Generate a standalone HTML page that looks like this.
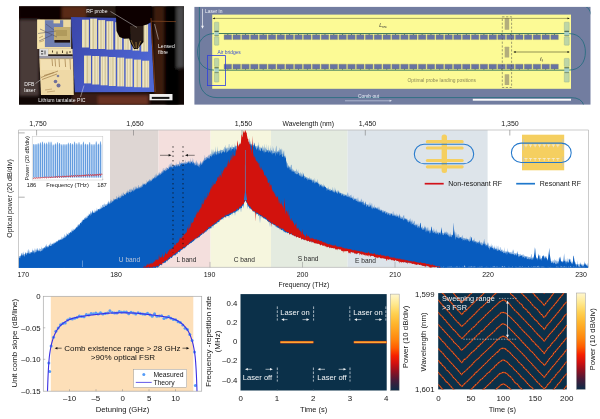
<!DOCTYPE html>
<html lang="en">
<head>
<meta charset="utf-8">
<title>Electro-optic comb figure</title>
<style>
html,body{margin:0;padding:0;background:#fff;}
body{width:600px;height:419px;overflow:hidden;}
svg{display:block;}
svg text{font-family:"Liberation Sans", "DejaVu Sans", sans-serif;}
</style>
</head>
<body>
<svg width="600" height="419" viewBox="0 0 600 419">
<rect x="0" y="0" width="600" height="419" fill="#ffffff"/>
<g id="photo">
<defs>
<clipPath id="cpPhoto"><rect x="19" y="6.3" width="165" height="98.4"/></clipPath>
<linearGradient id="gPic" x1="0" y1="0" x2="1" y2="0.6"><stop offset="0" stop-color="#3a46a8"/><stop offset="0.5" stop-color="#4456c0"/><stop offset="1" stop-color="#4f68d4"/></linearGradient>
<linearGradient id="gStrip" x1="0" y1="0" x2="1" y2="0"><stop offset="0" stop-color="#e4d8a8"/><stop offset="0.2" stop-color="#f0e8c6"/><stop offset="0.3" stop-color="#cfc294"/><stop offset="0.42" stop-color="#f0e8c6"/><stop offset="0.5" stop-color="#cfc294"/><stop offset="0.6" stop-color="#f0e8c6"/><stop offset="0.72" stop-color="#cfc294"/><stop offset="0.82" stop-color="#f0e8c6"/><stop offset="1" stop-color="#e0d4a4"/></linearGradient>
<linearGradient id="gBg" x1="0" y1="0" x2="1" y2="0"><stop offset="0" stop-color="#2a1a18"/><stop offset="0.15" stop-color="#1c100e"/><stop offset="0.4" stop-color="#140805"/><stop offset="1" stop-color="#0a0403"/></linearGradient>
<filter id="bl1" x="-10%" y="-10%" width="120%" height="120%"><feGaussianBlur stdDeviation="0.5"/></filter>
<filter id="bl2" x="-10%" y="-10%" width="120%" height="120%"><feGaussianBlur stdDeviation="1.5"/></filter>
</defs>
<g clip-path="url(#cpPhoto)">
<rect x="19" y="6" width="165" height="99" fill="#100705"/>
<g filter="url(#bl2)">
<rect x="19" y="20" width="20" height="76" fill="#4a3a37"/>
<rect x="19" y="6" width="45" height="14" fill="#0a0302"/>
<rect x="62" y="6" width="24" height="13" fill="#5a2c16"/>
<rect x="86" y="6" width="30" height="11" fill="#2a1a14"/>
<rect x="154" y="6" width="10" height="90" fill="#3e1e0e"/>
<rect x="166" y="6" width="13" height="99" fill="#050202"/>
<rect x="176.5" y="6" width="8" height="62" fill="#48484c"/>
<rect x="72" y="93" width="78" height="12" fill="#3a1a12"/>
<rect x="98" y="96" width="50" height="9" fill="#6a3020"/>
</g>
<g filter="url(#bl1)">
<rect x="37.2" y="19.5" width="34" height="29.5" fill="#f0dca4"/>
<rect x="44.8" y="20.2" width="25.9" height="26.8" fill="#6f7fb0"/>
<rect x="37.4" y="19.8" width="7.2" height="29" fill="#f6e4ac"/>
<rect x="53.5" y="20" width="6.5" height="3.4" fill="#ecd89c"/>
<rect x="63.2" y="20" width="7.4" height="7" fill="#ecd8a0"/>
<rect x="54" y="27" width="16" height="13.2" fill="#c4ae6e"/>
<rect x="56" y="30" width="11" height="6" fill="#b09a5c"/>
<rect x="54.5" y="40" width="15.5" height="2.6" fill="#1a100a"/>
<path d="M38 33.5 L56 31 M40 29 L57 37 M39 41 L52 35 M46 24 L54 30" stroke="#4a4658" stroke-width="0.5" fill="none"/>
<path d="M39 38 L43 36 M39.5 42 L44 40.5" stroke="#a08050" stroke-width="0.6" fill="none"/>
<rect x="39.3" y="48.8" width="33.5" height="9.8" fill="#9a98a4"/>
<rect x="39.5" y="49" width="8.6" height="7" fill="#dedede"/>
<path d="M41 50.5 h2.2 v1.6 h-2.2z M44.5 50.5 h1 v4 h-1z M41 53.2 h2.2 v1.4 h-2.2z" fill="#555"/>
<rect x="48.2" y="49" width="24.4" height="5.6" fill="#f2e2b0"/>
<rect x="48.2" y="54.4" width="24.4" height="1.5" fill="#1c120c"/>
<path d="M52.5 50.5 v2 M57 51.5 v2.5 M62.5 50.5 v2.5 M67 51.5 v2.5 M70 51 v2" stroke="#3a2a18" stroke-width="0.9" fill="none"/>
<path d="M39.3 58.5 L73.3 58.5 L73.8 95 L41 95 Z" fill="#efd9a6"/>
<rect x="41" y="60" width="31" height="10" fill="#f3e0b2"/>
<path d="M41 77.5 L58 71 M42 79.5 L57 74 M44 75.5 L54 72.5 M52 59 L52.6 66 M55 59 L55.6 66.5 M59 59 L59.5 67 M65 59 L65.6 67 M70 59 L70.5 69.5" stroke="#a07c48" stroke-width="0.7" fill="none"/>
<path d="M45 90 L52 89 M47 92 L55 91" stroke="#b08c58" stroke-width="0.6" fill="none"/>
<circle cx="55.5" cy="81.5" r="1.8" fill="#70709a"/><circle cx="58.5" cy="85.5" r="2" fill="#70709a"/><circle cx="58" cy="76" r="1.3" fill="#80809c"/>
<path d="M71 17 L150.5 18.5 L154.3 92 L74.8 92.3 Z" fill="url(#gPic)"/>
<rect x="82" y="19.7" width="6.9" height="27.8" fill="url(#gStrip)"/>
<rect x="90.1" y="18.6" width="6.9" height="30.4" fill="url(#gStrip)"/>
<rect x="98.2" y="20.1" width="6.9" height="28.9" fill="url(#gStrip)"/>
<rect x="106.4" y="21.2" width="6.9" height="28.4" fill="url(#gStrip)"/>
<rect x="115.2" y="22.2" width="6.9" height="27.4" fill="url(#gStrip)"/>
<rect x="123.8" y="22.5" width="6.9" height="27.3" fill="url(#gStrip)"/>
<rect x="132.5" y="23" width="6.9" height="27.6" fill="url(#gStrip)"/>
<rect x="141.2" y="24.2" width="6.9" height="27.4" fill="url(#gStrip)"/>
<rect x="84" y="55.6" width="7.0" height="27.8" fill="url(#gStrip)"/>
<rect x="92.2" y="56" width="7.0" height="28.5" fill="url(#gStrip)"/>
<rect x="100.6" y="56.5" width="7.0" height="28.8" fill="url(#gStrip)"/>
<rect x="108.8" y="57" width="7.0" height="29" fill="url(#gStrip)"/>
<rect x="117.2" y="57.6" width="7.0" height="28.8" fill="url(#gStrip)"/>
<rect x="125.6" y="58.6" width="7.0" height="28.2" fill="url(#gStrip)"/>
<rect x="134" y="59.6" width="7.0" height="27.6" fill="url(#gStrip)"/>
<rect x="142.2" y="60.7" width="7.0" height="26.8" fill="url(#gStrip)"/>
<path d="M115.6 6 L151.5 6 L151.5 22 L147 24.5 L143.5 25.5 L143.5 42 L140 46 L137.5 49 L134 49 L131 44 L129 38.5 L124 38.8 L119.5 37 L116.5 31 Z" fill="#0b0605"/>
<path d="M130 26 L131 42 L135.5 48.5 L140 44 L143 40 L143 26 Z" fill="#2c1e14"/>
<path d="M131 40 L134.5 48 M136 42 L136.3 48.5 M140.5 41 L138 48" stroke="#b08a48" stroke-width="0.7" fill="none"/>
<rect x="149.5" y="94" width="23" height="6.3" fill="#efefef"/>
<rect x="151.8" y="96.9" width="17.6" height="2" fill="#151515"/>
</g>
<path d="M110.5 11.5 L137 27.5 M158.5 39.5 L154.6 24 M35.5 83.5 L41 79.5 M80.5 97 L84 85.5" stroke="#f0f0f0" stroke-width="0.45" fill="none"/>
<path d="M151.5 21.2 L176 21.6" stroke="#8a4a22" stroke-width="0.7" fill="none"/>
<path d="M151 18 L152.2 40 L155.2 92" stroke="#a8521e" stroke-width="1.1" fill="none" opacity="0.6"/>
</g>
<text x="86.3" y="13" font-size="5.1" fill="#f4f4f4" text-anchor="start">RF probe</text>
<text x="158" y="47.5" font-size="5.1" fill="#f4f4f4" text-anchor="start">Lensed</text>
<text x="158" y="53.7" font-size="5.1" fill="#f4f4f4" text-anchor="start">fibre</text>
<text x="24.3" y="86.2" font-size="5.1" fill="#f4f4f4" text-anchor="start">DFB</text>
<text x="24.3" y="92.2" font-size="5.1" fill="#f4f4f4" text-anchor="start">laser</text>
<text x="38.2" y="101.7" font-size="5.1" fill="#f4f4f4" text-anchor="start">Lithium tantalate PIC</text>
</g>
<g id="schem">
<defs><clipPath id="cpS"><rect x="194.4" y="6.9" width="396.1" height="97.7"/></clipPath></defs>
<rect x="194.4" y="6.9" width="396.1" height="97.7" fill="#727da0"/>
<rect x="212.2" y="14.6" width="358.8" height="74.2" fill="#fcfa95"/>
<g clip-path="url(#cpS)" fill="none">
<path d="M199.4 6 L199.4 79 C199.4 90 206 97.6 217 97.6 L571 97.6 Q582 97.6 584 106" stroke="#1f6b7c" stroke-width="0.8"/>
<path d="M214 33.6 C203 33.6 197.6 42 197.6 52 C197.6 62 203 70.1 214 70.1" stroke="#1f6b7c" stroke-width="0.8"/>
<path d="M569 33.6 C580 33.6 585.4 42 585.4 52 C585.4 62 580 70.1 569 70.1" stroke="#1f6b7c" stroke-width="0.8"/>
<path d="M585 6 Q589.6 8 591 14.5" stroke="#1f6b7c" stroke-width="0.8"/>
</g>
<rect x="216" y="33.1" width="350" height="0.9" fill="#2c6f58"/>
<rect x="216" y="69.7" width="350" height="0.9" fill="#2c6f58"/>
<path d="M224.1 34.8h7.5v4.8h-7.5z M224.1 64.2h7.5v4.7h-7.5z M232.93 34.8h7.5v4.8h-7.5z M232.93 64.2h7.5v4.7h-7.5z M241.76 34.8h7.5v4.8h-7.5z M241.76 64.2h7.5v4.7h-7.5z M250.59 34.8h7.5v4.8h-7.5z M250.59 64.2h7.5v4.7h-7.5z M259.42 34.8h7.5v4.8h-7.5z M259.42 64.2h7.5v4.7h-7.5z M268.25 34.8h7.5v4.8h-7.5z M268.25 64.2h7.5v4.7h-7.5z M277.08 34.8h7.5v4.8h-7.5z M277.08 64.2h7.5v4.7h-7.5z M285.91 34.8h7.5v4.8h-7.5z M285.91 64.2h7.5v4.7h-7.5z M294.74 34.8h7.5v4.8h-7.5z M294.74 64.2h7.5v4.7h-7.5z M303.57 34.8h7.5v4.8h-7.5z M303.57 64.2h7.5v4.7h-7.5z M312.4 34.8h7.5v4.8h-7.5z M312.4 64.2h7.5v4.7h-7.5z M321.23 34.8h7.5v4.8h-7.5z M321.23 64.2h7.5v4.7h-7.5z M330.06 34.8h7.5v4.8h-7.5z M330.06 64.2h7.5v4.7h-7.5z M338.89 34.8h7.5v4.8h-7.5z M338.89 64.2h7.5v4.7h-7.5z M347.72 34.8h7.5v4.8h-7.5z M347.72 64.2h7.5v4.7h-7.5z M356.55 34.8h7.5v4.8h-7.5z M356.55 64.2h7.5v4.7h-7.5z M365.38 34.8h7.5v4.8h-7.5z M365.38 64.2h7.5v4.7h-7.5z M374.21 34.8h7.5v4.8h-7.5z M374.21 64.2h7.5v4.7h-7.5z M383.04 34.8h7.5v4.8h-7.5z M383.04 64.2h7.5v4.7h-7.5z M391.87 34.8h7.5v4.8h-7.5z M391.87 64.2h7.5v4.7h-7.5z M400.7 34.8h7.5v4.8h-7.5z M400.7 64.2h7.5v4.7h-7.5z M409.53 34.8h7.5v4.8h-7.5z M409.53 64.2h7.5v4.7h-7.5z M418.36 34.8h7.5v4.8h-7.5z M418.36 64.2h7.5v4.7h-7.5z M427.19 34.8h7.5v4.8h-7.5z M427.19 64.2h7.5v4.7h-7.5z M436.02 34.8h7.5v4.8h-7.5z M436.02 64.2h7.5v4.7h-7.5z M444.85 34.8h7.5v4.8h-7.5z M444.85 64.2h7.5v4.7h-7.5z M453.68 34.8h7.5v4.8h-7.5z M453.68 64.2h7.5v4.7h-7.5z M462.51 34.8h7.5v4.8h-7.5z M462.51 64.2h7.5v4.7h-7.5z M471.34 34.8h7.5v4.8h-7.5z M471.34 64.2h7.5v4.7h-7.5z M480.17 34.8h7.5v4.8h-7.5z M480.17 64.2h7.5v4.7h-7.5z M489 34.8h7.5v4.8h-7.5z M489 64.2h7.5v4.7h-7.5z M497.83 34.8h7.5v4.8h-7.5z M497.83 64.2h7.5v4.7h-7.5z M506.66 34.8h7.5v4.8h-7.5z M506.66 64.2h7.5v4.7h-7.5z M515.49 34.8h7.5v4.8h-7.5z M515.49 64.2h7.5v4.7h-7.5z M524.32 34.8h7.5v4.8h-7.5z M524.32 64.2h7.5v4.7h-7.5z M533.15 34.8h7.5v4.8h-7.5z M533.15 64.2h7.5v4.7h-7.5z M541.98 34.8h7.5v4.8h-7.5z M541.98 64.2h7.5v4.7h-7.5z M550.81 34.8h7.5v4.8h-7.5z M550.81 64.2h7.5v4.7h-7.5z" fill="#6873a2" stroke="#7f8266" stroke-width="0.35"/>
<path d="M227.45 33.9h0.8v1h-0.8z M227.45 68.8h0.8v1h-0.8z M236.28 33.9h0.8v1h-0.8z M236.28 68.8h0.8v1h-0.8z M245.11 33.9h0.8v1h-0.8z M245.11 68.8h0.8v1h-0.8z M253.94 33.9h0.8v1h-0.8z M253.94 68.8h0.8v1h-0.8z M262.77 33.9h0.8v1h-0.8z M262.77 68.8h0.8v1h-0.8z M271.6 33.9h0.8v1h-0.8z M271.6 68.8h0.8v1h-0.8z M280.43 33.9h0.8v1h-0.8z M280.43 68.8h0.8v1h-0.8z M289.26 33.9h0.8v1h-0.8z M289.26 68.8h0.8v1h-0.8z M298.09 33.9h0.8v1h-0.8z M298.09 68.8h0.8v1h-0.8z M306.92 33.9h0.8v1h-0.8z M306.92 68.8h0.8v1h-0.8z M315.75 33.9h0.8v1h-0.8z M315.75 68.8h0.8v1h-0.8z M324.58 33.9h0.8v1h-0.8z M324.58 68.8h0.8v1h-0.8z M333.41 33.9h0.8v1h-0.8z M333.41 68.8h0.8v1h-0.8z M342.24 33.9h0.8v1h-0.8z M342.24 68.8h0.8v1h-0.8z M351.07 33.9h0.8v1h-0.8z M351.07 68.8h0.8v1h-0.8z M359.9 33.9h0.8v1h-0.8z M359.9 68.8h0.8v1h-0.8z M368.73 33.9h0.8v1h-0.8z M368.73 68.8h0.8v1h-0.8z M377.56 33.9h0.8v1h-0.8z M377.56 68.8h0.8v1h-0.8z M386.39 33.9h0.8v1h-0.8z M386.39 68.8h0.8v1h-0.8z M395.22 33.9h0.8v1h-0.8z M395.22 68.8h0.8v1h-0.8z M404.05 33.9h0.8v1h-0.8z M404.05 68.8h0.8v1h-0.8z M412.88 33.9h0.8v1h-0.8z M412.88 68.8h0.8v1h-0.8z M421.71 33.9h0.8v1h-0.8z M421.71 68.8h0.8v1h-0.8z M430.54 33.9h0.8v1h-0.8z M430.54 68.8h0.8v1h-0.8z M439.37 33.9h0.8v1h-0.8z M439.37 68.8h0.8v1h-0.8z M448.2 33.9h0.8v1h-0.8z M448.2 68.8h0.8v1h-0.8z M457.03 33.9h0.8v1h-0.8z M457.03 68.8h0.8v1h-0.8z M465.86 33.9h0.8v1h-0.8z M465.86 68.8h0.8v1h-0.8z M474.69 33.9h0.8v1h-0.8z M474.69 68.8h0.8v1h-0.8z M483.52 33.9h0.8v1h-0.8z M483.52 68.8h0.8v1h-0.8z M492.35 33.9h0.8v1h-0.8z M492.35 68.8h0.8v1h-0.8z M501.18 33.9h0.8v1h-0.8z M501.18 68.8h0.8v1h-0.8z M510.01 33.9h0.8v1h-0.8z M510.01 68.8h0.8v1h-0.8z M518.84 33.9h0.8v1h-0.8z M518.84 68.8h0.8v1h-0.8z M527.67 33.9h0.8v1h-0.8z M527.67 68.8h0.8v1h-0.8z M536.5 33.9h0.8v1h-0.8z M536.5 68.8h0.8v1h-0.8z M545.33 33.9h0.8v1h-0.8z M545.33 68.8h0.8v1h-0.8z M554.16 33.9h0.8v1h-0.8z M554.16 68.8h0.8v1h-0.8z" fill="#3d6a6a"/>
<rect x="214.4" y="22.2" width="4.4" height="8.7" rx="0.6" fill="#bdd6a6" stroke="#8fa88a" stroke-width="0.4"/>
<rect x="214.4" y="36.8" width="4.4" height="8.4" rx="0.6" fill="#bdd6a6" stroke="#8fa88a" stroke-width="0.4"/>
<rect x="214.4" y="58.4" width="4.4" height="8.2" rx="0.6" fill="#bdd6a6" stroke="#8fa88a" stroke-width="0.4"/>
<rect x="214.4" y="73" width="4.4" height="9.1" rx="0.6" fill="#bdd6a6" stroke="#8fa88a" stroke-width="0.4"/>
<rect x="214.4" y="31.5" width="4.4" height="4.2" fill="#a6cfc4"/>
<rect x="214.4" y="30.900000000000002" width="4.4" height="0.8" fill="#24453c"/>
<rect x="214.4" y="35.5" width="4.4" height="0.6" fill="#4a6a5c"/>
<rect x="214.4" y="68.0" width="4.4" height="4.2" fill="#a6cfc4"/>
<rect x="214.4" y="67.39999999999999" width="4.4" height="0.8" fill="#24453c"/>
<rect x="214.4" y="72.0" width="4.4" height="0.6" fill="#4a6a5c"/>
<rect x="564.3" y="22.2" width="4.9" height="8.7" rx="0.6" fill="#bdd6a6" stroke="#8fa88a" stroke-width="0.4"/>
<rect x="564.3" y="36.8" width="4.9" height="8.4" rx="0.6" fill="#bdd6a6" stroke="#8fa88a" stroke-width="0.4"/>
<rect x="564.3" y="58.4" width="4.9" height="8.2" rx="0.6" fill="#bdd6a6" stroke="#8fa88a" stroke-width="0.4"/>
<rect x="564.3" y="73" width="4.9" height="9.1" rx="0.6" fill="#bdd6a6" stroke="#8fa88a" stroke-width="0.4"/>
<rect x="564.3" y="31.5" width="4.9" height="4.2" fill="#a6cfc4"/>
<rect x="564.3" y="30.900000000000002" width="4.9" height="0.8" fill="#24453c"/>
<rect x="564.3" y="35.5" width="4.9" height="0.6" fill="#4a6a5c"/>
<rect x="564.3" y="68.0" width="4.9" height="4.2" fill="#a6cfc4"/>
<rect x="564.3" y="67.39999999999999" width="4.9" height="0.8" fill="#24453c"/>
<rect x="564.3" y="72.0" width="4.9" height="0.6" fill="#4a6a5c"/>
<rect x="504.7" y="18.3" width="4.5" height="11.4" rx="0.5" fill="#b3ae7c"/>
<rect x="504.7" y="46.8" width="4.5" height="10.7" rx="0.5" fill="#b3ae7c"/>
<rect x="504.7" y="74.2" width="4.5" height="10.8" rx="0.5" fill="#b3ae7c"/>
<rect x="502.3" y="16.8" width="9.3" height="70.7" fill="none" stroke="#444" stroke-width="0.5" stroke-dasharray="2.2 1.6"/>
<path d="M214 18.4 L568.5 18.4" stroke="#3a3a18" stroke-width="0.45"/>
<path d="M212.5 18.4 l2.3 -0.95 v1.9z M569.8 18.4 l-2.3 -0.95 v1.9z" fill="#111"/>
<path d="M514.5 52 L568.5 52" stroke="#2a2a10" stroke-width="0.5"/>
<path d="M513.3 52 l2.3 -0.95 v1.9z M569.8 52 l-2.3 -0.95 v1.9z" fill="#111"/>
<rect x="207.4" y="55.6" width="18.2" height="30" fill="none" stroke="#2f3fe0" stroke-width="0.8"/>
<path d="M202.5 8.8 L202.5 27" stroke="#f2f2f6" stroke-width="0.7"/>
<path d="M202.5 28.8 l-1.4 -3 h2.8z" fill="#f2f2f6"/>
<path d="M345 100.8 L390.5 100.8" stroke="#b4bcd4" stroke-width="0.9"/>
<path d="M392 100.8 l-2.4 -1 v2z" fill="#e0e4f0"/>
<rect x="472.8" y="98.8" width="98.2" height="1.9" fill="#fbfbfb"/>
<text x="205" y="12.6" font-size="4.9" fill="#eef0f6" text-anchor="start">Laser in</text>
<text x="217.4" y="53.7" font-size="4.9" fill="#3b52d0" text-anchor="start">Air bridges</text>
<text x="358" y="98.3" font-size="4.9" fill="#e8ecf6" text-anchor="start">Comb out</text>
<text x="407.5" y="81.7" font-size="4.9" fill="#8c8a58" text-anchor="start">Optimal probe landing positions</text>
<text x="379.2" y="26.7" font-size="5.2" fill="#333" font-style="italic">L<tspan font-size="3.4" dy="1.2">rec</tspan></text>
<text x="540" y="60.6" font-size="5.4" fill="#333" font-style="italic">ℓ<tspan font-size="3.4" dy="1.2">f</tspan></text>
</g>
<g id="spec">
<defs><clipPath id="cpSpec"><rect x="18.7" y="130.0" width="569.6" height="137.84999999999997"/></clipPath></defs>
<rect x="110" y="130.0" width="48.5" height="137.39999999999998" fill="#ded6d3"/>
<rect x="158.5" y="130.0" width="52" height="137.39999999999998" fill="#f4dfdd"/>
<rect x="210.5" y="130.0" width="60.5" height="137.39999999999998" fill="#f6f6de"/>
<rect x="271" y="130.0" width="76.6" height="137.39999999999998" fill="#e4ebe0"/>
<rect x="347.6" y="130.0" width="140" height="137.39999999999998" fill="#dde4ea"/>
<path d="M18.5 267.4 H588.5" fill="none" stroke="#b4b4b4" stroke-width="0.7"/>
<path d="M117.5 267.4 v-5.5 M210 267.4 v-5.5 M302.5 267.4 v-5.5 M395 267.4 v-5.5 M487.5 267.4 v-5.5" stroke="#8a8a8a" stroke-width="0.5" fill="none"/>
<g clip-path="url(#cpSpec)">
<polygon points="18.5,256.3 18.9,256.2 19.3,256.0 19.7,255.9 20.1,255.7 20.5,255.6 20.9,255.4 21.3,252.6 21.7,255.1 22.1,255.0 22.5,254.9 22.9,254.7 23.3,254.6 23.7,254.4 24.1,254.3 24.5,254.1 24.9,254.0 25.3,253.8 25.7,253.7 26.1,253.5 26.5,253.4 26.9,253.3 27.3,253.1 27.7,253.0 28.1,252.9 28.5,252.7 28.9,249.5 29.3,250.8 29.7,252.4 30.1,252.3 30.5,252.2 30.9,252.0 31.3,251.9 31.7,251.8 32.1,251.7 32.5,248.0 32.9,251.4 33.3,251.3 33.7,251.2 34.1,251.1 34.5,247.7 34.9,250.9 35.3,248.2 35.7,250.6 36.1,250.5 36.5,250.4 36.9,250.3 37.3,250.2 37.7,250.0 38.1,249.9 38.5,249.8 38.9,249.7 39.3,249.6 39.7,247.7 40.1,249.3 40.5,249.1 40.9,248.9 41.3,246.3 41.7,248.6 42.1,248.4 42.5,248.2 42.9,248.0 43.3,247.9 43.7,247.7 44.1,247.5 44.5,247.3 44.9,247.1 45.3,245.9 45.7,246.8 46.1,245.3 46.5,246.4 46.9,246.2 47.3,246.0 47.7,245.9 48.1,245.7 48.5,245.5 48.9,245.3 49.3,244.0 49.7,244.9 50.1,242.4 50.5,244.6 50.9,242.2 51.3,244.2 51.7,244.0 52.1,243.9 52.5,243.7 52.9,243.4 53.3,242.9 53.7,242.5 54.1,242.8 54.5,242.5 54.9,242.3 55.3,242.1 55.7,241.8 56.1,241.6 56.5,241.1 56.9,241.1 57.3,240.9 57.7,240.7 58.1,240.5 58.5,240.2 58.9,238.9 59.3,239.8 59.7,239.5 60.1,239.3 60.5,239.1 60.9,238.8 61.3,238.6 61.7,236.6 62.1,237.1 62.5,237.9 62.9,237.6 63.3,237.4 63.7,237.2 64.1,234.8 64.5,234.1 64.9,236.5 65.3,236.2 65.7,235.2 66.1,235.5 66.5,233.8 66.9,232.5 67.3,234.6 67.7,234.3 68.1,234.0 68.5,232.2 68.9,233.3 69.3,233.0 69.7,232.7 70.1,231.7 70.5,232.1 70.9,231.7 71.3,230.7 71.7,229.9 72.1,228.3 72.5,230.5 72.9,230.2 73.3,228.4 73.7,229.5 74.1,229.2 74.5,228.9 74.9,228.6 75.3,228.3 75.7,228.0 76.1,226.7 76.5,227.3 76.9,226.6 77.3,224.3 77.7,226.3 78.1,225.1 78.5,225.3 78.9,224.1 79.3,224.4 79.7,223.9 80.1,223.4 80.5,222.8 80.9,222.5 81.3,222.0 81.7,221.5 82.1,219.0 82.5,220.6 82.9,220.1 83.3,219.6 83.7,219.2 84.1,218.8 84.5,217.5 84.9,218.2 85.3,216.4 85.7,217.6 86.1,217.2 86.5,216.9 86.9,215.6 87.3,215.6 87.7,216.0 88.1,215.4 88.5,215.3 88.9,213.2 89.3,214.7 89.7,214.4 90.1,212.5 90.5,213.9 90.9,213.6 91.3,213.4 91.7,212.6 92.1,212.4 92.5,210.2 92.9,210.1 93.3,212.2 93.7,212.0 94.1,211.7 94.5,211.5 94.9,209.2 95.3,211.0 95.7,210.8 96.1,210.6 96.5,210.3 96.9,207.4 97.3,209.8 97.7,209.6 98.1,209.4 98.5,209.1 98.9,208.9 99.3,208.7 99.7,208.4 100.1,208.2 100.5,208.0 100.9,205.2 101.3,207.5 101.7,207.2 102.1,205.1 102.5,205.2 102.9,204.4 103.3,204.2 103.7,206.0 104.1,203.4 104.5,203.5 104.9,205.3 105.3,203.8 105.7,204.8 106.1,204.6 106.5,204.0 106.9,204.1 107.3,203.9 107.7,203.6 108.1,201.4 108.5,203.1 108.9,200.3 109.3,202.7 109.7,202.4 110.1,201.2 110.5,201.3 110.9,199.0 111.3,201.5 111.7,199.4 112.1,201.0 112.5,200.7 112.9,200.5 113.3,199.4 113.7,198.1 114.1,199.8 114.5,199.5 114.9,199.3 115.3,199.1 115.7,198.8 116.1,198.6 116.5,195.7 116.9,196.6 117.3,197.9 117.7,197.7 118.1,197.1 118.5,197.3 118.9,194.2 119.3,196.8 119.7,196.5 120.1,196.4 120.5,196.1 120.9,194.9 121.3,195.7 121.7,193.1 122.1,195.2 122.5,195.0 122.9,192.8 123.3,192.2 123.7,193.3 124.1,194.1 124.5,193.9 124.9,193.7 125.3,193.4 125.7,193.2 126.1,193.0 126.5,191.0 126.9,192.5 127.3,189.5 127.7,192.1 128.1,190.6 128.5,191.8 128.9,191.6 129.3,190.1 129.7,189.2 130.1,188.5 130.5,189.4 130.9,190.7 131.3,188.3 131.7,190.3 132.1,188.5 132.5,190.0 132.9,189.8 133.3,187.6 133.7,187.3 134.1,189.3 134.5,189.1 134.9,186.3 135.3,188.7 135.7,186.1 136.1,187.3 136.5,186.2 136.9,188.0 137.3,187.9 137.7,187.7 138.1,184.9 138.5,185.1 138.9,187.2 139.3,187.0 139.7,186.8 140.1,186.6 140.5,186.4 140.9,185.7 141.3,185.9 141.7,185.1 142.1,185.4 142.5,185.2 142.9,182.4 143.3,183.4 143.7,184.4 144.1,184.2 144.5,184.0 144.9,183.7 145.3,183.5 145.7,183.2 146.1,183.0 146.5,182.8 146.9,179.7 147.3,182.3 147.7,182.0 148.1,181.8 148.5,179.9 148.9,181.3 149.3,181.1 149.7,180.8 150.1,179.1 150.5,180.3 150.9,180.0 151.3,179.7 151.7,179.4 152.1,176.9 152.5,178.8 152.9,178.5 153.3,178.2 153.7,177.9 154.1,176.7 154.5,177.4 154.9,174.8 155.3,176.8 155.7,173.8 156.1,176.2 156.5,172.9 156.9,175.3 157.3,175.3 157.7,175.0 158.1,174.7 158.5,172.2 158.9,174.2 159.3,173.9 159.7,171.5 160.1,173.3 160.5,173.0 160.9,172.7 161.3,170.8 161.7,172.1 162.1,171.8 162.5,171.5 162.9,168.4 163.3,167.7 163.7,170.7 164.1,170.1 164.5,170.2 164.9,167.9 165.3,169.6 165.7,168.5 166.1,166.8 166.5,168.8 166.9,166.9 167.3,168.3 167.7,168.0 168.1,167.7 168.5,167.5 168.9,164.9 169.3,166.9 169.7,164.5 170.1,163.4 170.5,166.3 170.9,163.3 171.3,162.6 171.7,166.0 172.1,165.8 172.5,164.7 172.9,163.6 173.3,164.9 173.7,164.9 174.1,165.3 174.5,165.1 174.9,165.0 175.3,164.9 175.7,164.8 176.1,161.9 176.5,164.6 176.9,164.5 177.3,164.3 177.7,164.2 178.1,164.1 178.5,164.0 178.9,163.9 179.3,162.4 179.7,160.2 180.1,163.5 180.5,162.6 180.9,163.3 181.3,161.8 181.7,163.1 182.1,162.7 182.5,162.8 182.9,162.8 183.3,162.7 183.7,162.6 184.1,162.6 184.5,162.5 184.9,162.4 185.3,162.4 185.7,159.4 186.1,162.3 186.5,162.2 186.9,162.1 187.3,161.7 187.7,162.0 188.1,160.4 188.5,161.6 188.9,161.8 189.3,160.8 189.7,161.7 190.1,161.6 190.5,158.1 190.9,161.5 191.3,161.4 191.7,161.2 192.1,160.3 192.5,161.2 192.9,157.8 193.3,160.6 193.7,162.2 194.1,162.5 194.5,162.8 194.9,163.1 195.3,163.4 195.7,161.0 196.1,164.1 196.5,164.4 196.9,161.1 197.3,165.0 197.7,162.2 198.1,163.0 198.5,164.8 198.9,164.3 199.3,165.1 199.7,164.9 200.1,161.6 200.5,163.9 200.9,163.4 201.3,162.8 201.7,162.5 202.1,162.0 202.5,161.5 202.9,161.0 203.3,160.5 203.7,160.0 204.1,158.0 204.5,158.0 204.9,154.5 205.3,158.2 205.7,157.9 206.1,156.8 206.5,157.3 206.9,157.1 207.3,156.8 207.7,156.5 208.1,156.2 208.5,154.6 208.9,155.7 209.3,155.4 209.7,155.1 210.1,153.2 210.5,154.6 210.9,154.3 211.3,154.0 211.7,148.8 212.1,153.4 212.5,148.9 212.9,153.0 213.3,148.9 213.7,152.7 214.1,152.6 214.5,152.5 214.9,152.3 215.3,146.2 215.7,151.4 216.1,151.5 216.5,151.8 216.9,151.7 217.3,151.5 217.7,146.0 218.1,151.3 218.5,151.2 218.9,151.0 219.3,150.9 219.7,150.8 220.1,149.1 220.5,150.5 220.9,150.4 221.3,149.8 221.7,150.1 222.1,150.0 222.5,149.9 222.9,149.7 223.3,149.6 223.7,149.5 224.1,147.0 224.5,146.8 224.9,149.1 225.3,147.6 225.7,144.4 226.1,148.8 226.5,148.7 226.9,148.6 227.3,146.7 227.7,148.4 228.1,148.3 228.5,147.6 228.9,144.0 229.3,143.9 229.7,147.9 230.1,147.8 230.5,146.6 230.9,147.6 231.3,147.5 231.7,145.9 232.1,144.1 232.5,147.2 232.9,147.1 233.3,147.0 233.7,146.9 234.1,146.8 234.5,146.7 234.9,142.9 235.3,146.5 235.7,145.2 236.1,145.5 236.5,146.0 236.9,145.9 237.3,142.3 237.7,145.6 238.1,145.5 238.5,145.3 238.9,145.2 239.3,145.1 239.7,144.9 240.1,144.8 240.5,143.2 240.9,144.5 241.3,144.4 241.7,144.2 242.1,144.1 242.5,143.9 242.9,139.5 243.3,141.1 243.7,143.5 244.1,143.4 244.5,143.2 244.9,138.3 245.3,143.1 245.7,137.1 246.1,143.1 246.5,143.1 246.9,143.1 247.3,138.5 247.7,143.1 248.1,143.1 248.5,141.2 248.9,143.1 249.3,137.6 249.7,140.2 250.1,143.1 250.5,140.6 250.9,143.5 251.3,143.7 251.7,143.9 252.1,144.1 252.5,144.3 252.9,141.0 253.3,144.7 253.7,144.9 254.1,145.1 254.5,142.2 254.9,145.5 255.3,145.7 255.7,145.9 256.1,146.1 256.5,146.3 256.9,146.5 257.3,146.7 257.7,144.8 258.1,147.1 258.5,144.4 258.9,141.8 259.3,147.7 259.7,147.0 260.1,148.1 260.5,146.3 260.9,148.3 261.3,147.0 261.7,148.5 262.1,146.8 262.5,145.0 262.9,148.8 263.3,146.3 263.7,149.0 264.1,147.9 264.5,143.5 264.9,149.3 265.3,148.2 265.7,146.8 266.1,149.6 266.5,149.7 266.9,143.8 267.3,149.9 267.7,150.0 268.1,150.1 268.5,144.6 268.9,150.3 269.3,150.4 269.7,150.5 270.1,147.4 270.5,150.6 270.9,144.8 271.3,150.7 271.7,150.8 272.1,150.8 272.5,150.9 272.9,145.4 273.3,151.0 273.7,147.0 274.1,151.1 274.5,151.2 274.9,151.3 275.3,151.3 275.7,148.6 276.1,146.5 276.5,145.5 276.9,150.7 277.3,151.6 277.7,151.7 278.1,151.7 278.5,151.8 278.9,151.9 279.3,151.9 279.7,147.2 280.1,149.0 280.5,150.1 280.9,148.7 281.3,149.9 281.7,148.0 282.1,153.7 282.5,154.0 282.9,148.8 283.3,154.7 283.7,154.3 284.1,150.0 284.5,155.6 284.9,155.9 285.3,157.2 285.7,158.8 286.1,160.5 286.5,162.1 286.9,163.7 287.3,162.7 287.7,163.7 288.1,165.6 288.5,164.7 288.9,166.7 289.3,167.3 289.7,165.9 290.1,166.5 290.5,167.7 290.9,165.1 291.3,164.9 291.7,164.4 292.1,169.4 292.5,169.7 292.9,168.0 293.3,170.1 293.7,170.3 294.1,170.6 294.5,170.8 294.9,171.0 295.3,170.7 295.7,171.5 296.1,169.9 296.5,168.6 296.9,172.1 297.3,170.8 297.7,172.6 298.1,169.2 298.5,173.1 298.9,173.3 299.3,173.5 299.7,173.7 300.1,172.4 300.5,172.3 300.9,174.4 301.3,173.2 301.7,174.8 302.1,171.6 302.5,174.6 302.9,175.4 303.3,175.6 303.7,173.0 304.1,176.0 304.5,176.1 304.9,175.8 305.3,176.5 305.7,176.7 306.1,176.9 306.5,177.1 306.9,177.3 307.3,177.5 307.7,177.7 308.1,177.9 308.5,178.0 308.9,178.2 309.3,178.4 309.7,176.2 310.1,178.8 310.5,179.0 310.9,178.1 311.3,178.4 311.7,179.6 312.1,179.2 312.5,179.9 312.9,179.9 313.3,180.3 313.7,178.8 314.1,180.6 314.5,180.9 314.9,177.4 315.3,181.2 315.7,181.6 316.1,181.8 316.5,181.2 316.9,182.3 317.3,178.7 317.7,181.2 318.1,183.0 318.5,182.1 318.9,183.4 319.3,183.7 319.7,183.9 320.1,183.6 320.5,184.4 320.9,184.7 321.3,184.2 321.7,184.2 322.1,184.7 322.5,185.6 322.9,185.8 323.3,186.1 323.7,183.3 324.1,186.6 324.5,186.8 324.9,187.0 325.3,187.3 325.7,187.5 326.1,187.8 326.5,188.0 326.9,188.2 327.3,188.5 327.7,187.4 328.1,188.8 328.5,186.2 328.9,189.0 329.3,189.2 329.7,189.3 330.1,189.4 330.5,188.6 330.9,189.7 331.3,189.8 331.7,189.9 332.1,190.0 332.5,186.6 332.9,190.3 333.3,190.4 333.7,190.5 334.1,186.9 334.5,190.8 334.9,190.9 335.3,190.6 335.7,188.1 336.1,191.3 336.5,191.4 336.9,191.6 337.3,191.7 337.7,189.8 338.1,191.9 338.5,192.1 338.9,192.2 339.3,191.2 339.7,192.4 340.1,192.6 340.5,192.7 340.9,192.9 341.3,193.1 341.7,193.2 342.1,193.4 342.5,193.5 342.9,193.7 343.3,193.8 343.7,194.0 344.1,194.2 344.5,194.3 344.9,194.5 345.3,194.6 345.7,194.8 346.1,195.0 346.5,195.1 346.9,194.2 347.3,191.7 347.7,193.4 348.1,195.0 348.5,195.9 348.9,192.5 349.3,196.2 349.7,196.4 350.1,196.5 350.5,195.0 350.9,195.0 351.3,194.6 351.7,197.2 352.1,196.4 352.5,197.5 352.9,197.7 353.3,195.2 353.7,198.1 354.1,198.3 354.5,198.4 354.9,198.6 355.3,198.8 355.7,198.5 356.1,199.2 356.5,197.9 356.9,199.6 357.3,199.8 357.7,197.7 358.1,197.2 358.5,200.3 358.9,200.5 359.3,200.7 359.7,200.9 360.1,201.1 360.5,201.3 360.9,199.4 361.3,199.8 361.7,198.2 362.1,202.1 362.5,202.2 362.9,200.1 363.3,201.1 363.7,202.8 364.1,203.0 364.5,203.2 364.9,203.4 365.3,201.0 365.7,201.9 366.1,203.9 366.5,204.0 366.9,204.2 367.3,204.4 367.7,204.5 368.1,203.7 368.5,204.8 368.9,205.0 369.3,202.0 369.7,205.3 370.1,205.5 370.5,205.6 370.9,202.2 371.3,203.4 371.7,206.1 372.1,203.3 372.5,206.4 372.9,206.6 373.3,206.5 373.7,206.9 374.1,207.0 374.5,204.3 374.9,207.4 375.3,207.1 375.7,207.7 376.1,207.0 376.5,208.0 376.9,208.2 377.3,206.6 377.7,208.5 378.1,206.5 378.5,207.6 378.9,208.9 379.3,209.1 379.7,206.3 380.1,209.4 380.5,209.6 380.9,209.7 381.3,209.9 381.7,209.3 382.1,210.2 382.5,210.4 382.9,210.5 383.3,210.7 383.7,210.2 384.1,211.0 384.5,210.7 384.9,211.3 385.3,210.5 385.7,211.6 386.1,211.8 386.5,212.0 386.9,211.7 387.3,212.3 387.7,212.4 388.1,212.6 388.5,212.7 388.9,212.9 389.3,213.1 389.7,213.2 390.1,213.4 390.5,213.5 390.9,213.6 391.3,213.8 391.7,213.7 392.1,214.0 392.5,214.2 392.9,211.7 393.3,211.2 393.7,214.6 394.1,213.1 394.5,214.5 394.9,215.0 395.3,214.3 395.7,215.2 396.1,215.3 396.5,213.1 396.9,215.6 397.3,214.0 397.7,215.9 398.1,214.7 398.5,216.1 398.9,216.3 399.3,215.4 399.7,213.3 400.1,216.7 400.5,216.8 400.9,215.5 401.3,217.1 401.7,217.2 402.1,217.3 402.5,217.5 402.9,216.6 403.3,214.9 403.7,216.1 404.1,215.1 404.5,218.1 404.9,218.2 405.3,218.2 405.7,218.7 406.1,218.9 406.5,219.2 406.9,217.7 407.3,219.1 407.7,219.9 408.1,220.1 408.5,220.4 408.9,220.6 409.3,218.8 409.7,221.1 410.1,221.3 410.5,221.6 410.9,221.8 411.3,219.4 411.7,222.3 412.1,221.3 412.5,219.3 412.9,223.0 413.3,223.2 413.7,221.7 414.1,220.8 414.5,220.9 414.9,222.3 415.3,224.4 415.7,224.6 416.1,224.8 416.5,225.1 416.9,223.1 417.3,225.6 417.7,223.5 418.1,226.0 418.5,226.1 418.9,223.1 419.3,226.4 419.7,226.6 420.1,224.9 420.5,226.9 420.9,227.1 421.3,227.2 421.7,227.4 422.1,227.5 422.5,225.4 422.9,227.9 423.3,228.0 423.7,228.2 424.1,227.1 424.5,228.5 424.9,224.9 425.3,228.0 425.7,226.1 426.1,229.1 426.5,227.3 426.9,229.4 427.3,227.1 427.7,227.8 428.1,229.9 428.5,230.1 428.9,226.7 429.3,230.4 429.7,230.5 430.1,229.5 430.5,230.8 430.9,230.8 431.3,229.5 431.7,230.1 432.1,229.8 432.5,231.1 432.9,231.2 433.3,227.7 433.7,231.4 434.1,228.4 434.5,231.5 434.9,231.6 435.3,231.4 435.7,231.8 436.1,228.7 436.5,231.9 436.9,230.2 437.3,232.1 437.7,232.2 438.1,232.2 438.5,232.3 438.9,232.4 439.3,232.5 439.7,232.6 440.1,231.1 440.5,232.7 440.9,232.8 441.3,229.9 441.7,232.9 442.1,233.0 442.5,233.1 442.9,233.2 443.3,233.3 443.7,233.3 444.1,232.9 444.5,233.0 444.9,232.6 445.3,233.6 445.7,231.2 446.1,233.8 446.5,233.9 446.9,230.8 447.3,234.0 447.7,232.0 448.1,232.5 448.5,234.3 448.9,234.4 449.3,234.4 449.7,234.5 450.1,231.7 450.5,234.7 450.9,233.6 451.3,234.8 451.7,234.9 452.1,235.0 452.5,234.5 452.9,235.1 453.3,233.8 453.7,233.3 454.1,234.6 454.5,235.4 454.9,232.1 455.3,235.6 455.7,231.9 456.1,232.5 456.5,234.7 456.9,236.1 457.3,233.8 457.7,236.3 458.1,236.4 458.5,234.3 458.9,233.8 459.3,236.7 459.7,236.8 460.1,236.9 460.5,237.1 460.9,237.2 461.3,236.6 461.7,237.4 462.1,235.6 462.5,235.2 462.9,237.7 463.3,237.8 463.7,237.9 464.1,238.1 464.5,238.2 464.9,238.3 465.3,238.4 465.7,238.5 466.1,238.6 466.5,238.7 466.9,237.0 467.3,238.9 467.7,239.0 468.1,239.2 468.5,239.3 468.9,239.4 469.3,239.5 469.7,238.2 470.1,236.2 470.5,236.6 470.9,239.9 471.3,237.1 471.7,237.2 472.1,240.3 472.5,240.4 472.9,240.5 473.3,240.6 473.7,238.9 474.1,240.8 474.5,237.8 474.9,241.0 475.3,241.1 475.7,241.2 476.1,241.4 476.5,241.5 476.9,241.4 477.3,241.7 477.7,241.8 478.1,241.9 478.5,241.4 478.9,242.1 479.3,242.2 479.7,242.3 480.1,242.5 480.5,242.6 480.9,242.8 481.3,241.7 481.7,243.1 482.1,242.6 482.5,243.4 482.9,243.6 483.3,241.3 483.7,243.9 484.1,244.0 484.5,240.8 484.9,244.4 485.3,244.5 485.7,242.6 486.1,244.0 486.5,245.0 486.9,245.2 487.3,245.3 487.7,245.5 488.1,244.1 488.5,242.3 488.9,245.9 489.3,246.1 489.7,246.3 490.1,244.4 490.5,246.6 490.9,246.7 491.3,243.0 491.7,247.1 492.1,247.2 492.5,245.6 492.9,245.1 493.3,247.6 493.7,247.7 494.1,247.9 494.5,248.0 494.9,245.1 495.3,248.3 495.7,248.4 496.1,248.5 496.5,248.6 496.9,245.2 497.3,246.5 497.7,249.0 498.1,249.1 498.5,248.2 498.9,245.2 499.3,249.5 499.7,249.6 500.1,249.8 500.5,246.9 500.9,247.3 501.3,250.1 501.7,250.3 502.1,250.4 502.5,250.5 502.9,249.1 503.3,250.8 503.7,250.9 504.1,251.0 504.5,247.1 504.9,251.3 505.3,251.3 505.7,251.5 506.1,251.5 506.5,251.6 506.9,251.7 507.3,251.2 507.7,247.7 508.1,251.9 508.5,251.8 508.9,251.7 509.3,252.2 509.7,252.2 510.1,252.3 510.5,251.7 510.9,252.5 511.3,252.6 511.7,252.6 512.1,250.6 512.5,252.8 512.9,249.5 513.3,251.2 513.7,249.1 514.1,253.1 514.5,253.2 514.9,253.3 515.3,253.3 515.7,253.4 516.1,253.5 516.5,252.4 516.9,253.7 517.3,253.7 517.7,251.9 518.1,253.9 518.5,254.0 518.9,254.2 519.3,254.3 519.7,254.4 520.1,254.5 520.5,253.4 520.9,254.7 521.3,254.8 521.7,254.9 522.1,255.0 522.5,255.2 522.9,254.0 523.3,254.0 523.7,255.5 524.1,255.6 524.5,255.7 524.9,255.8 525.3,255.9 525.7,256.0 526.1,256.1 526.5,256.3 526.9,256.4 527.3,256.5 527.7,256.6 528.1,256.7 528.5,256.8 528.9,256.9 529.3,257.0 529.7,257.1 530.1,257.2 530.5,257.3 530.9,256.0 531.3,254.2 531.7,253.7 532.1,257.5 532.5,257.5 532.9,257.6 533.3,257.6 533.7,257.7 534.1,257.5 534.5,257.3 534.9,257.9 535.3,254.9 535.7,258.0 536.1,258.0 536.5,258.1 536.9,256.9 537.3,258.2 537.7,258.2 538.1,257.2 538.5,256.0 538.9,258.4 539.3,258.4 539.7,254.8 540.1,258.5 540.5,254.7 540.9,257.7 541.3,258.7 541.7,258.7 542.1,256.6 542.5,257.1 542.9,258.9 543.3,258.9 543.7,259.0 544.1,259.0 544.5,257.8 544.9,259.2 545.3,255.7 545.7,259.4 546.1,257.4 546.5,259.7 546.9,259.8 547.3,259.9 547.7,259.1 548.1,260.2 548.5,260.3 548.9,260.5 549.3,258.3 549.7,260.7 550.1,257.3 550.5,261.0 550.9,261.0 551.3,261.2 551.7,261.4 552.1,259.4 552.5,261.6 552.9,261.6 553.3,261.6 553.7,260.1 554.1,260.0 554.5,258.4 554.9,261.5 555.3,260.3 555.7,260.6 556.1,259.2 556.5,261.5 556.9,260.7 557.3,261.4 557.7,261.4 558.1,257.8 558.5,261.4 558.9,261.4 559.3,260.2 559.7,261.3 560.1,258.0 560.5,261.3 560.9,261.3 561.3,261.3 561.7,261.2 562.1,261.1 562.5,261.2 562.9,261.2 563.3,260.6 563.7,261.1 564.1,261.1 564.5,261.1 564.9,260.6 565.3,261.2 565.7,258.7 566.1,261.4 566.5,261.5 566.9,258.7 567.3,257.9 567.7,261.8 568.1,261.9 568.5,262.0 568.9,262.1 569.3,259.8 569.7,262.4 570.1,262.5 570.5,258.7 570.9,262.7 571.3,262.8 571.7,260.2 572.1,263.0 572.5,261.3 572.9,263.2 573.3,259.8 573.7,263.4 574.1,261.3 574.5,263.6 574.9,261.1 575.3,263.9 575.7,264.0 576.1,264.1 576.5,264.1 576.9,264.1 577.3,264.1 577.7,260.2 578.1,264.2 578.5,264.2 578.9,264.3 579.3,264.3 579.7,264.3 580.1,262.0 580.5,264.4 580.9,264.4 581.3,264.4 581.7,264.5 582.1,264.5 582.5,264.5 582.9,264.6 583.3,264.6 583.7,264.6 584.1,264.6 584.5,260.4 584.9,264.7 585.3,264.7 585.7,264.4 586.1,264.8 586.5,264.8 586.9,264.8 587.3,264.9 587.7,263.1 588.1,264.0 588.5,262.7 588.9,265.0 588.9,266.8 588.5,267.1 588.1,267.3 587.7,267.2 587.3,267.4 586.9,267.3 586.5,267.4 586.1,267.3 585.7,267.3 585.3,267.8 584.9,266.4 584.5,266.7 584.1,267.2 583.7,266.6 583.3,267.1 582.9,266.8 582.5,266.4 582.1,267.6 581.7,267.5 581.3,266.8 580.9,266.8 580.5,266.7 580.1,266.5 579.7,266.6 579.3,266.3 578.9,267.4 578.5,266.2 578.1,267.0 577.7,267.1 577.3,267.2 576.9,267.4 576.5,266.2 576.1,266.8 575.7,266.9 575.3,266.9 574.9,266.4 574.5,267.1 574.1,268.0 573.7,265.8 573.3,267.2 572.9,266.9 572.5,267.4 572.1,267.4 571.7,267.2 571.3,266.8 570.9,266.6 570.5,266.8 570.1,265.7 569.7,267.4 569.3,267.4 568.9,266.5 568.5,266.6 568.1,266.9 567.7,267.5 567.3,267.6 566.9,266.6 566.5,266.8 566.1,266.9 565.7,266.6 565.3,267.2 564.9,266.5 564.5,266.4 564.1,266.6 563.7,266.8 563.3,266.7 562.9,266.7 562.5,266.8 562.1,267.2 561.7,266.7 561.3,266.3 560.9,265.5 560.5,267.2 560.1,266.9 559.7,267.8 559.3,267.6 558.9,266.4 558.5,267.3 558.1,266.7 557.7,266.7 557.3,266.7 556.9,267.1 556.5,266.3 556.1,266.7 555.7,267.8 555.3,266.8 554.9,267.7 554.5,267.5 554.1,267.1 553.7,267.3 553.3,267.7 552.9,267.0 552.5,267.3 552.1,267.5 551.7,266.9 551.3,267.5 550.9,266.3 550.5,267.4 550.1,267.0 549.7,266.9 549.3,267.1 548.9,266.6 548.5,268.1 548.1,266.7 547.7,266.7 547.3,268.1 546.9,267.4 546.5,267.5 546.1,267.4 545.7,267.8 545.3,267.3 544.9,266.4 544.5,267.4 544.1,267.0 543.7,267.0 543.3,266.4 542.9,266.6 542.5,267.2 542.1,266.3 541.7,266.7 541.3,266.8 540.9,267.8 540.5,267.7 540.1,266.3 539.7,267.0 539.3,266.8 538.9,266.9 538.5,266.4 538.1,265.6 537.7,267.1 537.3,266.0 536.9,266.7 536.5,266.7 536.1,267.2 535.7,266.1 535.3,267.4 534.9,266.0 534.5,266.9 534.1,266.7 533.7,266.6 533.3,266.5 532.9,267.3 532.5,266.9 532.1,266.8 531.7,266.2 531.3,267.7 530.9,267.3 530.5,267.2 530.1,266.7 529.7,267.2 529.3,267.0 528.9,267.3 528.5,266.1 528.1,266.6 527.7,267.3 527.3,267.3 526.9,266.9 526.5,266.9 526.1,266.9 525.7,266.8 525.3,266.9 524.9,266.9 524.5,266.8 524.1,267.2 523.7,267.0 523.3,267.1 522.9,268.0 522.5,266.2 522.1,266.3 521.7,267.2 521.3,267.1 520.9,266.5 520.5,266.6 520.1,267.3 519.7,266.3 519.3,266.7 518.9,267.2 518.5,266.8 518.1,267.0 517.7,267.0 517.3,267.2 516.9,266.7 516.5,266.7 516.1,267.1 515.7,267.5 515.3,266.6 514.9,266.6 514.5,268.7 514.1,267.3 513.7,267.9 513.3,267.3 512.9,266.7 512.5,266.5 512.1,266.7 511.7,267.2 511.3,267.1 510.9,267.5 510.5,267.0 510.1,266.9 509.7,267.3 509.3,266.4 508.9,267.2 508.5,266.2 508.1,267.3 507.7,267.8 507.3,267.0 506.9,267.3 506.5,267.4 506.1,267.3 505.7,266.9 505.3,267.2 504.9,265.9 504.5,266.6 504.1,266.8 503.7,267.3 503.3,266.7 502.9,266.6 502.5,266.2 502.1,266.1 501.7,266.8 501.3,267.2 500.9,267.4 500.5,266.7 500.1,267.2 499.7,266.9 499.3,266.7 498.9,267.3 498.5,267.3 498.1,266.8 497.7,266.6 497.3,266.9 496.9,266.6 496.5,267.2 496.1,266.3 495.7,267.1 495.3,267.2 494.9,266.7 494.5,266.5 494.1,266.0 493.7,266.7 493.3,266.3 492.9,267.5 492.5,266.9 492.1,266.3 491.7,267.4 491.3,267.1 490.9,267.3 490.5,266.5 490.1,267.9 489.7,267.4 489.3,267.3 488.9,267.2 488.5,267.4 488.1,266.7 487.7,266.7 487.3,266.9 486.9,267.4 486.5,266.2 486.1,266.9 485.7,267.0 485.3,266.7 484.9,267.8 484.5,267.0 484.1,267.1 483.7,267.4 483.3,268.1 482.9,266.6 482.5,266.6 482.1,267.7 481.7,267.1 481.3,266.0 480.9,267.0 480.5,266.5 480.1,266.9 479.7,266.8 479.3,266.6 478.9,267.2 478.5,266.8 478.1,267.1 477.7,267.3 477.3,266.4 476.9,267.8 476.5,266.8 476.1,267.9 475.7,265.9 475.3,267.7 474.9,266.9 474.5,266.1 474.1,266.8 473.7,267.1 473.3,266.3 472.9,266.8 472.5,266.6 472.1,267.7 471.7,266.3 471.3,266.3 470.9,266.3 470.5,266.7 470.1,267.0 469.7,266.2 469.3,267.1 468.9,266.7 468.5,266.6 468.1,267.0 467.7,266.9 467.3,267.5 466.9,267.2 466.5,267.3 466.1,267.9 465.7,267.0 465.3,266.6 464.9,266.2 464.5,265.1 464.1,266.0 463.7,267.0 463.3,267.4 462.9,266.9 462.5,266.2 462.1,267.6 461.7,267.2 461.3,267.3 460.9,267.2 460.5,267.2 460.1,266.9 459.7,266.3 459.3,267.3 458.9,266.9 458.5,267.7 458.1,266.7 457.7,266.5 457.3,266.7 456.9,266.7 456.5,266.6 456.1,266.5 455.7,267.1 455.3,266.9 454.9,266.6 454.5,267.3 454.1,267.5 453.7,266.4 453.3,267.8 452.9,267.1 452.5,267.2 452.1,266.7 451.7,266.0 451.3,267.0 450.9,266.8 450.5,266.8 450.1,266.5 449.7,267.1 449.3,266.5 448.9,266.6 448.5,267.0 448.1,266.8 447.7,266.8 447.3,266.7 446.9,267.4 446.5,267.1 446.1,267.6 445.7,266.9 445.3,267.2 444.9,267.8 444.5,267.7 444.1,266.4 443.7,266.5 443.3,266.8 442.9,266.9 442.5,266.9 442.1,266.9 441.7,266.4 441.3,267.0 440.9,267.4 440.5,267.0 440.1,266.7 439.7,266.7 439.3,266.7 438.9,266.0 438.5,267.1 438.1,267.6 437.7,267.2 437.3,266.7 436.9,266.3 436.5,266.7 436.1,266.4 435.7,266.6 435.3,267.2 434.9,266.3 434.5,266.4 434.1,266.7 433.7,265.7 433.3,266.4 432.9,267.2 432.5,265.8 432.1,267.7 431.7,265.7 431.3,266.7 430.9,265.6 430.5,266.5 430.1,267.4 429.7,266.9 429.3,265.7 428.9,265.9 428.5,266.1 428.1,265.6 427.7,266.1 427.3,265.2 426.9,265.2 426.5,265.7 426.1,266.7 425.7,265.6 425.3,265.4 424.9,265.4 424.5,265.1 424.1,265.3 423.7,265.4 423.3,265.2 422.9,265.2 422.5,266.1 422.1,265.3 421.7,264.1 421.3,264.6 420.9,265.4 420.5,264.0 420.1,264.2 419.7,264.8 419.3,264.6 418.9,263.8 418.5,264.1 418.1,263.6 417.7,264.6 417.3,264.1 416.9,263.0 416.5,264.0 416.1,264.5 415.7,263.5 415.3,263.4 414.9,264.0 414.5,264.2 414.1,262.7 413.7,262.9 413.3,263.4 412.9,263.3 412.5,263.1 412.1,263.2 411.7,263.0 411.3,262.8 410.9,262.8 410.5,262.3 410.1,262.9 409.7,262.4 409.3,261.7 408.9,262.8 408.5,261.2 408.1,263.3 407.7,261.9 407.3,262.6 406.9,262.4 406.5,262.8 406.1,262.6 405.7,261.3 405.3,262.2 404.9,261.8 404.5,262.2 404.1,262.1 403.7,262.0 403.3,261.6 402.9,261.8 402.5,261.9 402.1,261.8 401.7,261.7 401.3,261.3 400.9,261.5 400.5,260.5 400.1,260.6 399.7,260.8 399.3,261.3 398.9,261.2 398.5,260.9 398.1,260.9 397.7,261.1 397.3,260.9 396.9,259.9 396.5,259.8 396.1,260.4 395.7,259.8 395.3,259.8 394.9,259.9 394.5,259.1 394.1,260.0 393.7,259.7 393.3,259.8 392.9,259.6 392.5,258.7 392.1,259.8 391.7,260.0 391.3,259.3 390.9,259.4 390.5,258.7 390.1,259.1 389.7,259.2 389.3,258.4 388.9,258.3 388.5,257.5 388.1,257.8 387.7,258.7 387.3,258.5 386.9,258.2 386.5,258.4 386.1,258.7 385.7,258.2 385.3,257.6 384.9,258.2 384.5,258.2 384.1,257.6 383.7,258.4 383.3,257.3 382.9,257.8 382.5,257.1 382.1,257.5 381.7,257.5 381.3,257.3 380.9,256.9 380.5,256.3 380.1,257.3 379.7,257.0 379.3,257.6 378.9,255.8 378.5,256.5 378.1,256.2 377.7,256.5 377.3,256.1 376.9,256.1 376.5,256.5 376.1,256.9 375.7,256.7 375.3,255.9 374.9,255.3 374.5,256.0 374.1,255.9 373.7,255.3 373.3,254.7 372.9,255.8 372.5,255.5 372.1,255.4 371.7,255.7 371.3,255.8 370.9,255.1 370.5,254.9 370.1,255.2 369.7,254.3 369.3,255.0 368.9,255.0 368.5,254.6 368.1,254.8 367.7,254.4 367.3,254.5 366.9,254.2 366.5,254.7 366.1,254.2 365.7,253.8 365.3,253.7 364.9,255.0 364.5,254.8 364.1,254.2 363.7,253.7 363.3,253.5 362.9,253.9 362.5,253.7 362.1,252.9 361.7,252.9 361.3,254.0 360.9,253.7 360.5,254.1 360.1,253.5 359.7,253.1 359.3,252.6 358.9,252.8 358.5,253.1 358.1,252.8 357.7,252.1 357.3,253.9 356.9,252.8 356.5,254.1 356.1,253.6 355.7,251.2 355.3,252.2 354.9,251.3 354.5,252.1 354.1,252.2 353.7,252.2 353.3,252.3 352.9,251.7 352.5,251.8 352.1,252.0 351.7,251.3 351.3,252.5 350.9,251.6 350.5,251.9 350.1,251.4 349.7,251.8 349.3,251.1 348.9,250.8 348.5,251.1 348.1,250.1 347.7,250.2 347.3,250.9 346.9,250.5 346.5,250.4 346.1,250.7 345.7,250.4 345.3,250.1 344.9,250.5 344.5,250.6 344.1,249.3 343.7,249.5 343.3,249.7 342.9,250.3 342.5,250.0 342.1,250.1 341.7,250.0 341.3,249.3 340.9,248.9 340.5,249.1 340.1,249.2 339.7,249.1 339.3,248.7 338.9,249.2 338.5,248.9 338.1,247.9 337.7,248.3 337.3,248.6 336.9,247.6 336.5,248.8 336.1,249.3 335.7,247.7 335.3,248.5 334.9,248.4 334.5,247.3 334.1,247.8 333.7,248.5 333.3,247.3 332.9,248.2 332.5,247.5 332.1,247.6 331.7,248.0 331.3,247.8 330.9,247.1 330.5,246.5 330.1,247.0 329.7,246.7 329.3,247.9 328.9,247.1 328.5,246.8 328.1,245.8 327.7,246.9 327.3,245.6 326.9,245.9 326.5,246.1 326.1,245.1 325.7,245.0 325.3,245.3 324.9,245.1 324.5,245.5 324.1,245.0 323.7,244.7 323.3,244.8 322.9,245.1 322.5,244.7 322.1,244.2 321.7,244.6 321.3,244.4 320.9,243.9 320.5,244.5 320.1,244.6 319.7,242.5 319.3,244.0 318.9,243.6 318.5,243.3 318.1,243.1 317.7,243.6 317.3,243.1 316.9,243.2 316.5,243.3 316.1,242.4 315.7,242.2 315.3,242.1 314.9,242.8 314.5,243.1 314.1,242.4 313.7,242.0 313.3,242.2 312.9,242.3 312.5,242.0 312.1,241.5 311.7,241.0 311.3,241.6 310.9,242.0 310.5,241.0 310.1,240.6 309.7,241.6 309.3,240.8 308.9,240.4 308.5,240.6 308.1,240.9 307.7,240.5 307.3,240.3 306.9,240.3 306.5,239.5 306.1,239.0 305.7,239.0 305.3,239.2 304.9,239.9 304.5,239.1 304.1,239.4 303.7,239.2 303.3,239.7 302.9,239.2 302.5,238.9 302.1,239.0 301.7,237.1 301.3,237.4 300.9,237.4 300.5,237.2 300.1,237.6 299.7,237.4 299.3,238.1 298.9,236.9 298.5,237.0 298.1,237.1 297.7,236.5 297.3,236.5 296.9,235.9 296.5,237.3 296.1,236.7 295.7,235.8 295.3,236.2 294.9,236.0 294.5,235.8 294.1,234.9 293.7,235.5 293.3,234.5 292.9,234.9 292.5,235.2 292.1,234.8 291.7,234.6 291.3,233.7 290.9,234.3 290.5,234.1 290.1,234.1 289.7,234.0 289.3,234.4 288.9,233.1 288.5,233.1 288.1,232.3 287.7,233.0 287.3,233.3 286.9,232.9 286.5,232.1 286.1,232.0 285.7,232.6 285.3,232.2 284.9,232.0 284.5,231.8 284.1,231.1 283.7,230.6 283.3,231.6 282.9,229.7 282.5,229.5 282.1,230.8 281.7,229.7 281.3,229.9 280.9,229.8 280.5,228.6 280.1,228.4 279.7,229.1 279.3,227.6 278.9,228.3 278.5,227.9 278.1,227.4 277.7,227.7 277.3,227.1 276.9,227.4 276.5,226.2 276.1,225.9 275.7,226.8 275.3,224.9 274.9,225.2 274.5,225.3 274.1,225.0 273.7,224.9 273.3,224.1 272.9,223.5 272.5,223.8 272.1,224.2 271.7,223.7 271.3,223.2 270.9,223.0 270.5,222.9 270.1,222.2 269.7,222.1 269.3,222.0 268.9,222.0 268.5,221.4 268.1,221.4 267.7,220.9 267.3,220.7 266.9,220.1 266.5,219.8 266.1,219.1 265.7,219.3 265.3,219.2 264.9,218.9 264.5,218.3 264.1,218.2 263.7,218.4 263.3,217.6 262.9,217.5 262.5,217.0 262.1,216.7 261.7,216.3 261.3,216.1 260.9,216.3 260.5,216.1 260.1,215.9 259.7,214.9 259.3,214.6 258.9,216.0 258.5,215.2 258.1,213.6 257.7,214.3 257.3,213.9 256.9,213.3 256.5,214.7 256.1,213.0 255.7,213.2 255.3,212.5 254.9,212.5 254.5,211.6 254.1,211.3 253.7,212.0 253.3,210.9 252.9,210.9 252.5,210.1 252.1,210.1 251.7,209.6 251.3,209.3 250.9,208.9 250.5,208.4 250.1,207.9 249.7,208.2 249.3,207.6 248.9,206.7 248.5,206.6 248.1,205.6 247.7,204.4 247.3,204.0 246.9,202.9 246.5,202.3 246.1,201.7 245.7,200.2 245.3,200.7 244.9,201.8 244.5,201.7 244.1,202.8 243.7,203.5 243.3,204.9 242.9,205.6 242.5,205.5 242.1,206.6 241.7,208.1 241.3,208.1 240.9,208.0 240.5,208.8 240.1,207.6 239.7,208.6 239.3,209.1 238.9,209.7 238.5,210.3 238.1,209.4 237.7,209.8 237.3,211.1 236.9,211.3 236.5,211.5 236.1,211.0 235.7,211.5 235.3,212.2 234.9,212.3 234.5,212.7 234.1,212.5 233.7,212.4 233.3,212.5 232.9,213.1 232.5,213.2 232.1,213.5 231.7,213.5 231.3,213.4 230.9,214.4 230.5,214.7 230.1,214.7 229.7,215.0 229.3,215.0 228.9,215.9 228.5,215.9 228.1,215.7 227.7,215.9 227.3,216.2 226.9,215.8 226.5,215.8 226.1,216.4 225.7,216.8 225.3,217.3 224.9,217.2 224.5,216.9 224.1,216.7 223.7,217.7 223.3,217.6 222.9,217.6 222.5,218.8 222.1,218.9 221.7,219.2 221.3,219.6 220.9,218.9 220.5,219.4 220.1,220.0 219.7,220.0 219.3,221.7 218.9,221.4 218.5,222.2 218.1,221.9 217.7,221.9 217.3,222.3 216.9,222.9 216.5,223.7 216.1,223.2 215.7,223.7 215.3,224.2 214.9,224.2 214.5,224.5 214.1,224.9 213.7,224.9 213.3,225.8 212.9,226.0 212.5,225.8 212.1,226.6 211.7,225.5 211.3,228.0 210.9,228.7 210.5,228.0 210.1,227.8 209.7,227.9 209.3,228.8 208.9,229.1 208.5,228.9 208.1,228.9 207.7,230.5 207.3,230.1 206.9,230.2 206.5,230.8 206.1,232.1 205.7,230.9 205.3,232.0 204.9,232.4 204.5,232.7 204.1,232.1 203.7,233.1 203.3,233.7 202.9,233.7 202.5,232.9 202.1,234.5 201.7,234.7 201.3,235.0 200.9,235.2 200.5,235.9 200.1,235.6 199.7,236.8 199.3,237.2 198.9,237.1 198.5,237.3 198.1,237.6 197.7,238.1 197.3,237.8 196.9,238.3 196.5,238.2 196.1,238.1 195.7,238.2 195.3,239.6 194.9,239.2 194.5,240.2 194.1,240.2 193.7,241.5 193.3,240.7 192.9,241.2 192.5,242.0 192.1,241.7 191.7,242.5 191.3,242.9 190.9,242.9 190.5,243.1 190.1,243.5 189.7,243.7 189.3,243.9 188.9,243.3 188.5,244.7 188.1,245.1 187.7,244.8 187.3,245.3 186.9,245.9 186.5,246.3 186.1,246.4 185.7,246.7 185.3,247.4 184.9,247.6 184.5,248.4 184.1,247.9 183.7,248.5 183.3,248.1 182.9,249.0 182.5,248.9 182.1,249.6 181.7,250.2 181.3,249.6 180.9,249.9 180.5,250.8 180.1,251.4 179.7,251.4 179.3,252.4 178.9,251.7 178.5,252.0 178.1,251.9 177.7,252.6 177.3,254.1 176.9,253.3 176.5,253.7 176.1,254.4 175.7,254.5 175.3,255.6 174.9,255.1 174.5,254.9 174.1,255.8 173.7,255.8 173.3,255.1 172.9,256.0 172.5,256.6 172.1,257.5 171.7,257.9 171.3,258.0 170.9,257.6 170.5,257.2 170.1,258.4 169.7,259.2 169.3,258.7 168.9,259.2 168.5,259.9 168.1,259.4 167.7,259.8 167.3,261.6 166.9,260.5 166.5,260.8 166.1,261.4 165.7,262.4 165.3,262.2 164.9,263.0 164.5,262.7 164.1,262.3 163.7,263.0 163.3,263.3 162.9,263.1 162.5,263.2 162.1,263.0 161.7,265.0 161.3,265.2 160.9,265.0 160.5,264.8 160.1,265.0 159.7,266.6 159.3,265.6 158.9,265.1 158.5,267.0 158.1,267.3 157.7,267.6 157.3,267.5 156.9,267.2 156.5,267.2 156.1,267.5 155.7,268.5 155.3,268.4 154.9,267.9 154.5,269.0 154.1,268.0 153.7,267.8 153.3,268.7 152.9,268.5 152.5,268.2 152.1,268.3 151.7,268.7 151.3,268.9 150.9,268.6 150.5,269.0 150.1,268.2 149.7,269.1 149.3,269.1 148.9,269.4 148.5,268.2 148.1,268.9 147.7,269.8 147.3,268.4 146.9,268.1 146.5,269.2 146.1,269.1 145.7,268.5 145.3,269.0 144.9,268.6 144.5,269.6 144.1,268.1 143.7,268.7 143.3,269.0 142.9,268.4 142.5,269.7 142.1,268.5 141.7,268.7 141.3,269.2 140.9,269.8 140.5,268.1 140.1,268.0 139.7,268.9 139.3,268.6 138.9,269.0 138.5,268.3 138.1,268.7 137.7,268.8 137.3,268.5 136.9,268.4 136.5,269.0 136.1,268.3 135.7,268.3 135.3,268.3 134.9,268.6 134.5,268.7 134.1,268.7 133.7,268.5 133.3,268.8 132.9,267.8 132.5,268.5 132.1,268.8 131.7,268.8 131.3,268.7 130.9,268.2 130.5,269.1 130.1,269.0 129.7,268.9 129.3,268.9 128.9,268.4 128.5,269.2 128.1,268.6 127.7,268.2 127.3,268.8 126.9,269.5 126.5,267.6 126.1,268.0 125.7,268.6 125.3,268.3 124.9,268.5 124.5,268.2 124.1,269.7 123.7,269.3 123.3,269.3 122.9,268.0 122.5,268.1 122.1,268.9 121.7,268.3 121.3,269.1 120.9,269.1 120.5,268.6 120.1,269.8 119.7,269.6 119.3,268.6 118.9,269.4 118.5,270.3 118.1,269.3 117.7,269.2 117.3,269.0 116.9,268.8 116.5,268.6 116.1,268.0 115.7,269.1 115.3,268.4 114.9,268.8 114.5,268.3 114.1,268.1 113.7,268.7 113.3,268.3 112.9,268.9 112.5,267.6 112.1,269.4 111.7,268.2 111.3,268.6 110.9,269.3 110.5,269.1 110.1,268.7 109.7,268.6 109.3,268.6 108.9,268.6 108.5,269.2 108.1,269.1 107.7,269.5 107.3,267.9 106.9,268.6 106.5,268.6 106.1,269.8 105.7,269.6 105.3,268.4 104.9,268.7 104.5,268.4 104.1,268.2 103.7,268.5 103.3,269.0 102.9,269.2 102.5,268.9 102.1,268.8 101.7,268.0 101.3,269.2 100.9,269.3 100.5,268.9 100.1,268.2 99.7,268.2 99.3,268.7 98.9,268.9 98.5,269.1 98.1,268.6 97.7,268.6 97.3,268.8 96.9,268.6 96.5,268.4 96.1,268.9 95.7,269.6 95.3,269.1 94.9,269.3 94.5,268.7 94.1,269.3 93.7,268.0 93.3,268.9 92.9,268.9 92.5,267.9 92.1,268.4 91.7,270.1 91.3,268.4 90.9,268.8 90.5,268.6 90.1,268.8 89.7,268.5 89.3,268.1 88.9,269.1 88.5,267.9 88.1,270.0 87.7,269.1 87.3,268.8 86.9,268.9 86.5,270.2 86.1,268.1 85.7,268.6 85.3,268.8 84.9,268.9 84.5,268.9 84.1,269.5 83.7,268.8 83.3,267.4 82.9,268.4 82.5,268.7 82.1,268.9 81.7,268.4 81.3,268.7 80.9,269.1 80.5,268.0 80.1,268.7 79.7,268.8 79.3,268.5 78.9,269.1 78.5,268.2 78.1,268.6 77.7,269.3 77.3,269.7 76.9,268.9 76.5,268.9 76.1,269.0 75.7,268.5 75.3,269.0 74.9,268.9 74.5,269.1 74.1,269.7 73.7,268.2 73.3,269.0 72.9,268.9 72.5,269.1 72.1,268.6 71.7,268.5 71.3,268.7 70.9,269.0 70.5,268.1 70.1,268.5 69.7,268.9 69.3,269.5 68.9,270.0 68.5,268.1 68.1,268.6 67.7,269.5 67.3,269.6 66.9,269.0 66.5,269.8 66.1,269.5 65.7,269.2 65.3,269.4 64.9,268.6 64.5,267.1 64.1,269.4 63.7,268.5 63.3,267.5 62.9,268.1 62.5,268.3 62.1,267.7 61.7,268.3 61.3,268.6 60.9,268.0 60.5,268.3 60.1,267.9 59.7,268.6 59.3,268.3 58.9,268.4 58.5,269.6 58.1,268.5 57.7,268.5 57.3,268.7 56.9,267.9 56.5,268.8 56.1,268.7 55.7,269.0 55.3,268.3 54.9,268.1 54.5,268.7 54.1,269.2 53.7,268.4 53.3,267.8 52.9,268.6 52.5,268.3 52.1,268.7 51.7,268.0 51.3,268.4 50.9,269.2 50.5,268.3 50.1,268.4 49.7,269.0 49.3,269.4 48.9,269.4 48.5,269.2 48.1,269.1 47.7,268.7 47.3,268.8 46.9,268.9 46.5,268.7 46.1,268.2 45.7,269.2 45.3,268.5 44.9,268.2 44.5,269.0 44.1,268.5 43.7,268.0 43.3,268.9 42.9,269.6 42.5,268.8 42.1,267.4 41.7,269.4 41.3,267.9 40.9,267.9 40.5,268.4 40.1,268.7 39.7,269.0 39.3,269.5 38.9,269.3 38.5,268.1 38.1,267.5 37.7,268.5 37.3,269.0 36.9,268.0 36.5,268.6 36.1,268.5 35.7,268.4 35.3,268.0 34.9,268.9 34.5,268.6 34.1,267.5 33.7,268.6 33.3,269.4 32.9,267.9 32.5,268.9 32.1,268.3 31.7,269.0 31.3,269.5 30.9,269.1 30.5,268.8 30.1,268.2 29.7,267.9 29.3,267.8 28.9,269.7 28.5,268.0 28.1,268.8 27.7,268.8 27.3,268.5 26.9,269.4 26.5,268.8 26.1,268.8 25.7,269.3 25.3,269.1 24.9,269.4 24.5,268.5 24.1,268.4 23.7,268.7 23.3,268.9 22.9,268.5 22.5,268.7 22.1,268.1 21.7,268.9 21.3,268.7 20.9,267.7 20.5,268.3 20.1,268.9 19.7,269.2 19.3,268.2 18.9,268.3 18.5,267.8" fill="#0a5fc2" opacity="0.45"/>
<polygon points="18.5,257.8 18.9,257.4 19.3,257.7 19.7,257.4 20.1,258.6 20.5,256.0 20.9,256.3 21.3,255.4 21.7,253.7 22.1,252.6 22.5,255.2 22.9,256.5 23.3,251.2 23.7,256.0 24.1,254.9 24.5,257.0 24.9,255.7 25.3,252.9 25.7,251.9 26.1,255.0 26.5,255.3 26.9,252.4 27.3,253.9 27.7,252.5 28.1,248.8 28.5,253.0 28.9,253.7 29.3,253.3 29.7,254.3 30.1,252.3 30.5,254.1 30.9,252.9 31.3,252.8 31.7,252.0 32.1,252.9 32.5,252.0 32.9,250.1 33.3,250.5 33.7,252.4 34.1,253.7 34.5,252.6 34.9,251.7 35.3,252.7 35.7,251.8 36.1,252.2 36.5,251.4 36.9,248.4 37.3,248.2 37.7,250.9 38.1,251.5 38.5,250.7 38.9,251.2 39.3,251.3 39.7,250.2 40.1,251.4 40.5,251.5 40.9,250.9 41.3,250.7 41.7,250.5 42.1,251.1 42.5,249.5 42.9,249.2 43.3,249.4 43.7,248.2 44.1,247.6 44.5,247.8 44.9,248.5 45.3,248.4 45.7,246.9 46.1,243.8 46.5,247.3 46.9,247.2 47.3,247.1 47.7,247.4 48.1,247.5 48.5,246.7 48.9,246.8 49.3,245.5 49.7,245.3 50.1,246.0 50.5,246.0 50.9,245.9 51.3,245.6 51.7,245.5 52.1,245.4 52.5,243.6 52.9,244.0 53.3,244.5 53.7,244.3 54.1,242.8 54.5,244.2 54.9,243.0 55.3,242.9 55.7,243.0 56.1,242.6 56.5,241.5 56.9,242.6 57.3,241.9 57.7,241.2 58.1,241.2 58.5,239.9 58.9,240.6 59.3,240.8 59.7,240.1 60.1,240.0 60.5,239.9 60.9,239.8 61.3,240.0 61.7,239.2 62.1,238.9 62.5,239.1 62.9,239.7 63.3,238.1 63.7,238.4 64.1,237.0 64.5,238.3 64.9,237.7 65.3,237.8 65.7,236.7 66.1,235.9 66.5,236.6 66.9,236.2 67.3,234.4 67.7,234.4 68.1,235.1 68.5,234.5 68.9,235.7 69.3,233.6 69.7,233.3 70.1,233.2 70.5,232.1 70.9,232.2 71.3,233.2 71.7,232.0 72.1,231.4 72.5,230.7 72.9,231.4 73.3,231.1 73.7,230.6 74.1,229.9 74.5,230.0 74.9,229.7 75.3,228.8 75.7,229.2 76.1,227.4 76.5,227.5 76.9,227.8 77.3,227.6 77.7,226.6 78.1,226.9 78.5,224.1 78.9,226.0 79.3,225.4 79.7,225.3 80.1,222.7 80.5,222.9 80.9,223.3 81.3,223.7 81.7,221.8 82.1,222.0 82.5,221.3 82.9,220.5 83.3,220.0 83.7,220.1 84.1,219.9 84.5,219.6 84.9,218.3 85.3,218.6 85.7,218.7 86.1,218.7 86.5,218.2 86.9,218.0 87.3,217.8 87.7,217.4 88.1,216.1 88.5,216.3 88.9,215.6 89.3,214.3 89.7,214.4 90.1,216.2 90.5,214.2 90.9,210.4 91.3,214.0 91.7,214.9 92.1,210.9 92.5,211.6 92.9,213.2 93.3,213.1 93.7,213.0 94.1,213.1 94.5,212.4 94.9,212.7 95.3,212.6 95.7,211.6 96.1,211.6 96.5,211.4 96.9,210.6 97.3,211.4 97.7,210.5 98.1,210.0 98.5,209.1 98.9,209.1 99.3,210.5 99.7,208.7 100.1,209.4 100.5,208.7 100.9,208.9 101.3,208.8 101.7,207.7 102.1,207.8 102.5,207.8 102.9,207.5 103.3,207.2 103.7,206.8 104.1,207.1 104.5,207.2 104.9,206.6 105.3,205.6 105.7,206.0 106.1,205.6 106.5,205.6 106.9,206.1 107.3,204.7 107.7,204.6 108.1,201.0 108.5,203.9 108.9,203.5 109.3,204.5 109.7,203.5 110.1,202.8 110.5,204.0 110.9,201.2 111.3,202.9 111.7,202.8 112.1,202.3 112.5,201.5 112.9,201.4 113.3,201.0 113.7,201.4 114.1,198.5 114.5,200.2 114.9,200.3 115.3,199.7 115.7,198.7 116.1,199.4 116.5,198.9 116.9,199.6 117.3,199.7 117.7,198.7 118.1,197.3 118.5,198.1 118.9,197.5 119.3,198.2 119.7,198.5 120.1,197.3 120.5,198.3 120.9,197.8 121.3,197.1 121.7,195.9 122.1,196.3 122.5,195.2 122.9,196.4 123.3,195.7 123.7,196.2 124.1,195.3 124.5,193.8 124.9,195.1 125.3,195.0 125.7,195.2 126.1,193.5 126.5,193.3 126.9,193.6 127.3,192.8 127.7,192.4 128.1,192.4 128.5,194.3 128.9,192.3 129.3,191.9 129.7,192.0 130.1,192.1 130.5,192.7 130.9,192.3 131.3,192.0 131.7,191.4 132.1,191.3 132.5,190.7 132.9,190.0 133.3,191.9 133.7,190.2 134.1,190.9 134.5,190.0 134.9,189.9 135.3,189.7 135.7,188.8 136.1,189.4 136.5,187.9 136.9,189.1 137.3,189.2 137.7,187.9 138.1,188.7 138.5,188.4 138.9,187.0 139.3,187.7 139.7,188.8 140.1,187.7 140.5,187.9 140.9,187.0 141.3,186.5 141.7,187.9 142.1,186.7 142.5,187.1 142.9,184.1 143.3,185.6 143.7,184.1 144.1,185.3 144.5,184.1 144.9,183.4 145.3,185.3 145.7,184.7 146.1,184.4 146.5,183.8 146.9,183.5 147.3,181.6 147.7,183.2 148.1,180.6 148.5,183.0 148.9,180.9 149.3,182.7 149.7,178.5 150.1,182.1 150.5,181.0 150.9,180.5 151.3,181.2 151.7,180.9 152.1,179.7 152.5,179.5 152.9,179.6 153.3,177.9 153.7,178.7 154.1,178.8 154.5,178.1 154.9,177.1 155.3,177.6 155.7,178.5 156.1,178.1 156.5,176.9 156.9,176.2 157.3,176.4 157.7,176.1 158.1,175.4 158.5,175.3 158.9,175.6 159.3,175.6 159.7,173.1 160.1,175.0 160.5,174.2 160.9,174.6 161.3,173.5 161.7,173.5 162.1,173.3 162.5,170.7 162.9,173.4 163.3,172.2 163.7,170.6 164.1,169.8 164.5,171.5 164.9,170.3 165.3,171.5 165.7,170.7 166.1,170.1 166.5,170.7 166.9,169.8 167.3,169.9 167.7,167.8 168.1,169.1 168.5,169.2 168.9,168.9 169.3,167.1 169.7,167.6 170.1,167.5 170.5,167.2 170.9,166.2 171.3,166.9 171.7,167.4 172.1,167.2 172.5,168.0 172.9,166.4 173.3,166.4 173.7,166.2 174.1,166.2 174.5,165.9 174.9,164.9 175.3,166.4 175.7,166.8 176.1,166.7 176.5,165.0 176.9,165.5 177.3,167.0 177.7,165.4 178.1,165.6 178.5,165.1 178.9,165.9 179.3,165.7 179.7,166.7 180.1,165.2 180.5,165.0 180.9,163.6 181.3,164.1 181.7,163.8 182.1,164.0 182.5,163.1 182.9,165.0 183.3,163.2 183.7,164.1 184.1,162.9 184.5,164.1 184.9,165.1 185.3,163.0 185.7,163.9 186.1,163.5 186.5,163.7 186.9,163.8 187.3,162.9 187.7,163.2 188.1,162.8 188.5,162.4 188.9,161.2 189.3,163.9 189.7,162.4 190.1,163.5 190.5,163.4 190.9,162.0 191.3,162.0 191.7,162.0 192.1,163.2 192.5,163.8 192.9,162.3 193.3,162.5 193.7,162.8 194.1,165.8 194.5,163.9 194.9,163.5 195.3,165.5 195.7,165.0 196.1,165.5 196.5,164.9 196.9,159.8 197.3,165.8 197.7,165.8 198.1,165.6 198.5,166.4 198.9,166.5 199.3,167.7 199.7,163.0 200.1,166.5 200.5,160.6 200.9,163.8 201.3,164.8 201.7,164.5 202.1,164.5 202.5,163.1 202.9,162.5 203.3,162.4 203.7,160.7 204.1,160.4 204.5,161.3 204.9,158.9 205.3,159.8 205.7,160.4 206.1,159.6 206.5,159.5 206.9,157.6 207.3,158.4 207.7,158.0 208.1,158.7 208.5,158.2 208.9,157.5 209.3,159.3 209.7,157.6 210.1,156.4 210.5,155.7 210.9,156.1 211.3,155.3 211.7,157.5 212.1,156.0 212.5,154.7 212.9,154.2 213.3,153.6 213.7,154.4 214.1,156.2 214.5,150.7 214.9,154.3 215.3,154.4 215.7,150.7 216.1,154.9 216.5,153.6 216.9,155.4 217.3,153.4 217.7,149.9 218.1,153.6 218.5,152.4 218.9,154.7 219.3,153.3 219.7,153.3 220.1,149.8 220.5,152.1 220.9,153.0 221.3,152.5 221.7,154.3 222.1,152.1 222.5,152.4 222.9,151.3 223.3,151.2 223.7,151.2 224.1,153.0 224.5,151.4 224.9,152.4 225.3,150.8 225.7,149.2 226.1,147.2 226.5,151.8 226.9,153.2 227.3,150.3 227.7,152.2 228.1,151.4 228.5,149.5 228.9,151.1 229.3,149.0 229.7,149.7 230.1,151.4 230.5,147.0 230.9,148.3 231.3,151.3 231.7,148.2 232.1,149.2 232.5,148.9 232.9,149.0 233.3,148.1 233.7,147.0 234.1,151.1 234.5,147.7 234.9,147.6 235.3,145.7 235.7,148.5 236.1,149.8 236.5,149.8 236.9,151.3 237.3,149.7 237.7,148.2 238.1,147.6 238.5,149.2 238.9,147.3 239.3,147.4 239.7,141.8 240.1,147.0 240.5,149.1 240.9,146.5 241.3,147.0 241.7,143.5 242.1,147.8 242.5,146.5 242.9,147.6 243.3,146.1 243.7,144.6 244.1,143.8 244.5,145.9 244.9,145.2 245.3,144.0 245.7,145.1 246.1,144.4 246.5,146.0 246.9,144.6 247.3,138.4 247.7,145.0 248.1,140.5 248.5,146.8 248.9,144.5 249.3,143.5 249.7,144.4 250.1,144.8 250.5,143.7 250.9,145.7 251.3,144.4 251.7,145.8 252.1,145.9 252.5,144.8 252.9,145.8 253.3,146.9 253.7,144.9 254.1,145.7 254.5,142.6 254.9,144.4 255.3,148.2 255.7,146.2 256.1,148.4 256.5,148.9 256.9,150.2 257.3,148.1 257.7,147.7 258.1,145.0 258.5,146.8 258.9,150.9 259.3,148.8 259.7,150.3 260.1,151.0 260.5,151.2 260.9,149.7 261.3,148.8 261.7,147.7 262.1,149.4 262.5,151.0 262.9,151.2 263.3,149.7 263.7,151.5 264.1,153.5 264.5,149.4 264.9,152.1 265.3,152.5 265.7,151.5 266.1,152.0 266.5,151.4 266.9,149.1 267.3,150.7 267.7,151.8 268.1,149.7 268.5,152.5 268.9,152.7 269.3,150.3 269.7,151.4 270.1,153.1 270.5,152.0 270.9,151.2 271.3,149.7 271.7,153.2 272.1,155.1 272.5,152.3 272.9,153.4 273.3,153.5 273.7,152.9 274.1,153.2 274.5,153.3 274.9,152.2 275.3,151.8 275.7,156.6 276.1,153.7 276.5,152.4 276.9,152.5 277.3,151.1 277.7,155.0 278.1,152.3 278.5,149.4 278.9,154.2 279.3,149.2 279.7,156.0 280.1,154.9 280.5,154.7 280.9,149.5 281.3,153.9 281.7,154.2 282.1,156.7 282.5,157.1 282.9,156.5 283.3,156.6 283.7,150.1 284.1,159.0 284.5,155.8 284.9,156.9 285.3,158.6 285.7,155.0 286.1,160.9 286.5,162.8 286.9,166.8 287.3,168.5 287.7,167.3 288.1,165.7 288.5,167.3 288.9,168.4 289.3,166.7 289.7,169.2 290.1,170.6 290.5,168.2 290.9,169.9 291.3,169.1 291.7,171.6 292.1,171.4 292.5,171.3 292.9,171.4 293.3,171.1 293.7,172.0 294.1,172.0 294.5,171.7 294.9,173.7 295.3,173.9 295.7,172.7 296.1,173.8 296.5,174.5 296.9,173.9 297.3,173.9 297.7,174.5 298.1,172.9 298.5,172.6 298.9,175.1 299.3,175.1 299.7,176.2 300.1,174.9 300.5,176.3 300.9,176.5 301.3,177.4 301.7,175.5 302.1,176.0 302.5,176.7 302.9,176.9 303.3,176.1 303.7,172.8 304.1,176.3 304.5,179.3 304.9,177.6 305.3,177.8 305.7,177.6 306.1,178.3 306.5,179.0 306.9,178.4 307.3,178.8 307.7,180.7 308.1,179.7 308.5,179.6 308.9,179.2 309.3,179.7 309.7,179.4 310.1,180.3 310.5,179.8 310.9,180.0 311.3,180.4 311.7,180.1 312.1,181.2 312.5,183.2 312.9,181.0 313.3,180.4 313.7,182.6 314.1,181.9 314.5,183.7 314.9,182.7 315.3,183.3 315.7,182.2 316.1,181.8 316.5,183.2 316.9,182.0 317.3,183.1 317.7,182.8 318.1,183.8 318.5,184.1 318.9,184.5 319.3,184.9 319.7,187.0 320.1,185.4 320.5,185.3 320.9,185.1 321.3,186.7 321.7,185.2 322.1,187.7 322.5,186.8 322.9,185.9 323.3,187.5 323.7,187.5 324.1,184.7 324.5,186.9 324.9,186.3 325.3,186.9 325.7,187.2 326.1,188.1 326.5,188.6 326.9,190.9 327.3,190.1 327.7,188.7 328.1,190.2 328.5,189.5 328.9,189.7 329.3,189.4 329.7,191.2 330.1,190.2 330.5,190.9 330.9,190.9 331.3,189.8 331.7,190.6 332.1,191.8 332.5,190.2 332.9,191.7 333.3,191.6 333.7,192.2 334.1,192.4 334.5,192.6 334.9,192.2 335.3,189.8 335.7,191.9 336.1,192.1 336.5,193.3 336.9,192.3 337.3,193.7 337.7,193.8 338.1,192.5 338.5,190.1 338.9,192.8 339.3,193.8 339.7,193.1 340.1,194.0 340.5,192.9 340.9,193.3 341.3,195.8 341.7,195.2 342.1,193.4 342.5,195.0 342.9,194.6 343.3,196.6 343.7,195.2 344.1,195.7 344.5,195.4 344.9,196.2 345.3,195.5 345.7,195.3 346.1,195.8 346.5,196.0 346.9,197.0 347.3,196.7 347.7,196.5 348.1,196.7 348.5,196.4 348.9,197.4 349.3,195.9 349.7,197.4 350.1,198.6 350.5,197.6 350.9,197.6 351.3,198.3 351.7,197.7 352.1,198.0 352.5,199.2 352.9,198.4 353.3,200.6 353.7,199.7 354.1,199.4 354.5,199.2 354.9,199.7 355.3,198.4 355.7,200.4 356.1,201.1 356.5,201.0 356.9,200.5 357.3,201.5 357.7,201.7 358.1,201.3 358.5,201.8 358.9,202.5 359.3,202.3 359.7,201.9 360.1,202.3 360.5,202.6 360.9,201.5 361.3,203.0 361.7,201.9 362.1,201.7 362.5,202.2 362.9,205.0 363.3,200.8 363.7,205.0 364.1,203.9 364.5,205.6 364.9,205.0 365.3,204.3 365.7,201.7 366.1,206.3 366.5,207.0 366.9,205.8 367.3,205.2 367.7,205.1 368.1,206.4 368.5,206.9 368.9,206.3 369.3,206.3 369.7,207.1 370.1,207.0 370.5,204.6 370.9,205.9 371.3,206.9 371.7,208.7 372.1,207.5 372.5,209.4 372.9,208.1 373.3,207.7 373.7,208.3 374.1,208.7 374.5,207.9 374.9,208.8 375.3,208.4 375.7,207.0 376.1,208.7 376.5,209.3 376.9,207.8 377.3,208.5 377.7,209.6 378.1,209.2 378.5,209.8 378.9,210.3 379.3,210.7 379.7,209.5 380.1,210.5 380.5,211.3 380.9,210.5 381.3,210.2 381.7,210.8 382.1,212.6 382.5,211.6 382.9,212.9 383.3,211.7 383.7,212.9 384.1,211.2 384.5,212.1 384.9,212.6 385.3,214.0 385.7,213.2 386.1,213.8 386.5,212.9 386.9,212.6 387.3,214.4 387.7,214.7 388.1,214.7 388.5,213.5 388.9,213.7 389.3,215.8 389.7,214.6 390.1,215.5 390.5,215.3 390.9,213.6 391.3,213.6 391.7,214.0 392.1,214.9 392.5,216.2 392.9,215.3 393.3,216.2 393.7,214.9 394.1,215.5 394.5,215.4 394.9,216.2 395.3,215.5 395.7,216.4 396.1,217.0 396.5,216.4 396.9,216.2 397.3,216.6 397.7,216.2 398.1,216.5 398.5,217.9 398.9,217.7 399.3,214.0 399.7,217.5 400.1,218.2 400.5,218.6 400.9,218.6 401.3,219.0 401.7,218.4 402.1,218.5 402.5,218.2 402.9,219.6 403.3,219.6 403.7,220.4 404.1,220.0 404.5,218.7 404.9,218.4 405.3,218.7 405.7,219.3 406.1,220.6 406.5,219.4 406.9,219.1 407.3,220.7 407.7,221.7 408.1,221.9 408.5,222.8 408.9,221.8 409.3,221.6 409.7,222.1 410.1,218.0 410.5,222.3 410.9,223.9 411.3,224.8 411.7,220.9 412.1,223.9 412.5,223.8 412.9,224.4 413.3,223.0 413.7,225.1 414.1,225.5 414.5,225.0 414.9,225.2 415.3,224.4 415.7,226.4 416.1,226.7 416.5,224.3 416.9,225.5 417.3,227.1 417.7,228.3 418.1,226.5 418.5,226.2 418.9,228.6 419.3,228.0 419.7,227.3 420.1,222.8 420.5,223.1 420.9,225.1 421.3,228.8 421.7,227.9 422.1,229.2 422.5,229.6 422.9,230.0 423.3,229.4 423.7,229.4 424.1,229.8 424.5,229.2 424.9,226.2 425.3,228.3 425.7,231.6 426.1,232.5 426.5,230.1 426.9,231.0 427.3,230.0 427.7,231.6 428.1,231.5 428.5,231.2 428.9,230.7 429.3,231.7 429.7,233.4 430.1,233.2 430.5,232.2 430.9,230.3 431.3,227.1 431.7,226.6 432.1,229.9 432.5,231.6 432.9,233.0 433.3,232.8 433.7,232.8 434.1,231.9 434.5,231.8 434.9,233.7 435.3,232.7 435.7,234.0 436.1,232.6 436.5,234.0 436.9,233.5 437.3,233.1 437.7,233.1 438.1,235.0 438.5,234.2 438.9,233.5 439.3,233.1 439.7,232.7 440.1,233.6 440.5,235.0 440.9,232.4 441.3,229.4 441.7,227.0 442.1,232.2 442.5,234.7 442.9,234.7 443.3,235.2 443.7,234.9 444.1,234.0 444.5,234.3 444.9,231.6 445.3,232.8 445.7,235.0 446.1,234.5 446.5,234.2 446.9,231.4 447.3,234.9 447.7,235.2 448.1,234.7 448.5,235.7 448.9,236.5 449.3,236.2 449.7,237.4 450.1,234.8 450.5,237.2 450.9,236.0 451.3,236.8 451.7,237.6 452.1,235.3 452.5,235.2 452.9,235.2 453.3,230.7 453.7,222.2 454.1,229.7 454.5,232.3 454.9,236.1 455.3,237.3 455.7,240.0 456.1,237.4 456.5,237.0 456.9,237.3 457.3,237.8 457.7,237.4 458.1,238.3 458.5,238.0 458.9,238.7 459.3,238.2 459.7,238.1 460.1,237.5 460.5,237.3 460.9,238.3 461.3,238.3 461.7,238.9 462.1,238.8 462.5,238.6 462.9,240.9 463.3,239.4 463.7,240.3 464.1,238.6 464.5,240.3 464.9,240.6 465.3,240.1 465.7,239.1 466.1,241.0 466.5,239.5 466.9,238.9 467.3,239.0 467.7,240.4 468.1,240.1 468.5,241.3 468.9,240.9 469.3,241.9 469.7,241.2 470.1,241.1 470.5,241.1 470.9,239.7 471.3,237.3 471.7,237.5 472.1,240.8 472.5,241.0 472.9,241.8 473.3,242.8 473.7,240.1 474.1,241.4 474.5,241.5 474.9,242.4 475.3,241.3 475.7,242.0 476.1,244.6 476.5,241.7 476.9,242.7 477.3,243.2 477.7,242.9 478.1,242.3 478.5,244.2 478.9,241.9 479.3,239.9 479.7,243.5 480.1,243.3 480.5,244.9 480.9,243.8 481.3,245.8 481.7,244.4 482.1,245.8 482.5,245.1 482.9,244.6 483.3,244.2 483.7,243.2 484.1,238.6 484.5,244.0 484.9,244.8 485.3,244.1 485.7,246.4 486.1,245.0 486.5,245.3 486.9,246.8 487.3,246.4 487.7,241.9 488.1,246.1 488.5,247.6 488.9,248.1 489.3,247.7 489.7,249.9 490.1,248.0 490.5,247.3 490.9,246.8 491.3,246.1 491.7,248.0 492.1,248.2 492.5,248.0 492.9,248.1 493.3,248.7 493.7,249.5 494.1,249.7 494.5,246.3 494.9,250.3 495.3,249.2 495.7,248.9 496.1,249.8 496.5,248.3 496.9,250.8 497.3,250.7 497.7,250.8 498.1,249.6 498.5,250.2 498.9,250.8 499.3,250.0 499.7,250.1 500.1,251.0 500.5,251.4 500.9,250.8 501.3,252.4 501.7,249.3 502.1,252.3 502.5,251.8 502.9,251.8 503.3,253.5 503.7,252.6 504.1,252.9 504.5,252.7 504.9,252.2 505.3,254.1 505.7,252.6 506.1,253.1 506.5,251.2 506.9,254.9 507.3,253.8 507.7,251.3 508.1,252.7 508.5,252.9 508.9,251.3 509.3,254.0 509.7,252.9 510.1,254.1 510.5,254.2 510.9,252.8 511.3,254.1 511.7,254.3 512.1,254.5 512.5,253.7 512.9,254.1 513.3,254.6 513.7,253.7 514.1,255.2 514.5,254.4 514.9,255.7 515.3,254.5 515.7,253.6 516.1,256.3 516.5,255.0 516.9,254.7 517.3,254.2 517.7,250.7 518.1,256.8 518.5,255.5 518.9,257.5 519.3,255.8 519.7,256.8 520.1,256.0 520.5,255.7 520.9,255.8 521.3,256.1 521.7,255.4 522.1,255.5 522.5,257.0 522.9,257.8 523.3,257.0 523.7,257.0 524.1,256.3 524.5,258.2 524.9,258.2 525.3,256.4 525.7,257.6 526.1,257.4 526.5,256.5 526.9,259.3 527.3,259.0 527.7,258.4 528.1,259.4 528.5,257.9 528.9,258.7 529.3,259.7 529.7,258.4 530.1,259.0 530.5,258.0 530.9,259.4 531.3,259.9 531.7,258.1 532.1,258.3 532.5,259.0 532.9,260.3 533.3,258.4 533.7,257.1 534.1,255.1 534.5,252.2 534.9,247.2 535.3,249.4 535.7,254.6 536.1,257.0 536.5,258.6 536.9,259.1 537.3,258.5 537.7,260.5 538.1,256.3 538.5,253.5 538.9,256.1 539.3,254.9 539.7,259.6 540.1,258.9 540.5,259.8 540.9,258.5 541.3,261.1 541.7,258.3 542.1,257.4 542.5,255.7 542.9,256.0 543.3,255.7 543.7,254.9 544.1,258.6 544.5,255.6 544.9,259.5 545.3,257.6 545.7,256.6 546.1,256.1 546.5,258.2 546.9,258.3 547.3,261.1 547.7,259.6 548.1,258.0 548.5,254.4 548.9,251.7 549.3,247.8 549.7,254.0 550.1,256.3 550.5,259.0 550.9,261.2 551.3,262.7 551.7,262.9 552.1,263.1 552.5,261.6 552.9,262.9 553.3,263.6 553.7,263.3 554.1,262.9 554.5,262.4 554.9,262.6 555.3,264.4 555.7,263.4 556.1,263.9 556.5,264.4 556.9,261.9 557.3,263.5 557.7,263.3 558.1,263.9 558.5,262.2 558.9,261.3 559.3,258.9 559.7,257.6 560.1,256.6 560.5,258.2 560.9,260.8 561.3,261.6 561.7,261.7 562.1,262.3 562.5,262.0 562.9,262.4 563.3,261.8 563.7,258.8 564.1,253.3 564.5,260.4 564.9,261.4 565.3,261.5 565.7,262.5 566.1,264.5 566.5,261.6 566.9,262.0 567.3,263.1 567.7,260.4 568.1,262.5 568.5,263.3 568.9,258.5 569.3,260.5 569.7,258.8 570.1,258.8 570.5,262.2 570.9,261.5 571.3,263.9 571.7,262.5 572.1,264.2 572.5,263.7 572.9,261.5 573.3,256.2 573.7,255.6 574.1,258.2 574.5,260.7 574.9,262.5 575.3,265.5 575.7,261.4 576.1,266.0 576.5,265.8 576.9,265.0 577.3,264.7 577.7,264.1 578.1,265.5 578.5,267.2 578.9,266.5 579.3,266.1 579.7,266.5 580.1,264.5 580.5,264.8 580.9,262.5 581.3,265.3 581.7,265.5 582.1,265.9 582.5,265.8 582.9,266.5 583.3,265.4 583.7,266.6 584.1,264.7 584.5,264.2 584.9,262.3 585.3,263.5 585.7,264.8 586.1,264.4 586.5,266.3 586.9,265.1 587.3,266.4 587.7,266.7 588.1,266.1 588.5,266.3 588.9,267.3 588.9,266.8 588.5,267.1 588.1,267.3 587.7,267.2 587.3,267.4 586.9,267.3 586.5,267.4 586.1,267.3 585.7,267.3 585.3,267.8 584.9,266.4 584.5,266.7 584.1,267.2 583.7,266.6 583.3,267.1 582.9,266.8 582.5,266.4 582.1,267.6 581.7,267.5 581.3,266.8 580.9,266.8 580.5,266.7 580.1,266.5 579.7,266.6 579.3,266.3 578.9,267.4 578.5,266.2 578.1,267.0 577.7,267.1 577.3,267.2 576.9,267.4 576.5,266.2 576.1,266.8 575.7,266.9 575.3,266.9 574.9,266.4 574.5,267.1 574.1,268.0 573.7,265.8 573.3,267.2 572.9,266.9 572.5,267.4 572.1,267.4 571.7,267.2 571.3,266.8 570.9,266.6 570.5,266.8 570.1,265.7 569.7,267.4 569.3,267.4 568.9,266.5 568.5,266.6 568.1,266.9 567.7,267.5 567.3,267.6 566.9,266.6 566.5,266.8 566.1,266.9 565.7,266.6 565.3,267.2 564.9,266.5 564.5,266.4 564.1,266.6 563.7,266.8 563.3,266.7 562.9,266.7 562.5,266.8 562.1,267.2 561.7,266.7 561.3,266.3 560.9,265.5 560.5,267.2 560.1,266.9 559.7,267.8 559.3,267.6 558.9,266.4 558.5,267.3 558.1,266.7 557.7,266.7 557.3,266.7 556.9,267.1 556.5,266.3 556.1,266.7 555.7,267.8 555.3,266.8 554.9,267.7 554.5,267.5 554.1,267.1 553.7,267.3 553.3,267.7 552.9,267.0 552.5,267.3 552.1,267.5 551.7,266.9 551.3,267.5 550.9,266.3 550.5,267.4 550.1,267.0 549.7,266.9 549.3,267.1 548.9,266.6 548.5,268.1 548.1,266.7 547.7,266.7 547.3,268.1 546.9,267.4 546.5,267.5 546.1,267.4 545.7,267.8 545.3,267.3 544.9,266.4 544.5,267.4 544.1,267.0 543.7,267.0 543.3,266.4 542.9,266.6 542.5,267.2 542.1,266.3 541.7,266.7 541.3,266.8 540.9,267.8 540.5,267.7 540.1,266.3 539.7,267.0 539.3,266.8 538.9,266.9 538.5,266.4 538.1,265.6 537.7,267.1 537.3,266.0 536.9,266.7 536.5,266.7 536.1,267.2 535.7,266.1 535.3,267.4 534.9,266.0 534.5,266.9 534.1,266.7 533.7,266.6 533.3,266.5 532.9,267.3 532.5,266.9 532.1,266.8 531.7,266.2 531.3,267.7 530.9,267.3 530.5,267.2 530.1,266.7 529.7,267.2 529.3,267.0 528.9,267.3 528.5,266.1 528.1,266.6 527.7,267.3 527.3,267.3 526.9,266.9 526.5,266.9 526.1,266.9 525.7,266.8 525.3,266.9 524.9,266.9 524.5,266.8 524.1,267.2 523.7,267.0 523.3,267.1 522.9,268.0 522.5,266.2 522.1,266.3 521.7,267.2 521.3,267.1 520.9,266.5 520.5,266.6 520.1,267.3 519.7,266.3 519.3,266.7 518.9,267.2 518.5,266.8 518.1,267.0 517.7,267.0 517.3,267.2 516.9,266.7 516.5,266.7 516.1,267.1 515.7,267.5 515.3,266.6 514.9,266.6 514.5,268.7 514.1,267.3 513.7,267.9 513.3,267.3 512.9,266.7 512.5,266.5 512.1,266.7 511.7,267.2 511.3,267.1 510.9,267.5 510.5,267.0 510.1,266.9 509.7,267.3 509.3,266.4 508.9,267.2 508.5,266.2 508.1,267.3 507.7,267.8 507.3,267.0 506.9,267.3 506.5,267.4 506.1,267.3 505.7,266.9 505.3,267.2 504.9,265.9 504.5,266.6 504.1,266.8 503.7,267.3 503.3,266.7 502.9,266.6 502.5,266.2 502.1,266.1 501.7,266.8 501.3,267.2 500.9,267.4 500.5,266.7 500.1,267.2 499.7,266.9 499.3,266.7 498.9,267.3 498.5,267.3 498.1,266.8 497.7,266.6 497.3,266.9 496.9,266.6 496.5,267.2 496.1,266.3 495.7,267.1 495.3,267.2 494.9,266.7 494.5,266.5 494.1,266.0 493.7,266.7 493.3,266.3 492.9,267.5 492.5,266.9 492.1,266.3 491.7,267.4 491.3,267.1 490.9,267.3 490.5,266.5 490.1,267.9 489.7,267.4 489.3,267.3 488.9,267.2 488.5,267.4 488.1,266.7 487.7,266.7 487.3,266.9 486.9,267.4 486.5,266.2 486.1,266.9 485.7,267.0 485.3,266.7 484.9,267.8 484.5,267.0 484.1,267.1 483.7,267.4 483.3,268.1 482.9,266.6 482.5,266.6 482.1,267.7 481.7,267.1 481.3,266.0 480.9,267.0 480.5,266.5 480.1,266.9 479.7,266.8 479.3,266.6 478.9,267.2 478.5,266.8 478.1,267.1 477.7,267.3 477.3,266.4 476.9,267.8 476.5,266.8 476.1,267.9 475.7,265.9 475.3,267.7 474.9,266.9 474.5,266.1 474.1,266.8 473.7,267.1 473.3,266.3 472.9,266.8 472.5,266.6 472.1,267.7 471.7,266.3 471.3,266.3 470.9,266.3 470.5,266.7 470.1,267.0 469.7,266.2 469.3,267.1 468.9,266.7 468.5,266.6 468.1,267.0 467.7,266.9 467.3,267.5 466.9,267.2 466.5,267.3 466.1,267.9 465.7,267.0 465.3,266.6 464.9,266.2 464.5,265.1 464.1,266.0 463.7,267.0 463.3,267.4 462.9,266.9 462.5,266.2 462.1,267.6 461.7,267.2 461.3,267.3 460.9,267.2 460.5,267.2 460.1,266.9 459.7,266.3 459.3,267.3 458.9,266.9 458.5,267.7 458.1,266.7 457.7,266.5 457.3,266.7 456.9,266.7 456.5,266.6 456.1,266.5 455.7,267.1 455.3,266.9 454.9,266.6 454.5,267.3 454.1,267.5 453.7,266.4 453.3,267.8 452.9,267.1 452.5,267.2 452.1,266.7 451.7,266.0 451.3,267.0 450.9,266.8 450.5,266.8 450.1,266.5 449.7,267.1 449.3,266.5 448.9,266.6 448.5,267.0 448.1,266.8 447.7,266.8 447.3,266.7 446.9,267.4 446.5,267.1 446.1,267.6 445.7,266.9 445.3,267.2 444.9,267.8 444.5,267.7 444.1,266.4 443.7,266.5 443.3,266.8 442.9,266.9 442.5,266.9 442.1,266.9 441.7,266.4 441.3,267.0 440.9,267.4 440.5,267.0 440.1,266.7 439.7,266.7 439.3,266.7 438.9,266.0 438.5,267.1 438.1,267.6 437.7,267.2 437.3,266.7 436.9,266.3 436.5,266.7 436.1,266.4 435.7,266.6 435.3,267.2 434.9,266.3 434.5,266.4 434.1,266.7 433.7,265.7 433.3,266.4 432.9,267.2 432.5,265.8 432.1,267.7 431.7,265.7 431.3,266.7 430.9,265.6 430.5,266.5 430.1,267.4 429.7,266.9 429.3,265.7 428.9,265.9 428.5,266.1 428.1,265.6 427.7,266.1 427.3,265.2 426.9,265.2 426.5,265.7 426.1,266.7 425.7,265.6 425.3,265.4 424.9,265.4 424.5,265.1 424.1,265.3 423.7,265.4 423.3,265.2 422.9,265.2 422.5,266.1 422.1,265.3 421.7,264.1 421.3,264.6 420.9,265.4 420.5,264.0 420.1,264.2 419.7,264.8 419.3,264.6 418.9,263.8 418.5,264.1 418.1,263.6 417.7,264.6 417.3,264.1 416.9,263.0 416.5,264.0 416.1,264.5 415.7,263.5 415.3,263.4 414.9,264.0 414.5,264.2 414.1,262.7 413.7,262.9 413.3,263.4 412.9,263.3 412.5,263.1 412.1,263.2 411.7,263.0 411.3,262.8 410.9,262.8 410.5,262.3 410.1,262.9 409.7,262.4 409.3,261.7 408.9,262.8 408.5,261.2 408.1,263.3 407.7,261.9 407.3,262.6 406.9,262.4 406.5,262.8 406.1,262.6 405.7,261.3 405.3,262.2 404.9,261.8 404.5,262.2 404.1,262.1 403.7,262.0 403.3,261.6 402.9,261.8 402.5,261.9 402.1,261.8 401.7,261.7 401.3,261.3 400.9,261.5 400.5,260.5 400.1,260.6 399.7,260.8 399.3,261.3 398.9,261.2 398.5,260.9 398.1,260.9 397.7,261.1 397.3,260.9 396.9,259.9 396.5,259.8 396.1,260.4 395.7,259.8 395.3,259.8 394.9,259.9 394.5,259.1 394.1,260.0 393.7,259.7 393.3,259.8 392.9,259.6 392.5,258.7 392.1,259.8 391.7,260.0 391.3,259.3 390.9,259.4 390.5,258.7 390.1,259.1 389.7,259.2 389.3,258.4 388.9,258.3 388.5,257.5 388.1,257.8 387.7,258.7 387.3,258.5 386.9,258.2 386.5,258.4 386.1,258.7 385.7,258.2 385.3,257.6 384.9,258.2 384.5,258.2 384.1,257.6 383.7,258.4 383.3,257.3 382.9,257.8 382.5,257.1 382.1,257.5 381.7,257.5 381.3,257.3 380.9,256.9 380.5,256.3 380.1,257.3 379.7,257.0 379.3,257.6 378.9,255.8 378.5,256.5 378.1,256.2 377.7,256.5 377.3,256.1 376.9,256.1 376.5,256.5 376.1,256.9 375.7,256.7 375.3,255.9 374.9,255.3 374.5,256.0 374.1,255.9 373.7,255.3 373.3,254.7 372.9,255.8 372.5,255.5 372.1,255.4 371.7,255.7 371.3,255.8 370.9,255.1 370.5,254.9 370.1,255.2 369.7,254.3 369.3,255.0 368.9,255.0 368.5,254.6 368.1,254.8 367.7,254.4 367.3,254.5 366.9,254.2 366.5,254.7 366.1,254.2 365.7,253.8 365.3,253.7 364.9,255.0 364.5,254.8 364.1,254.2 363.7,253.7 363.3,253.5 362.9,253.9 362.5,253.7 362.1,252.9 361.7,252.9 361.3,254.0 360.9,253.7 360.5,254.1 360.1,253.5 359.7,253.1 359.3,252.6 358.9,252.8 358.5,253.1 358.1,252.8 357.7,252.1 357.3,253.9 356.9,252.8 356.5,254.1 356.1,253.6 355.7,251.2 355.3,252.2 354.9,251.3 354.5,252.1 354.1,252.2 353.7,252.2 353.3,252.3 352.9,251.7 352.5,251.8 352.1,252.0 351.7,251.3 351.3,252.5 350.9,251.6 350.5,251.9 350.1,251.4 349.7,251.8 349.3,251.1 348.9,250.8 348.5,251.1 348.1,250.1 347.7,250.2 347.3,250.9 346.9,250.5 346.5,250.4 346.1,250.7 345.7,250.4 345.3,250.1 344.9,250.5 344.5,250.6 344.1,249.3 343.7,249.5 343.3,249.7 342.9,250.3 342.5,250.0 342.1,250.1 341.7,250.0 341.3,249.3 340.9,248.9 340.5,249.1 340.1,249.2 339.7,249.1 339.3,248.7 338.9,249.2 338.5,248.9 338.1,247.9 337.7,248.3 337.3,248.6 336.9,247.6 336.5,248.8 336.1,249.3 335.7,247.7 335.3,248.5 334.9,248.4 334.5,247.3 334.1,247.8 333.7,248.5 333.3,247.3 332.9,248.2 332.5,247.5 332.1,247.6 331.7,248.0 331.3,247.8 330.9,247.1 330.5,246.5 330.1,247.0 329.7,246.7 329.3,247.9 328.9,247.1 328.5,246.8 328.1,245.8 327.7,246.9 327.3,245.6 326.9,245.9 326.5,246.1 326.1,245.1 325.7,245.0 325.3,245.3 324.9,245.1 324.5,245.5 324.1,245.0 323.7,244.7 323.3,244.8 322.9,245.1 322.5,244.7 322.1,244.2 321.7,244.6 321.3,244.4 320.9,243.9 320.5,244.5 320.1,244.6 319.7,242.5 319.3,244.0 318.9,243.6 318.5,243.3 318.1,243.1 317.7,243.6 317.3,243.1 316.9,243.2 316.5,243.3 316.1,242.4 315.7,242.2 315.3,242.1 314.9,242.8 314.5,243.1 314.1,242.4 313.7,242.0 313.3,242.2 312.9,242.3 312.5,242.0 312.1,241.5 311.7,241.0 311.3,241.6 310.9,242.0 310.5,241.0 310.1,240.6 309.7,241.6 309.3,240.8 308.9,240.4 308.5,240.6 308.1,240.9 307.7,240.5 307.3,240.3 306.9,240.3 306.5,239.5 306.1,239.0 305.7,239.0 305.3,239.2 304.9,239.9 304.5,239.1 304.1,239.4 303.7,239.2 303.3,239.7 302.9,239.2 302.5,238.9 302.1,239.0 301.7,237.1 301.3,237.4 300.9,237.4 300.5,237.2 300.1,237.6 299.7,237.4 299.3,238.1 298.9,236.9 298.5,237.0 298.1,237.1 297.7,236.5 297.3,236.5 296.9,235.9 296.5,237.3 296.1,236.7 295.7,235.8 295.3,236.2 294.9,236.0 294.5,235.8 294.1,234.9 293.7,235.5 293.3,234.5 292.9,234.9 292.5,235.2 292.1,234.8 291.7,234.6 291.3,233.7 290.9,234.3 290.5,234.1 290.1,234.1 289.7,234.0 289.3,234.4 288.9,233.1 288.5,233.1 288.1,232.3 287.7,233.0 287.3,233.3 286.9,232.9 286.5,232.1 286.1,232.0 285.7,232.6 285.3,232.2 284.9,232.0 284.5,231.8 284.1,231.1 283.7,230.6 283.3,231.6 282.9,229.7 282.5,229.5 282.1,230.8 281.7,229.7 281.3,229.9 280.9,229.8 280.5,228.6 280.1,228.4 279.7,229.1 279.3,227.6 278.9,228.3 278.5,227.9 278.1,227.4 277.7,227.7 277.3,227.1 276.9,227.4 276.5,226.2 276.1,225.9 275.7,226.8 275.3,224.9 274.9,225.2 274.5,225.3 274.1,225.0 273.7,224.9 273.3,224.1 272.9,223.5 272.5,223.8 272.1,224.2 271.7,223.7 271.3,223.2 270.9,223.0 270.5,222.9 270.1,222.2 269.7,222.1 269.3,222.0 268.9,222.0 268.5,221.4 268.1,221.4 267.7,220.9 267.3,220.7 266.9,220.1 266.5,219.8 266.1,219.1 265.7,219.3 265.3,219.2 264.9,218.9 264.5,218.3 264.1,218.2 263.7,218.4 263.3,217.6 262.9,217.5 262.5,217.0 262.1,216.7 261.7,216.3 261.3,216.1 260.9,216.3 260.5,216.1 260.1,215.9 259.7,214.9 259.3,214.6 258.9,216.0 258.5,215.2 258.1,213.6 257.7,214.3 257.3,213.9 256.9,213.3 256.5,214.7 256.1,213.0 255.7,213.2 255.3,212.5 254.9,212.5 254.5,211.6 254.1,211.3 253.7,212.0 253.3,210.9 252.9,210.9 252.5,210.1 252.1,210.1 251.7,209.6 251.3,209.3 250.9,208.9 250.5,208.4 250.1,207.9 249.7,208.2 249.3,207.6 248.9,206.7 248.5,206.6 248.1,205.6 247.7,204.4 247.3,204.0 246.9,202.9 246.5,202.3 246.1,201.7 245.7,200.2 245.3,200.7 244.9,201.8 244.5,201.7 244.1,202.8 243.7,203.5 243.3,204.9 242.9,205.6 242.5,205.5 242.1,206.6 241.7,208.1 241.3,208.1 240.9,208.0 240.5,208.8 240.1,207.6 239.7,208.6 239.3,209.1 238.9,209.7 238.5,210.3 238.1,209.4 237.7,209.8 237.3,211.1 236.9,211.3 236.5,211.5 236.1,211.0 235.7,211.5 235.3,212.2 234.9,212.3 234.5,212.7 234.1,212.5 233.7,212.4 233.3,212.5 232.9,213.1 232.5,213.2 232.1,213.5 231.7,213.5 231.3,213.4 230.9,214.4 230.5,214.7 230.1,214.7 229.7,215.0 229.3,215.0 228.9,215.9 228.5,215.9 228.1,215.7 227.7,215.9 227.3,216.2 226.9,215.8 226.5,215.8 226.1,216.4 225.7,216.8 225.3,217.3 224.9,217.2 224.5,216.9 224.1,216.7 223.7,217.7 223.3,217.6 222.9,217.6 222.5,218.8 222.1,218.9 221.7,219.2 221.3,219.6 220.9,218.9 220.5,219.4 220.1,220.0 219.7,220.0 219.3,221.7 218.9,221.4 218.5,222.2 218.1,221.9 217.7,221.9 217.3,222.3 216.9,222.9 216.5,223.7 216.1,223.2 215.7,223.7 215.3,224.2 214.9,224.2 214.5,224.5 214.1,224.9 213.7,224.9 213.3,225.8 212.9,226.0 212.5,225.8 212.1,226.6 211.7,225.5 211.3,228.0 210.9,228.7 210.5,228.0 210.1,227.8 209.7,227.9 209.3,228.8 208.9,229.1 208.5,228.9 208.1,228.9 207.7,230.5 207.3,230.1 206.9,230.2 206.5,230.8 206.1,232.1 205.7,230.9 205.3,232.0 204.9,232.4 204.5,232.7 204.1,232.1 203.7,233.1 203.3,233.7 202.9,233.7 202.5,232.9 202.1,234.5 201.7,234.7 201.3,235.0 200.9,235.2 200.5,235.9 200.1,235.6 199.7,236.8 199.3,237.2 198.9,237.1 198.5,237.3 198.1,237.6 197.7,238.1 197.3,237.8 196.9,238.3 196.5,238.2 196.1,238.1 195.7,238.2 195.3,239.6 194.9,239.2 194.5,240.2 194.1,240.2 193.7,241.5 193.3,240.7 192.9,241.2 192.5,242.0 192.1,241.7 191.7,242.5 191.3,242.9 190.9,242.9 190.5,243.1 190.1,243.5 189.7,243.7 189.3,243.9 188.9,243.3 188.5,244.7 188.1,245.1 187.7,244.8 187.3,245.3 186.9,245.9 186.5,246.3 186.1,246.4 185.7,246.7 185.3,247.4 184.9,247.6 184.5,248.4 184.1,247.9 183.7,248.5 183.3,248.1 182.9,249.0 182.5,248.9 182.1,249.6 181.7,250.2 181.3,249.6 180.9,249.9 180.5,250.8 180.1,251.4 179.7,251.4 179.3,252.4 178.9,251.7 178.5,252.0 178.1,251.9 177.7,252.6 177.3,254.1 176.9,253.3 176.5,253.7 176.1,254.4 175.7,254.5 175.3,255.6 174.9,255.1 174.5,254.9 174.1,255.8 173.7,255.8 173.3,255.1 172.9,256.0 172.5,256.6 172.1,257.5 171.7,257.9 171.3,258.0 170.9,257.6 170.5,257.2 170.1,258.4 169.7,259.2 169.3,258.7 168.9,259.2 168.5,259.9 168.1,259.4 167.7,259.8 167.3,261.6 166.9,260.5 166.5,260.8 166.1,261.4 165.7,262.4 165.3,262.2 164.9,263.0 164.5,262.7 164.1,262.3 163.7,263.0 163.3,263.3 162.9,263.1 162.5,263.2 162.1,263.0 161.7,265.0 161.3,265.2 160.9,265.0 160.5,264.8 160.1,265.0 159.7,266.6 159.3,265.6 158.9,265.1 158.5,267.0 158.1,267.3 157.7,267.6 157.3,267.5 156.9,267.2 156.5,267.2 156.1,267.5 155.7,268.5 155.3,268.4 154.9,267.9 154.5,269.0 154.1,268.0 153.7,267.8 153.3,268.7 152.9,268.5 152.5,268.2 152.1,268.3 151.7,268.7 151.3,268.9 150.9,268.6 150.5,269.0 150.1,268.2 149.7,269.1 149.3,269.1 148.9,269.4 148.5,268.2 148.1,268.9 147.7,269.8 147.3,268.4 146.9,268.1 146.5,269.2 146.1,269.1 145.7,268.5 145.3,269.0 144.9,268.6 144.5,269.6 144.1,268.1 143.7,268.7 143.3,269.0 142.9,268.4 142.5,269.7 142.1,268.5 141.7,268.7 141.3,269.2 140.9,269.8 140.5,268.1 140.1,268.0 139.7,268.9 139.3,268.6 138.9,269.0 138.5,268.3 138.1,268.7 137.7,268.8 137.3,268.5 136.9,268.4 136.5,269.0 136.1,268.3 135.7,268.3 135.3,268.3 134.9,268.6 134.5,268.7 134.1,268.7 133.7,268.5 133.3,268.8 132.9,267.8 132.5,268.5 132.1,268.8 131.7,268.8 131.3,268.7 130.9,268.2 130.5,269.1 130.1,269.0 129.7,268.9 129.3,268.9 128.9,268.4 128.5,269.2 128.1,268.6 127.7,268.2 127.3,268.8 126.9,269.5 126.5,267.6 126.1,268.0 125.7,268.6 125.3,268.3 124.9,268.5 124.5,268.2 124.1,269.7 123.7,269.3 123.3,269.3 122.9,268.0 122.5,268.1 122.1,268.9 121.7,268.3 121.3,269.1 120.9,269.1 120.5,268.6 120.1,269.8 119.7,269.6 119.3,268.6 118.9,269.4 118.5,270.3 118.1,269.3 117.7,269.2 117.3,269.0 116.9,268.8 116.5,268.6 116.1,268.0 115.7,269.1 115.3,268.4 114.9,268.8 114.5,268.3 114.1,268.1 113.7,268.7 113.3,268.3 112.9,268.9 112.5,267.6 112.1,269.4 111.7,268.2 111.3,268.6 110.9,269.3 110.5,269.1 110.1,268.7 109.7,268.6 109.3,268.6 108.9,268.6 108.5,269.2 108.1,269.1 107.7,269.5 107.3,267.9 106.9,268.6 106.5,268.6 106.1,269.8 105.7,269.6 105.3,268.4 104.9,268.7 104.5,268.4 104.1,268.2 103.7,268.5 103.3,269.0 102.9,269.2 102.5,268.9 102.1,268.8 101.7,268.0 101.3,269.2 100.9,269.3 100.5,268.9 100.1,268.2 99.7,268.2 99.3,268.7 98.9,268.9 98.5,269.1 98.1,268.6 97.7,268.6 97.3,268.8 96.9,268.6 96.5,268.4 96.1,268.9 95.7,269.6 95.3,269.1 94.9,269.3 94.5,268.7 94.1,269.3 93.7,268.0 93.3,268.9 92.9,268.9 92.5,267.9 92.1,268.4 91.7,270.1 91.3,268.4 90.9,268.8 90.5,268.6 90.1,268.8 89.7,268.5 89.3,268.1 88.9,269.1 88.5,267.9 88.1,270.0 87.7,269.1 87.3,268.8 86.9,268.9 86.5,270.2 86.1,268.1 85.7,268.6 85.3,268.8 84.9,268.9 84.5,268.9 84.1,269.5 83.7,268.8 83.3,267.4 82.9,268.4 82.5,268.7 82.1,268.9 81.7,268.4 81.3,268.7 80.9,269.1 80.5,268.0 80.1,268.7 79.7,268.8 79.3,268.5 78.9,269.1 78.5,268.2 78.1,268.6 77.7,269.3 77.3,269.7 76.9,268.9 76.5,268.9 76.1,269.0 75.7,268.5 75.3,269.0 74.9,268.9 74.5,269.1 74.1,269.7 73.7,268.2 73.3,269.0 72.9,268.9 72.5,269.1 72.1,268.6 71.7,268.5 71.3,268.7 70.9,269.0 70.5,268.1 70.1,268.5 69.7,268.9 69.3,269.5 68.9,270.0 68.5,268.1 68.1,268.6 67.7,269.5 67.3,269.6 66.9,269.0 66.5,269.8 66.1,269.5 65.7,269.2 65.3,269.4 64.9,268.6 64.5,267.1 64.1,269.4 63.7,268.5 63.3,267.5 62.9,268.1 62.5,268.3 62.1,267.7 61.7,268.3 61.3,268.6 60.9,268.0 60.5,268.3 60.1,267.9 59.7,268.6 59.3,268.3 58.9,268.4 58.5,269.6 58.1,268.5 57.7,268.5 57.3,268.7 56.9,267.9 56.5,268.8 56.1,268.7 55.7,269.0 55.3,268.3 54.9,268.1 54.5,268.7 54.1,269.2 53.7,268.4 53.3,267.8 52.9,268.6 52.5,268.3 52.1,268.7 51.7,268.0 51.3,268.4 50.9,269.2 50.5,268.3 50.1,268.4 49.7,269.0 49.3,269.4 48.9,269.4 48.5,269.2 48.1,269.1 47.7,268.7 47.3,268.8 46.9,268.9 46.5,268.7 46.1,268.2 45.7,269.2 45.3,268.5 44.9,268.2 44.5,269.0 44.1,268.5 43.7,268.0 43.3,268.9 42.9,269.6 42.5,268.8 42.1,267.4 41.7,269.4 41.3,267.9 40.9,267.9 40.5,268.4 40.1,268.7 39.7,269.0 39.3,269.5 38.9,269.3 38.5,268.1 38.1,267.5 37.7,268.5 37.3,269.0 36.9,268.0 36.5,268.6 36.1,268.5 35.7,268.4 35.3,268.0 34.9,268.9 34.5,268.6 34.1,267.5 33.7,268.6 33.3,269.4 32.9,267.9 32.5,268.9 32.1,268.3 31.7,269.0 31.3,269.5 30.9,269.1 30.5,268.8 30.1,268.2 29.7,267.9 29.3,267.8 28.9,269.7 28.5,268.0 28.1,268.8 27.7,268.8 27.3,268.5 26.9,269.4 26.5,268.8 26.1,268.8 25.7,269.3 25.3,269.1 24.9,269.4 24.5,268.5 24.1,268.4 23.7,268.7 23.3,268.9 22.9,268.5 22.5,268.7 22.1,268.1 21.7,268.9 21.3,268.7 20.9,267.7 20.5,268.3 20.1,268.9 19.7,269.2 19.3,268.2 18.9,268.3 18.5,267.8" fill="#085cbf"/>
<path d="M18.7 266.5 H150 V268 H18.7z M437 266.7 H588.3 V268 H437z" fill="#085cbf"/>
<path d="M222.5 215.76 L223 220.76 L223.5 215.76z M225.5 214.32 L226 218.32 L226.5 214.32z M228.5 212.88 L229 218.38 L229.5 212.88z M231.5 211.44 L232 215.94 L232.5 211.44z M234.5 210 L235 216 L235.5 210z M237.5 207.86 L238 212.86 L238.5 207.86z M240.5 205.71 L241 212.71 L241.5 205.71z M242.8 202.66 L243.3 208.66 L243.8 202.66z M247 202.3 L247.5 209.3 L248 202.3z M249.5 205.92 L250 209.92 L250.5 205.92z M259.5 213.5 L260 223.5 L260.5 213.5z M269.5 220.17 L270 227.17 L270.5 220.17z M283.5 228.9 L284 232.9 L284.5 228.9z M216.5 220.4 L217 224.4 L217.5 220.4z M212.5 223.6 L213 228.6 L213.5 223.6z M208.5 226.78 L209 230.78 L209.5 226.78z" fill="#1a6ac8"/>
<polygon points="143.0,268.2 143.4,266.5 143.8,266.9 144.2,265.6 144.6,266.6 145.0,266.9 145.4,266.4 145.8,266.6 146.2,266.0 146.6,264.3 147.0,265.7 147.4,264.6 147.8,263.8 148.2,263.4 148.6,265.0 149.0,265.2 149.4,264.0 149.8,263.4 150.2,263.9 150.6,263.5 151.0,262.9 151.4,262.4 151.8,264.6 152.2,263.7 152.6,262.5 153.0,263.6 153.4,262.6 153.8,261.8 154.2,261.8 154.6,260.8 155.0,262.3 155.4,260.1 155.8,259.4 156.2,259.8 156.6,260.0 157.0,259.2 157.4,260.6 157.8,258.8 158.2,260.3 158.6,259.4 159.0,253.6 159.4,259.8 159.8,256.0 160.2,257.3 160.6,258.0 161.0,256.8 161.4,257.6 161.8,257.3 162.2,252.9 162.6,255.8 163.0,257.1 163.4,256.9 163.8,258.4 164.2,254.9 164.6,255.9 165.0,254.3 165.4,251.2 165.8,253.7 166.2,253.8 166.6,253.8 167.0,254.3 167.4,253.2 167.8,251.7 168.2,251.5 168.6,251.6 169.0,249.5 169.4,249.6 169.8,249.6 170.2,251.5 170.6,249.2 171.0,248.6 171.4,248.8 171.8,248.2 172.2,249.5 172.6,249.2 173.0,247.5 173.4,246.4 173.8,247.5 174.2,242.8 174.6,246.0 175.0,244.5 175.4,245.4 175.8,244.7 176.2,243.1 176.6,243.6 177.0,243.1 177.4,242.2 177.8,243.4 178.2,242.5 178.6,241.2 179.0,241.6 179.4,237.0 179.8,240.4 180.2,236.9 180.6,239.2 181.0,237.5 181.4,238.9 181.8,237.2 182.2,237.8 182.6,235.2 183.0,236.9 183.4,236.6 183.8,232.6 184.2,235.0 184.6,233.9 185.0,234.0 185.4,232.2 185.8,233.9 186.2,232.3 186.6,232.8 187.0,230.4 187.4,228.5 187.8,226.9 188.2,230.8 188.6,228.6 189.0,223.2 189.4,228.9 189.8,227.8 190.2,227.4 190.6,226.3 191.0,219.4 191.4,224.5 191.8,222.8 192.2,222.9 192.6,222.6 193.0,222.1 193.4,222.0 193.8,219.6 194.2,218.1 194.6,217.4 195.0,217.1 195.4,218.6 195.8,214.7 196.2,214.5 196.6,214.6 197.0,210.6 197.4,211.9 197.8,213.5 198.2,212.2 198.6,211.9 199.0,209.8 199.4,210.7 199.8,209.1 200.2,209.6 200.6,207.2 201.0,207.6 201.4,207.7 201.8,202.8 202.2,204.3 202.6,204.6 203.0,199.6 203.4,203.4 203.8,204.4 204.2,201.1 204.6,199.0 205.0,196.0 205.4,199.6 205.8,200.1 206.2,199.5 206.6,196.6 207.0,198.1 207.4,196.9 207.8,192.2 208.2,196.0 208.6,195.6 209.0,191.9 209.4,193.1 209.8,191.8 210.2,186.6 210.6,191.4 211.0,187.8 211.4,189.4 211.8,185.1 212.2,186.9 212.6,186.4 213.0,181.6 213.4,185.1 213.8,185.6 214.2,184.0 214.6,183.5 215.0,183.9 215.4,184.4 215.8,182.0 216.2,181.2 216.6,181.0 217.0,180.8 217.4,178.0 217.8,177.0 218.2,177.5 218.6,175.8 219.0,180.4 219.4,176.8 219.8,174.5 220.2,174.8 220.6,175.2 221.0,177.2 221.4,177.5 221.8,170.3 222.2,171.0 222.6,174.0 223.0,172.8 223.4,169.4 223.8,170.4 224.2,169.0 224.6,166.5 225.0,169.7 225.4,166.9 225.8,167.6 226.2,166.3 226.6,166.3 227.0,168.8 227.4,164.2 227.8,163.2 228.2,159.0 228.6,161.7 229.0,165.0 229.4,162.9 229.8,161.9 230.2,159.7 230.6,160.8 231.0,154.5 231.4,157.0 231.8,160.4 232.2,158.4 232.6,156.2 233.0,151.2 233.4,158.0 233.8,154.4 234.2,155.4 234.6,155.9 235.0,156.2 235.4,155.3 235.8,150.7 236.2,148.2 236.6,152.1 237.0,145.4 237.4,142.2 237.8,140.2 238.2,145.9 238.6,146.7 239.0,145.0 239.4,144.5 239.8,144.0 240.2,143.3 240.6,144.4 241.0,141.2 241.4,134.6 241.8,134.7 242.2,137.4 242.6,135.7 243.0,133.5 243.4,130.1 243.8,132.6 244.2,132.6 244.6,132.4 245.0,129.5 245.4,130.1 245.8,131.5 246.2,132.9 246.6,132.0 247.0,135.6 247.4,137.6 247.8,139.1 248.2,138.9 248.6,142.8 249.0,141.4 249.4,143.4 249.8,145.0 250.2,144.0 250.6,148.6 251.0,149.7 251.4,149.5 251.8,154.2 252.2,144.3 252.6,135.5 253.0,152.6 253.4,154.5 253.8,157.4 254.2,156.8 254.6,155.6 255.0,160.1 255.4,156.4 255.8,160.4 256.2,160.4 256.6,161.7 257.0,160.9 257.4,161.8 257.8,163.1 258.2,162.7 258.6,163.2 259.0,166.6 259.4,168.1 259.8,161.7 260.2,168.0 260.6,168.3 261.0,170.9 261.4,165.9 261.8,169.7 262.2,169.4 262.6,170.1 263.0,170.3 263.4,171.7 263.8,172.3 264.2,176.2 264.6,174.5 265.0,175.2 265.4,177.0 265.8,174.4 266.2,176.5 266.6,178.4 267.0,177.4 267.4,179.1 267.8,182.6 268.2,182.8 268.6,182.9 269.0,182.4 269.4,180.5 269.8,187.1 270.2,186.0 270.6,184.3 271.0,184.7 271.4,185.1 271.8,188.0 272.2,191.4 272.6,188.6 273.0,192.6 273.4,190.6 273.8,192.5 274.2,192.3 274.6,194.8 275.0,193.1 275.4,195.7 275.8,196.6 276.2,196.4 276.6,197.8 277.0,197.6 277.4,196.7 277.8,195.5 278.2,199.3 278.6,200.2 279.0,204.0 279.4,202.6 279.8,198.5 280.2,204.7 280.6,202.7 281.0,204.3 281.4,204.7 281.8,200.3 282.2,206.0 282.6,204.9 283.0,207.4 283.4,209.5 283.8,205.7 284.2,202.1 284.6,198.0 285.0,205.7 285.4,211.0 285.8,214.6 286.2,211.5 286.6,210.6 287.0,210.6 287.4,214.7 287.8,211.8 288.2,209.5 288.6,217.1 289.0,214.4 289.4,215.1 289.8,218.1 290.2,219.7 290.6,220.7 291.0,218.6 291.4,217.9 291.8,221.7 292.2,220.8 292.6,220.3 293.0,221.6 293.4,223.4 293.8,222.5 294.2,224.4 294.6,226.4 295.0,224.6 295.4,224.7 295.8,224.1 296.2,222.1 296.6,228.9 297.0,227.4 297.4,229.4 297.8,227.8 298.2,227.4 298.6,228.6 299.0,230.7 299.4,230.0 299.8,230.1 300.2,231.7 300.6,230.7 301.0,231.8 301.4,231.6 301.8,235.3 302.2,231.9 302.6,228.7 303.0,234.3 303.4,234.0 303.8,234.6 304.2,235.7 304.6,234.7 305.0,236.2 305.4,238.3 305.8,236.1 306.2,235.4 306.6,233.3 307.0,235.0 307.4,237.3 307.8,236.1 308.2,235.8 308.6,235.4 309.0,237.5 309.4,237.3 309.8,237.3 310.2,238.7 310.6,237.6 311.0,239.9 311.4,237.8 311.8,238.3 312.2,237.2 312.6,238.8 313.0,238.6 313.4,238.7 313.8,238.8 314.2,239.5 314.6,239.3 315.0,239.5 315.4,239.1 315.8,239.4 316.2,239.9 316.6,238.7 317.0,239.2 317.4,241.2 317.8,239.7 318.2,239.5 318.6,240.2 319.0,240.0 319.4,241.1 319.8,240.9 320.2,241.2 320.6,240.7 321.0,241.0 321.4,240.8 321.8,241.1 322.2,241.7 322.6,242.3 323.0,242.3 323.4,241.5 323.8,242.5 324.2,242.2 324.6,243.0 325.0,242.2 325.4,242.5 325.8,243.3 326.2,243.4 326.6,243.3 327.0,244.0 327.4,243.7 327.8,243.7 328.2,244.1 328.6,244.5 329.0,244.6 329.4,244.1 329.8,243.8 330.2,244.8 330.6,244.8 331.0,244.4 331.4,245.5 331.8,244.6 332.2,245.0 332.6,245.5 333.0,246.0 333.4,244.4 333.8,245.9 334.2,245.8 334.6,245.0 335.0,246.0 335.4,244.2 335.8,245.7 336.2,246.0 336.6,246.2 337.0,246.4 337.4,246.4 337.8,246.7 338.2,246.6 338.6,247.1 339.0,246.8 339.4,246.5 339.8,247.0 340.2,246.6 340.6,246.9 341.0,247.0 341.4,246.6 341.8,247.5 342.2,248.0 342.6,247.0 343.0,248.5 343.4,247.6 343.8,247.7 344.2,248.2 344.6,248.2 345.0,248.7 345.4,248.1 345.8,248.9 346.2,248.3 346.6,248.7 347.0,247.9 347.4,249.2 347.8,248.7 348.2,249.1 348.6,249.1 349.0,249.1 349.4,249.3 349.8,248.8 350.2,249.3 350.6,249.0 351.0,249.4 351.4,249.7 351.8,249.5 352.2,249.7 352.6,250.4 353.0,250.0 353.4,250.2 353.8,250.5 354.2,250.1 354.6,249.7 355.0,250.4 355.4,250.4 355.8,250.4 356.2,250.1 356.6,250.8 357.0,251.0 357.4,250.7 357.8,250.7 358.2,250.6 358.6,251.3 359.0,251.2 359.4,251.1 359.8,250.9 360.2,251.8 360.6,251.5 361.0,251.5 361.4,251.5 361.8,251.6 362.2,251.5 362.6,251.7 363.0,252.5 363.4,251.7 363.8,252.2 364.2,252.3 364.6,252.3 365.0,252.9 365.4,252.9 365.8,252.8 366.2,252.7 366.6,252.6 367.0,252.8 367.4,253.0 367.8,252.9 368.2,252.5 368.6,251.3 369.0,252.4 369.4,253.2 369.8,253.3 370.2,253.3 370.6,253.6 371.0,253.8 371.4,253.0 371.8,253.7 372.2,253.4 372.6,254.0 373.0,253.9 373.4,254.1 373.8,253.5 374.2,252.9 374.6,253.6 375.0,253.8 375.4,254.4 375.8,254.6 376.2,254.4 376.6,254.7 377.0,254.8 377.4,254.1 377.8,255.0 378.2,255.3 378.6,254.8 379.0,255.1 379.4,254.9 379.8,255.0 380.2,254.6 380.6,254.5 381.0,254.6 381.4,255.5 381.8,255.6 382.2,255.6 382.6,255.5 383.0,255.1 383.4,255.5 383.8,255.8 384.2,255.2 384.6,255.7 385.0,256.5 385.4,256.2 385.8,256.5 386.2,255.8 386.6,256.3 387.0,255.3 387.4,256.2 387.8,256.4 388.2,255.9 388.6,256.0 389.0,256.7 389.4,256.9 389.8,257.3 390.2,256.6 390.6,257.9 391.0,257.2 391.4,257.6 391.8,257.2 392.2,257.6 392.6,257.4 393.0,258.3 393.4,257.7 393.8,257.0 394.2,256.7 394.6,258.6 395.0,257.9 395.4,258.1 395.8,258.4 396.2,258.9 396.6,258.3 397.0,258.3 397.4,258.7 397.8,258.3 398.2,258.6 398.6,259.1 399.0,259.0 399.4,259.3 399.8,258.0 400.2,258.5 400.6,259.4 401.0,259.6 401.4,259.2 401.8,259.3 402.2,259.9 402.6,259.5 403.0,259.1 403.4,259.2 403.8,260.3 404.2,260.2 404.6,259.4 405.0,259.4 405.4,260.5 405.8,260.2 406.2,260.0 406.6,260.1 407.0,260.5 407.4,260.5 407.8,260.3 408.2,260.6 408.6,261.3 409.0,260.6 409.4,261.2 409.8,260.9 410.2,260.8 410.6,261.3 411.0,261.6 411.4,261.3 411.8,260.8 412.2,262.0 412.6,261.5 413.0,261.2 413.4,261.3 413.8,261.2 414.2,261.8 414.6,261.2 415.0,261.7 415.4,262.1 415.8,261.8 416.2,262.1 416.6,262.4 417.0,261.7 417.4,262.4 417.8,262.7 418.2,262.6 418.6,262.8 419.0,262.5 419.4,262.9 419.8,262.6 420.2,262.4 420.6,262.5 421.0,261.6 421.4,263.2 421.8,263.1 422.2,262.8 422.6,262.9 423.0,263.2 423.4,263.1 423.8,263.3 424.2,263.0 424.6,263.1 425.0,263.6 425.4,263.4 425.8,263.3 426.2,263.8 426.6,264.0 427.0,264.0 427.4,264.0 427.8,263.8 428.2,263.6 428.6,264.3 429.0,264.5 429.4,264.3 429.8,264.2 430.2,264.6 430.6,264.8 431.0,264.9 431.4,265.2 431.8,264.6 432.2,263.4 432.6,264.9 433.0,265.1 433.4,265.4 433.8,265.4 434.2,265.1 434.6,265.6 435.0,265.5 435.4,266.0 435.8,265.9 436.2,265.8 436.6,266.0 437.0,266.0 437.4,266.6 437.8,266.0 438.2,266.6 438.6,266.4 439.0,266.4 439.4,266.1 439.8,266.8 440.2,267.3 440.6,267.9 441.0,267.7 441.0,268.7 440.6,268.2 440.2,267.8 439.8,267.9 439.4,268.0 439.0,267.1 438.6,267.0 438.2,267.3 437.8,267.8 437.4,266.9 437.0,266.6 436.6,266.6 436.2,267.4 435.8,266.6 435.4,267.2 435.0,267.5 434.6,266.7 434.2,267.7 433.8,266.8 433.4,267.6 433.0,266.8 432.6,267.3 432.2,266.6 431.8,266.7 431.4,268.8 431.0,267.4 430.6,268.6 430.2,267.3 429.8,266.7 429.4,268.1 429.0,266.1 428.6,266.7 428.2,266.4 427.8,266.4 427.4,266.0 427.0,266.0 426.6,265.6 426.2,264.9 425.8,266.5 425.4,266.5 425.0,267.4 424.6,265.8 424.2,265.9 423.8,266.0 423.4,266.0 423.0,265.4 422.6,266.3 422.2,265.0 421.8,265.0 421.4,265.7 421.0,265.2 420.6,264.8 420.2,264.5 419.8,264.9 419.4,264.9 419.0,265.0 418.6,264.8 418.2,264.1 417.8,264.3 417.4,264.5 417.0,264.7 416.6,265.0 416.2,264.7 415.8,264.1 415.4,264.9 415.0,264.5 414.6,264.3 414.2,263.8 413.8,263.6 413.4,264.0 413.0,263.9 412.6,263.7 412.2,264.1 411.8,263.5 411.4,263.7 411.0,262.6 410.6,263.7 410.2,262.6 409.8,263.7 409.4,262.3 409.0,263.0 408.6,262.6 408.2,262.4 407.8,262.0 407.4,264.3 407.0,262.9 406.6,262.3 406.2,262.2 405.8,262.8 405.4,262.4 405.0,261.6 404.6,262.6 404.2,261.7 403.8,262.5 403.4,262.4 403.0,262.2 402.6,262.0 402.2,262.0 401.8,263.0 401.4,262.2 401.0,261.4 400.6,261.9 400.2,261.9 399.8,263.5 399.4,261.5 399.0,261.2 398.6,261.8 398.2,261.2 397.8,261.1 397.4,260.9 397.0,260.4 396.6,260.5 396.2,261.2 395.8,260.5 395.4,259.7 395.0,260.0 394.6,261.2 394.2,261.1 393.8,260.4 393.4,260.3 393.0,260.4 392.6,259.6 392.2,260.4 391.8,259.9 391.4,260.5 391.0,259.3 390.6,259.5 390.2,259.3 389.8,259.5 389.4,259.2 389.0,258.9 388.6,260.0 388.2,259.7 387.8,259.3 387.4,258.8 387.0,260.7 386.6,260.7 386.2,259.6 385.8,258.5 385.4,259.1 385.0,258.9 384.6,258.9 384.2,257.9 383.8,258.8 383.4,258.3 383.0,258.1 382.6,257.7 382.2,258.8 381.8,258.5 381.4,258.2 381.0,257.9 380.6,258.2 380.2,258.2 379.8,257.4 379.4,257.0 379.0,257.4 378.6,257.9 378.2,257.1 377.8,258.4 377.4,257.2 377.0,258.3 376.6,257.5 376.2,257.0 375.8,258.8 375.4,256.8 375.0,257.3 374.6,256.9 374.2,257.1 373.8,256.2 373.4,256.2 373.0,255.8 372.6,255.8 372.2,256.0 371.8,255.4 371.4,255.9 371.0,255.8 370.6,255.9 370.2,257.3 369.8,256.0 369.4,255.2 369.0,255.1 368.6,256.9 368.2,254.9 367.8,255.4 367.4,255.9 367.0,255.6 366.6,254.9 366.2,255.7 365.8,256.2 365.4,254.6 365.0,254.9 364.6,255.4 364.2,254.4 363.8,254.5 363.4,254.9 363.0,254.5 362.6,253.4 362.2,255.3 361.8,254.9 361.4,254.3 361.0,254.6 360.6,253.5 360.2,253.7 359.8,255.6 359.4,253.6 359.0,252.9 358.6,253.2 358.2,253.1 357.8,253.5 357.4,253.3 357.0,253.5 356.6,253.2 356.2,254.4 355.8,253.7 355.4,253.7 355.0,252.8 354.6,253.8 354.2,253.5 353.8,253.0 353.4,252.1 353.0,252.5 352.6,252.7 352.2,252.4 351.8,252.1 351.4,252.3 351.0,251.4 350.6,252.7 350.2,253.9 349.8,252.5 349.4,253.6 349.0,252.6 348.6,253.4 348.2,251.8 347.8,251.2 347.4,251.1 347.0,250.9 346.6,251.6 346.2,251.1 345.8,251.1 345.4,251.0 345.0,252.2 344.6,251.0 344.2,250.7 343.8,253.0 343.4,251.1 343.0,250.7 342.6,250.9 342.2,251.4 341.8,250.9 341.4,251.1 341.0,249.5 340.6,249.5 340.2,249.4 339.8,249.7 339.4,249.2 339.0,249.6 338.6,248.3 338.2,249.0 337.8,249.0 337.4,250.5 337.0,248.7 336.6,249.7 336.2,249.2 335.8,249.7 335.4,249.2 335.0,248.2 334.6,248.5 334.2,248.1 333.8,247.9 333.4,248.4 333.0,248.3 332.6,247.9 332.2,248.0 331.8,247.6 331.4,248.4 331.0,247.2 330.6,248.2 330.2,247.6 329.8,247.4 329.4,248.5 329.0,246.4 328.6,246.4 328.2,247.3 327.8,246.9 327.4,247.4 327.0,246.7 326.6,247.4 326.2,246.2 325.8,246.8 325.4,245.7 325.0,247.1 324.6,245.3 324.2,245.4 323.8,245.4 323.4,245.9 323.0,245.5 322.6,245.2 322.2,246.2 321.8,243.8 321.4,245.0 321.0,244.9 320.6,244.9 320.2,245.7 319.8,244.4 319.4,244.3 319.0,244.1 318.6,243.6 318.2,244.1 317.8,243.4 317.4,243.9 317.0,243.6 316.6,243.8 316.2,242.9 315.8,243.5 315.4,243.3 315.0,243.4 314.6,243.3 314.2,243.1 313.8,242.6 313.4,241.7 313.0,242.9 312.6,241.6 312.2,241.5 311.8,242.9 311.4,241.5 311.0,241.1 310.6,241.6 310.2,241.6 309.8,242.0 309.4,242.0 309.0,240.4 308.6,241.3 308.2,240.2 307.8,241.8 307.4,240.6 307.0,241.2 306.6,240.8 306.2,239.9 305.8,239.5 305.4,240.3 305.0,240.2 304.6,240.3 304.2,239.6 303.8,239.7 303.4,238.8 303.0,238.9 302.6,238.6 302.2,239.0 301.8,240.2 301.4,238.8 301.0,239.1 300.6,237.6 300.2,237.3 299.8,238.1 299.4,238.1 299.0,238.0 298.6,237.5 298.2,237.5 297.8,236.7 297.4,236.9 297.0,236.7 296.6,237.8 296.2,237.1 295.8,234.9 295.4,236.0 295.0,236.9 294.6,236.1 294.2,235.7 293.8,235.5 293.4,235.2 293.0,235.3 292.6,234.9 292.2,234.8 291.8,234.6 291.4,232.8 291.0,233.6 290.6,233.9 290.2,233.9 289.8,233.6 289.4,234.9 289.0,232.9 288.6,231.9 288.2,232.9 287.8,232.1 287.4,232.1 287.0,232.0 286.6,231.8 286.2,232.1 285.8,230.9 285.4,230.9 285.0,230.7 284.6,229.8 284.2,231.0 283.8,229.2 283.4,229.0 283.0,228.4 282.6,228.8 282.2,228.5 281.8,229.0 281.4,228.5 281.0,228.1 280.6,228.4 280.2,227.3 279.8,228.2 279.4,226.6 279.0,227.6 278.6,227.4 278.2,225.6 277.8,225.8 277.4,226.3 277.0,225.6 276.6,227.0 276.2,225.8 275.8,224.5 275.4,225.1 275.0,224.9 274.6,224.0 274.2,224.2 273.8,224.1 273.4,224.1 273.0,224.4 272.6,223.0 272.2,222.5 271.8,222.0 271.4,222.6 271.0,221.8 270.6,223.1 270.2,221.3 269.8,221.0 269.4,221.3 269.0,223.0 268.6,220.3 268.2,219.4 267.8,219.4 267.4,220.5 267.0,219.7 266.6,218.8 266.2,218.4 265.8,217.7 265.4,217.8 265.0,217.3 264.6,216.9 264.2,217.3 263.8,217.4 263.4,217.4 263.0,216.0 262.6,216.0 262.2,215.6 261.8,215.7 261.4,214.8 261.0,215.3 260.6,214.7 260.2,214.9 259.8,215.1 259.4,214.2 259.0,214.0 258.6,214.3 258.2,213.3 257.8,212.8 257.4,212.8 257.0,213.1 256.6,212.5 256.2,212.6 255.8,211.7 255.4,212.1 255.0,210.7 254.6,211.2 254.2,211.0 253.8,211.3 253.4,210.2 253.0,210.9 252.6,211.4 252.2,209.3 251.8,208.3 251.4,209.3 251.0,208.3 250.6,206.3 250.2,207.6 249.8,206.1 249.4,206.5 249.0,206.0 248.6,204.7 248.2,205.0 247.8,203.6 247.4,203.3 247.0,202.9 246.6,201.4 246.2,200.4 245.8,199.5 245.4,199.0 245.0,199.9 244.6,200.8 244.2,202.2 243.8,203.7 243.4,204.1 243.0,204.1 242.6,204.4 242.2,204.7 241.8,206.1 241.4,205.5 241.0,207.0 240.6,207.3 240.2,206.5 239.8,206.7 239.4,206.9 239.0,208.0 238.6,209.9 238.2,209.0 237.8,208.2 237.4,208.8 237.0,209.8 236.6,209.4 236.2,209.2 235.8,210.8 235.4,211.0 235.0,210.8 234.6,211.7 234.2,211.1 233.8,211.2 233.4,211.7 233.0,212.0 232.6,212.4 232.2,212.8 231.8,213.1 231.4,212.3 231.0,212.9 230.6,213.2 230.2,213.0 229.8,213.0 229.4,214.2 229.0,213.7 228.6,213.9 228.2,214.7 227.8,214.6 227.4,214.4 227.0,214.8 226.6,215.0 226.2,215.5 225.8,214.8 225.4,214.8 225.0,215.1 224.6,216.3 224.2,215.6 223.8,218.2 223.4,216.5 223.0,217.6 222.6,217.3 222.2,217.1 221.8,217.4 221.4,218.5 221.0,218.2 220.6,219.3 220.2,220.6 219.8,220.5 219.4,219.3 219.0,219.5 218.6,219.8 218.2,221.0 217.8,221.5 217.4,221.1 217.0,221.1 216.6,222.3 216.2,221.9 215.8,223.2 215.4,222.9 215.0,222.5 214.6,223.1 214.2,224.8 213.8,224.7 213.4,224.1 213.0,224.2 212.6,225.3 212.2,224.8 211.8,226.0 211.4,226.2 211.0,226.4 210.6,226.6 210.2,226.6 209.8,227.5 209.4,226.7 209.0,227.0 208.6,227.1 208.2,228.4 207.8,229.5 207.4,228.8 207.0,228.9 206.6,229.6 206.2,230.3 205.8,230.3 205.4,231.1 205.0,231.3 204.6,230.9 204.2,232.8 203.8,232.2 203.4,232.7 203.0,234.6 202.6,232.5 202.2,233.0 201.8,233.2 201.4,233.9 201.0,234.2 200.6,234.1 200.2,235.3 199.8,233.9 199.4,236.2 199.0,235.8 198.6,237.4 198.2,236.1 197.8,237.0 197.4,236.6 197.0,239.5 196.6,237.9 196.2,237.7 195.8,237.7 195.4,238.7 195.0,238.9 194.6,238.7 194.2,238.8 193.8,239.5 193.4,240.1 193.0,239.8 192.6,240.7 192.2,240.6 191.8,240.4 191.4,241.6 191.0,241.4 190.6,241.5 190.2,242.4 189.8,242.0 189.4,243.3 189.0,243.4 188.6,243.5 188.2,245.3 187.8,245.0 187.4,244.8 187.0,244.9 186.6,245.4 186.2,245.5 185.8,246.3 185.4,247.4 185.0,246.5 184.6,246.4 184.2,247.5 183.8,246.6 183.4,247.5 183.0,247.8 182.6,248.7 182.2,249.4 181.8,248.7 181.4,249.1 181.0,249.3 180.6,249.0 180.2,249.3 179.8,250.5 179.4,249.9 179.0,250.3 178.6,251.1 178.2,251.3 177.8,251.9 177.4,251.8 177.0,252.6 176.6,252.0 176.2,253.1 175.8,253.2 175.4,253.0 175.0,253.9 174.6,254.2 174.2,254.4 173.8,254.5 173.4,254.4 173.0,255.6 172.6,255.9 172.2,254.9 171.8,256.4 171.4,257.2 171.0,256.8 170.6,256.9 170.2,257.0 169.8,256.8 169.4,257.8 169.0,258.0 168.6,258.4 168.2,258.8 167.8,258.5 167.4,260.7 167.0,259.8 166.6,260.3 166.2,260.0 165.8,260.7 165.4,260.7 165.0,261.1 164.6,260.3 164.2,262.0 163.8,261.9 163.4,262.5 163.0,262.4 162.6,262.2 162.2,264.8 161.8,263.9 161.4,264.4 161.0,264.0 160.6,263.5 160.2,265.3 159.8,263.8 159.4,264.5 159.0,264.9 158.6,266.0 158.2,266.4 157.8,266.0 157.4,265.5 157.0,266.3 156.6,265.6 156.2,266.1 155.8,267.7 155.4,266.5 155.0,266.7 154.6,266.1 154.2,267.1 153.8,265.8 153.4,266.9 153.0,267.7 152.6,269.3 152.2,266.6 151.8,267.1 151.4,268.1 151.0,267.4 150.6,267.6 150.2,267.7 149.8,267.4 149.4,269.3 149.0,268.0 148.6,266.3 148.2,267.3 147.8,268.2 147.4,267.2 147.0,267.8 146.6,267.9 146.2,267.3 145.8,267.4 145.4,268.2 145.0,267.3 144.6,267.7 144.2,267.7 143.8,267.2 143.4,268.0 143.0,268.5" fill="#d2120d"/>
<path d="M254.85 210.68 L255.3 221.68 L255.75 210.68z M271.05 221.27 L271.5 227.27 L271.95 221.27z M224.55 214.8 L225 218.8 L225.45 214.8z M261.55 214.7 L262 218.7 L262.45 214.7z M279.55 226.5 L280 230.5 L280.45 226.5z" fill="#d2120d"/>
<path d="M245.0 150 L245.6 150 L245.8 199 L244.9 199z" fill="#5a84b8"/>
<path d="M243.9 200 L245.5 189 L247 200 z" fill="#2b77cc"/>
</g>
<path d="M173 146.3 V252.5 M183 146.3 V248" stroke="#111" stroke-width="0.9" stroke-dasharray="1.3 3.3" fill="none"/>
<path d="M160 155.3 H169.5 M194.7 155.3 H187" stroke="#111" stroke-width="0.5" fill="none"/>
<path d="M171.6 155.3 l-3 -1.3 v2.6z M185 155.3 l3 -1.3 v2.6z" fill="#111"/>
<rect x="19" y="130.5" width="90.8" height="62" fill="#fff"/>
<rect x="32.2" y="136.3" width="70.6" height="43.7" fill="#fff" stroke="#c4c4c4" stroke-width="0.5"/>
<rect x="33" y="144.5" width="69.4" height="33" fill="#cfe1f7" opacity="0.85"/>
<path d="M33.2 145.28h1.3V177.5h-1.3z M35.35 145.29h1.3V177.5h-1.3z M37.5 144.35h1.3V177.5h-1.3z M39.65 143.61h1.3V177.5h-1.3z M41.8 142.87h1.3V177.5h-1.3z M43.95 143.93h1.3V177.5h-1.3z M46.1 144.01h1.3V177.5h-1.3z M48.25 142.84h1.3V177.5h-1.3z M50.4 142.86h1.3V177.5h-1.3z M52.55 145.9h1.3V177.5h-1.3z M54.7 144.79h1.3V177.5h-1.3z M56.85 143.45h1.3V177.5h-1.3z M59 144.09h1.3V177.5h-1.3z M61.15 145.82h1.3V177.5h-1.3z M63.3 145.57h1.3V177.5h-1.3z M65.44 145.4h1.3V177.5h-1.3z M67.59 143.96h1.3V177.5h-1.3z M69.75 144.28h1.3V177.5h-1.3z M71.89 144.87h1.3V177.5h-1.3z M74.04 142.89h1.3V177.5h-1.3z M76.19 144.48h1.3V177.5h-1.3z M78.34 143.57h1.3V177.5h-1.3z M80.5 145.51h1.3V177.5h-1.3z M82.64 142.91h1.3V177.5h-1.3z M84.79 144.87h1.3V177.5h-1.3z M86.94 145.48h1.3V177.5h-1.3z M89.09 143.43h1.3V177.5h-1.3z M91.25 145.57h1.3V177.5h-1.3z M93.39 145.49h1.3V177.5h-1.3z M95.54 142.76h1.3V177.5h-1.3z M97.69 144.96h1.3V177.5h-1.3z M99.84 142.7h1.3V177.5h-1.3z" fill="#7fb0e8" opacity="0.6"/>
<path d="M33.55 144.08h0.6V177.5h-0.6z M35.7 144.09h0.6V177.5h-0.6z M37.85 143.15h0.6V177.5h-0.6z M40 142.41h0.6V177.5h-0.6z M42.15 141.67h0.6V177.5h-0.6z M44.3 142.73h0.6V177.5h-0.6z M46.45 142.81h0.6V177.5h-0.6z M48.6 141.64h0.6V177.5h-0.6z M50.75 141.66h0.6V177.5h-0.6z M52.9 144.7h0.6V177.5h-0.6z M55.05 143.59h0.6V177.5h-0.6z M57.2 142.25h0.6V177.5h-0.6z M59.35 142.89h0.6V177.5h-0.6z M61.5 144.62h0.6V177.5h-0.6z M63.65 144.37h0.6V177.5h-0.6z M65.8 144.2h0.6V177.5h-0.6z M67.95 142.76h0.6V177.5h-0.6z M70.1 143.08h0.6V177.5h-0.6z M72.25 143.67h0.6V177.5h-0.6z M74.39 141.69h0.6V177.5h-0.6z M76.55 143.28h0.6V177.5h-0.6z M78.7 142.37h0.6V177.5h-0.6z M80.85 144.31h0.6V177.5h-0.6z M83 141.71h0.6V177.5h-0.6z M85.14 143.67h0.6V177.5h-0.6z M87.3 144.28h0.6V177.5h-0.6z M89.45 142.23h0.6V177.5h-0.6z M91.6 144.37h0.6V177.5h-0.6z M93.75 144.29h0.6V177.5h-0.6z M95.89 141.56h0.6V177.5h-0.6z M98.05 143.76h0.6V177.5h-0.6z M100.2 141.5h0.6V177.5h-0.6z" fill="#3a80d4"/>
<polyline points="33,178.2 33.5,178.46 34,178.21 34.5,177.84 35,177.96 35.5,178.33 36,178.24 36.5,177.79 37,177.73 37.5,178.14 38,178.25 38.5,177.8 39,177.54 39.5,177.89 40,178.21 40.5,177.86 41,177.41 41.5,177.62 42,178.08 42.5,177.93 43,177.37 43.5,177.35 44,177.88 44.5,177.97 45,177.4 45.5,177.13 46,177.6 46.5,177.95 47,177.49 47.5,176.98 48,177.29 48.5,177.84 49,177.6 49.5,176.94 50,176.98 50.5,177.62 51,177.68 51.5,176.99 52,176.72 52.5,177.33 53,177.69 53.5,177.11 54,176.55 54.5,176.98 55,177.59 55.5,177.25 56,176.5 56.5,176.63 57,177.38 57.5,177.38 58,176.56 58.5,176.33 59,177.06 59.5,177.42 60,176.71 60.5,176.13 61,176.68 61.5,177.34 62,176.89 62.5,176.08 63,176.3 63.5,177.12 64,177.04 64.5,176.14 65,175.98 65.5,176.79 66,177.1 66.5,176.3 67,175.77 67.5,176.4 68,177.04 68.5,176.5 69,175.69 69.5,176 70,176.84 70.5,176.67 71,175.74 71.5,175.65 72,176.52 72.5,176.77 73,175.9 73.5,175.4 74,176.12 74.5,176.74 75,176.1 75.5,175.3 76,175.7 76.5,176.56 77,176.3 77.5,175.33 78,175.33 78.5,176.26 79,176.43 79.5,175.48 80,175.05 80.5,175.85 81,176.43 81.5,175.7 82,174.91 82.5,175.42 83,176.28 83.5,175.92 84,174.93 84.5,175.01 85,175.99 85.5,176.08 86,175.07 86.5,174.7 87,175.59 87.5,176.11 88,175.3 88.5,174.53 89,175.14 89.5,176 90,175.54 90.5,174.52 91,174.71 91.5,175.72 92,175.72 92.5,174.65 93,174.36 93.5,175.33 94,175.79 94.5,174.88 95,174.16 95.5,174.87 96,175.71 96.5,175.14 97,174.12 97.5,174.41 98,175.46 98.5,175.36 99,174.24 99.5,174.03 100,175.07 100.5,175.46 101,174.46 101.5,173.79 102,174.6" fill="none" stroke="#d2303a" stroke-width="0.9"/>
<path d="M32.2 178 h1.2 M67.5 180 v-1.2 M102.8 180 v-1.2" stroke="#999" stroke-width="0.4"/>
<text x="31.5" y="187.1" font-size="5.8" fill="#161616" text-anchor="middle">186</text>
<text x="102" y="187.1" font-size="5.8" fill="#161616" text-anchor="middle">187</text>
<text x="67.5" y="187.1" font-size="5.7" fill="#161616" text-anchor="middle">Frequency (THz)</text>
<text x="29" y="158.3" font-size="5.6" fill="#161616" text-anchor="middle" transform="rotate(-90 29 158.3)">Power (20 dB/div)</text>
<path d="M18.5 267.4 V130.0 H588.5 V267.4" fill="none" stroke="#b4b4b4" stroke-width="0.7"/>
<path d="M36.6 130.0 v5.5 M133.5 130.0 v5.5 M242 130.0 v5.5 M365.3 130.0 v5.5 M509.8 130.0 v5.5 M18.5 132.9 h6.2 M18.5 197.2 h6.2" stroke="#7a7a7a" stroke-width="0.6" fill="none"/>
<path d="M82.5 260.5 V267" stroke="#8fb6e6" stroke-width="0.6" fill="none"/>
<rect x="18.8" y="266.6" width="570" height="0.9" fill="#085cbf" opacity="0.0"/>
<text x="38" y="125.7" font-size="7" fill="#161616" text-anchor="middle">1,750</text>
<text x="135" y="125.7" font-size="7" fill="#161616" text-anchor="middle">1,650</text>
<text x="243.5" y="125.7" font-size="7" fill="#161616" text-anchor="middle">1,550</text>
<text x="367.5" y="125.7" font-size="7" fill="#161616" text-anchor="middle">1,450</text>
<text x="510" y="125.7" font-size="7" fill="#161616" text-anchor="middle">1,350</text>
<text x="308.3" y="125.7" font-size="6.8" fill="#161616" text-anchor="middle">Wavelength (nm)</text>
<text x="23.3" y="276.5" font-size="7" fill="#161616" text-anchor="middle">170</text>
<text x="116" y="276.5" font-size="7" fill="#161616" text-anchor="middle">180</text>
<text x="209.5" y="276.5" font-size="7" fill="#161616" text-anchor="middle">190</text>
<text x="302.5" y="276.5" font-size="7" fill="#161616" text-anchor="middle">200</text>
<text x="395" y="276.5" font-size="7" fill="#161616" text-anchor="middle">210</text>
<text x="488" y="276.5" font-size="7" fill="#161616" text-anchor="middle">220</text>
<text x="581" y="276.5" font-size="7" fill="#161616" text-anchor="middle">230</text>
<text x="303.9" y="286.6" font-size="6.75" fill="#161616" text-anchor="middle">Frequency (THz)</text>
<text x="11.8" y="198.5" font-size="7" fill="#161616" text-anchor="middle" transform="rotate(-90 11.8 198.5)">Optical power (20 dB/div)</text>
<text x="129.5" y="262.3" font-size="6.6" fill="#b8c4d8" text-anchor="middle">U band</text>
<text x="186.5" y="262.3" font-size="6.6" fill="#2a2a2a" text-anchor="middle">L band</text>
<text x="244.3" y="262.3" font-size="6.6" fill="#2a2a2a" text-anchor="middle">C band</text>
<text x="308.1" y="261" font-size="6.6" fill="#2a2a2a" text-anchor="middle">S band</text>
<text x="365.5" y="263" font-size="6.6" fill="#2a2a2a" text-anchor="middle">E band</text>
<path d="M424.7 183.7 H443.7" stroke="#d2121a" stroke-width="1.7"/>
<path d="M516.2 183.7 H535" stroke="#1f78cc" stroke-width="1.7"/>
<text x="448.3" y="186.3" font-size="7" fill="#161616" text-anchor="start">Non-resonant RF</text>
<text x="539.7" y="186.3" font-size="7" fill="#161616" text-anchor="start">Resonant RF</text>
<rect x="425.8" y="140.1" width="37.9" height="3.2" rx="1.6" fill="#f5cf60"/>
<rect x="425.8" y="146.4" width="37.9" height="3.2" rx="1.6" fill="#f5cf60"/>
<rect x="425.8" y="158.9" width="37.9" height="3.2" rx="1.6" fill="#f5cf60"/>
<rect x="425.8" y="165.2" width="37.9" height="3.2" rx="1.6" fill="#f5cf60"/>
<rect x="441.6" y="134.6" width="5.4" height="38.4" rx="2.5" fill="#f5cf60"/>
<rect x="414.3" y="144.3" width="59.4" height="19.4" rx="9.7" fill="none" stroke="#2579cc" stroke-width="1.05"/>
<rect x="522" y="134.7" width="42.2" height="35.6" fill="#f5cf60"/>
<path d="M524.4 144.6h3.2v0.8h-1.2v1.9h-0.8v-1.9h-1.2z M524.4 158.0h3.2v0.8h-1.2v1.9h-0.8v-1.9h-1.2z M528.95 144.6h3.2v0.8h-1.2v1.9h-0.8v-1.9h-1.2z M528.95 158.0h3.2v0.8h-1.2v1.9h-0.8v-1.9h-1.2z M533.5 144.6h3.2v0.8h-1.2v1.9h-0.8v-1.9h-1.2z M533.5 158.0h3.2v0.8h-1.2v1.9h-0.8v-1.9h-1.2z M538.05 144.6h3.2v0.8h-1.2v1.9h-0.8v-1.9h-1.2z M538.05 158.0h3.2v0.8h-1.2v1.9h-0.8v-1.9h-1.2z M542.6 144.6h3.2v0.8h-1.2v1.9h-0.8v-1.9h-1.2z M542.6 158.0h3.2v0.8h-1.2v1.9h-0.8v-1.9h-1.2z M547.15 144.6h3.2v0.8h-1.2v1.9h-0.8v-1.9h-1.2z M547.15 158.0h3.2v0.8h-1.2v1.9h-0.8v-1.9h-1.2z M551.7 144.6h3.2v0.8h-1.2v1.9h-0.8v-1.9h-1.2z M551.7 158.0h3.2v0.8h-1.2v1.9h-0.8v-1.9h-1.2z M556.25 144.6h3.2v0.8h-1.2v1.9h-0.8v-1.9h-1.2z M556.25 158.0h3.2v0.8h-1.2v1.9h-0.8v-1.9h-1.2z" fill="#f4ecd6"/>
<path d="M523.4 139 V150.3 M523.4 156.8 V166.4 M563 139 V150.3 M563 156.8 V166.4" stroke="#c9c6b6" stroke-width="1.1" fill="none"/>
<rect x="511.4" y="143.1" width="59.8" height="19.4" rx="9.7" fill="none" stroke="#2579cc" stroke-width="1.05"/>
</g>
<g id="slope">
<defs><clipPath id="cpSl"><rect x="43.3" y="296.3" width="158.39999999999998" height="94.89999999999998"/></clipPath></defs>
<rect x="50.8" y="296.3" width="142.5" height="94.89999999999998" fill="#fddfb8"/>
<g clip-path="url(#cpSl)">
<g fill="#559cf8"><circle cx="48.8" cy="363.05" r="1.5"/><circle cx="51.15" cy="345.9" r="1.5"/><circle cx="53.5" cy="337.16" r="1.5"/><circle cx="55.85" cy="331.22" r="1.5"/><circle cx="58.2" cy="327.95" r="1.5"/><circle cx="60.55" cy="324.67" r="1.5"/><circle cx="62.9" cy="323.47" r="1.5"/><circle cx="65.25" cy="322.97" r="1.5"/><circle cx="67.6" cy="319.99" r="1.5"/><circle cx="69.95" cy="318.82" r="1.5"/><circle cx="72.3" cy="318.95" r="1.5"/><circle cx="74.65" cy="318.15" r="1.5"/><circle cx="77" cy="317.38" r="1.5"/><circle cx="79.35" cy="315.99" r="1.5"/><circle cx="81.7" cy="316.39" r="1.5"/><circle cx="84.05" cy="316.68" r="1.5"/><circle cx="86.4" cy="314.5" r="1.5"/><circle cx="88.75" cy="314.97" r="1.5"/><circle cx="91.1" cy="313.38" r="1.5"/><circle cx="93.45" cy="313.65" r="1.5"/><circle cx="95.8" cy="312.89" r="1.5"/><circle cx="98.15" cy="314.08" r="1.5"/><circle cx="100.5" cy="312.87" r="1.5"/><circle cx="102.85" cy="313.96" r="1.5"/><circle cx="105.2" cy="313.58" r="1.5"/><circle cx="107.55" cy="313.06" r="1.5"/><circle cx="109.9" cy="310.83" r="1.5"/><circle cx="112.25" cy="312.52" r="1.5"/><circle cx="114.6" cy="312.88" r="1.5"/><circle cx="116.95" cy="312.97" r="1.5"/><circle cx="119.3" cy="311.44" r="1.5"/><circle cx="121.65" cy="312.37" r="1.5"/><circle cx="124" cy="311.93" r="1.5"/><circle cx="126.35" cy="312.11" r="1.5"/><circle cx="128.7" cy="313.85" r="1.5"/><circle cx="131.05" cy="312.24" r="1.5"/><circle cx="133.4" cy="313.02" r="1.5"/><circle cx="135.75" cy="313.94" r="1.5"/><circle cx="138.1" cy="312.8" r="1.5"/><circle cx="140.45" cy="313.47" r="1.5"/><circle cx="142.8" cy="313.96" r="1.5"/><circle cx="145.15" cy="314.21" r="1.5"/><circle cx="147.5" cy="313.31" r="1.5"/><circle cx="149.85" cy="314.75" r="1.5"/><circle cx="152.2" cy="316.17" r="1.5"/><circle cx="154.55" cy="313.84" r="1.5"/><circle cx="156.9" cy="316.31" r="1.5"/><circle cx="159.25" cy="315.98" r="1.5"/><circle cx="161.6" cy="315.65" r="1.5"/><circle cx="163.95" cy="318.41" r="1.5"/><circle cx="166.3" cy="317.73" r="1.5"/><circle cx="168.65" cy="316.46" r="1.5"/><circle cx="171" cy="318.2" r="1.5"/><circle cx="173.35" cy="319.43" r="1.5"/><circle cx="175.7" cy="319.7" r="1.5"/><circle cx="178.05" cy="321.66" r="1.5"/><circle cx="180.4" cy="322.47" r="1.5"/><circle cx="182.75" cy="324.99" r="1.5"/><circle cx="185.1" cy="328.14" r="1.5"/><circle cx="187.45" cy="329.39" r="1.5"/><circle cx="189.8" cy="334.57" r="1.5"/><circle cx="192.15" cy="340.49" r="1.5"/><circle cx="194.5" cy="352.03" r="1.5"/><circle cx="49.7" cy="371.5" r="1.5"/><circle cx="195.4" cy="385.5" r="1.5"/></g>
<polyline points="47.15,400 47.4,393.93 47.65,386.78 47.9,379.96 48.15,373.91 48.4,369.16 48.65,365.21 48.9,361.7 49.15,358.68 49.4,356.21 49.65,354.28 49.9,352.57 50.15,350.97 50.4,349.49 50.65,348.11 50.9,346.83 51.15,345.63 51.4,344.52 51.65,343.48 51.9,342.51 52.15,341.6 52.4,340.74 52.65,339.92 52.9,339.15 53.15,338.4 53.4,337.68 53.65,336.99 53.9,336.33 54.15,335.7 54.4,335.09 54.65,334.51 54.9,333.95 55.15,333.41 55.4,332.9 55.65,332.4 55.9,331.93 56.15,331.48 56.4,331.05 56.65,330.63 56.9,330.23 57.15,329.85 57.4,329.48 57.65,329.12 57.9,328.77 58.15,328.43 58.4,328.09 58.65,327.77 58.9,327.45 59.15,327.14 59.4,326.84 59.65,326.55 59.9,326.26 60.15,325.99 60.4,325.72 60.65,325.46 60.9,325.2 61.15,324.96 61.4,324.71 61.65,324.48 61.9,324.26 62.15,324.04 62.4,323.82 62.65,323.62 62.9,323.42 63.15,323.22 63.4,323.03 63.65,322.85 63.9,322.67 64.15,322.49 64.4,322.32 64.65,322.15 64.9,321.98 65.15,321.82 65.4,321.66 65.65,321.51 65.9,321.36 66.15,321.21 66.4,321.07 66.65,320.93 66.9,320.8 67.15,320.66 67.4,320.53 67.65,320.41 67.9,320.28 68.15,320.16 68.4,320.05 68.65,319.93 68.9,319.82 69.15,319.71 69.4,319.61 69.65,319.5 69.9,319.4 70.15,319.3 70.4,319.2 70.65,319.1 70.9,319.01 71.15,318.91 71.4,318.82 71.65,318.73 71.9,318.64 72.15,318.56 72.4,318.48 72.65,318.39 72.9,318.32 73.15,318.24 73.4,318.16 73.65,318.09 73.9,318.02 74.15,317.95 74.4,317.89 74.65,317.82 74.9,317.76 75.15,317.7 75.4,317.64 75.65,317.59 75.9,317.53 76.15,317.47 76.4,317.42 76.65,317.36 76.9,317.31 77.15,317.26 77.4,317.2 77.65,317.15 77.9,317.1 78.15,317.05 78.4,317 78.65,316.96 78.9,316.91 79.15,316.86 79.4,316.82 79.65,316.77 79.9,316.73 80.15,316.68 80.4,316.64 80.65,316.59 80.9,316.55 81.15,316.51 81.4,316.47 81.65,316.43 81.9,316.39 82.15,316.35 82.4,316.31 82.65,316.27 82.9,316.23 83.15,316.19 83.4,316.15 83.65,316.11 83.9,316.07 84.15,316.04 84.4,316 84.65,315.96 84.9,315.93 85.15,315.89 85.4,315.85 85.65,315.82 85.9,315.78 86.15,315.74 86.4,315.71 86.65,315.67 86.9,315.64 87.15,315.6 87.4,315.57 87.65,315.53 87.9,315.5 88.15,315.46 88.4,315.43 88.65,315.4 88.9,315.36 89.15,315.33 89.4,315.3 89.65,315.27 89.9,315.24 90.15,315.21 90.4,315.17 90.65,315.14 90.9,315.11 91.15,315.08 91.4,315.05 91.65,315.02 91.9,314.99 92.15,314.96 92.4,314.93 92.65,314.91 92.9,314.88 93.15,314.85 93.4,314.82 93.65,314.79 93.9,314.76 94.15,314.73 94.4,314.71 94.65,314.68 94.9,314.65 95.15,314.62 95.4,314.59 95.65,314.57 95.9,314.54 96.15,314.51 96.4,314.48 96.65,314.46 96.9,314.43 97.15,314.4 97.4,314.37 97.65,314.34 97.9,314.32 98.15,314.29 98.4,314.26 98.65,314.23 98.9,314.2 99.15,314.17 99.4,314.14 99.65,314.11 99.9,314.08 100.15,314.05 100.4,314.02 100.65,313.99 100.9,313.96 101.15,313.93 101.4,313.9 101.65,313.86 101.9,313.83 102.15,313.8 102.4,313.77 102.65,313.74 102.9,313.71 103.15,313.68 103.4,313.65 103.65,313.62 103.9,313.59 104.15,313.56 104.4,313.53 104.65,313.5 104.9,313.48 105.15,313.45 105.4,313.42 105.65,313.4 105.9,313.37 106.15,313.35 106.4,313.32 106.65,313.3 106.9,313.28 107.15,313.26 107.4,313.24 107.65,313.22 107.9,313.2 108.15,313.18 108.4,313.16 108.65,313.15 108.9,313.13 109.15,313.12 109.4,313.11 109.65,313.1 109.9,313.09 110.15,313.08 110.4,313.07 110.65,313.06 110.9,313.05 111.15,313.04 111.4,313.03 111.65,313.02 111.9,313.02 112.15,313.01 112.4,313 112.65,312.99 112.9,312.98 113.15,312.97 113.4,312.96 113.65,312.96 113.9,312.95 114.15,312.94 114.4,312.93 114.65,312.92 114.9,312.92 115.15,312.91 115.4,312.9 115.65,312.9 115.9,312.89 116.15,312.88 116.4,312.88 116.65,312.87 116.9,312.87 117.15,312.86 117.4,312.85 117.65,312.85 117.9,312.84 118.15,312.84 118.4,312.84 118.65,312.83 118.9,312.83 119.15,312.82 119.4,312.82 119.65,312.82 119.9,312.81 120.15,312.81 120.4,312.81 120.65,312.81 120.9,312.8 121.15,312.8 121.4,312.8 121.65,312.8 121.9,312.8 122.15,312.8 122.4,312.8 122.65,312.8 122.9,312.8 123.15,312.8 123.4,312.8 123.65,312.8 123.9,312.81 124.15,312.81 124.4,312.81 124.65,312.81 124.9,312.82 125.15,312.82 125.4,312.82 125.65,312.83 125.9,312.83 126.15,312.84 126.4,312.84 126.65,312.85 126.9,312.85 127.15,312.86 127.4,312.86 127.65,312.87 127.9,312.87 128.15,312.88 128.4,312.88 128.65,312.89 128.9,312.9 129.15,312.9 129.4,312.91 129.65,312.92 129.9,312.93 130.15,312.93 130.4,312.94 130.65,312.95 130.9,312.96 131.15,312.97 131.4,312.97 131.65,312.98 131.9,312.99 132.15,313 132.4,313.01 132.65,313.02 132.9,313.03 133.15,313.04 133.4,313.04 133.65,313.05 133.9,313.06 134.15,313.07 134.4,313.08 134.65,313.09 134.9,313.1 135.15,313.11 135.4,313.12 135.65,313.14 135.9,313.15 136.15,313.17 136.4,313.18 136.65,313.2 136.9,313.22 137.15,313.24 137.4,313.26 137.65,313.28 137.9,313.3 138.15,313.33 138.4,313.35 138.65,313.38 138.9,313.4 139.15,313.43 139.4,313.45 139.65,313.48 139.9,313.51 140.15,313.54 140.4,313.57 140.65,313.6 140.9,313.62 141.15,313.65 141.4,313.68 141.65,313.72 141.9,313.75 142.15,313.78 142.4,313.81 142.65,313.84 142.9,313.87 143.15,313.9 143.4,313.93 143.65,313.96 143.9,314 144.15,314.03 144.4,314.06 144.65,314.09 144.9,314.12 145.15,314.15 145.4,314.18 145.65,314.21 145.9,314.24 146.15,314.27 146.4,314.29 146.65,314.32 146.9,314.35 147.15,314.38 147.4,314.41 147.65,314.43 147.9,314.46 148.15,314.49 148.4,314.52 148.65,314.54 148.9,314.57 149.15,314.6 149.4,314.63 149.65,314.66 149.9,314.68 150.15,314.71 150.4,314.74 150.65,314.77 150.9,314.8 151.15,314.83 151.4,314.85 151.65,314.88 151.9,314.91 152.15,314.94 152.4,314.97 152.65,315 152.9,315.03 153.15,315.06 153.4,315.09 153.65,315.12 153.9,315.15 154.15,315.18 154.4,315.21 154.65,315.24 154.9,315.27 155.15,315.31 155.4,315.34 155.65,315.37 155.9,315.4 156.15,315.44 156.4,315.47 156.65,315.5 156.9,315.54 157.15,315.57 157.4,315.61 157.65,315.64 157.9,315.68 158.15,315.71 158.4,315.75 158.65,315.79 158.9,315.82 159.15,315.86 159.4,315.9 159.65,315.93 159.9,315.97 160.15,316.01 160.4,316.04 160.65,316.08 160.9,316.12 161.15,316.16 161.4,316.2 161.65,316.24 161.9,316.27 162.15,316.31 162.4,316.35 162.65,316.39 162.9,316.44 163.15,316.48 163.4,316.52 163.65,316.56 163.9,316.6 164.15,316.65 164.4,316.69 164.65,316.73 164.9,316.78 165.15,316.83 165.4,316.87 165.65,316.92 165.9,316.97 166.15,317.01 166.4,317.06 166.65,317.11 166.9,317.16 167.15,317.21 167.4,317.27 167.65,317.32 167.9,317.37 168.15,317.43 168.4,317.48 168.65,317.54 168.9,317.6 169.15,317.66 169.4,317.72 169.65,317.78 169.9,317.84 170.15,317.9 170.4,317.97 170.65,318.04 170.9,318.11 171.15,318.18 171.4,318.25 171.65,318.33 171.9,318.41 172.15,318.49 172.4,318.58 172.65,318.66 172.9,318.75 173.15,318.84 173.4,318.93 173.65,319.02 173.9,319.12 174.15,319.22 174.4,319.32 174.65,319.42 174.9,319.52 175.15,319.63 175.4,319.73 175.65,319.84 175.9,319.96 176.15,320.07 176.4,320.19 176.65,320.31 176.9,320.43 177.15,320.56 177.4,320.69 177.65,320.82 177.9,320.96 178.15,321.1 178.4,321.24 178.65,321.39 178.9,321.54 179.15,321.7 179.4,321.85 179.65,322.02 179.9,322.18 180.15,322.35 180.4,322.53 180.65,322.7 180.9,322.89 181.15,323.07 181.4,323.26 181.65,323.46 181.9,323.66 182.15,323.87 182.4,324.08 182.65,324.3 182.9,324.53 183.15,324.76 183.4,325 183.65,325.25 183.9,325.51 184.15,325.77 184.4,326.04 184.65,326.32 184.9,326.61 185.15,326.9 185.4,327.2 185.65,327.51 185.9,327.83 186.15,328.16 186.4,328.49 186.65,328.84 186.9,329.19 187.15,329.55 187.4,329.92 187.65,330.31 187.9,330.71 188.15,331.13 188.4,331.57 188.65,332.03 188.9,332.5 189.15,333 189.4,333.52 189.65,334.06 189.9,334.62 190.15,335.21 190.4,335.82 190.65,336.46 190.9,337.13 191.15,337.82 191.4,338.55 191.65,339.3 191.9,340.08 192.15,340.9 192.4,341.77 192.65,342.7 192.9,343.68 193.15,344.73 193.4,345.86 193.65,347.08 193.9,348.38 194.15,349.78 194.4,351.28 194.65,352.9 194.9,354.64 195.15,356.65 195.4,359.24 195.65,362.37 195.9,365.97 196.15,370 196.4,375.03 196.65,381.28 196.9,388.18 197.15,395.48" fill="none" stroke="#3b2fe2" stroke-width="1.1"/>
</g>
<rect x="43.3" y="296.3" width="158.39999999999998" height="94.89999999999998" fill="none" stroke="#a8a8a8" stroke-width="0.7"/>
<path d="M43.3 327.8 h2 M43.3 359.3 h2 M69.5 391.2 v-2 M96 391.2 v-2 M122.5 391.2 v-2 M149 391.2 v-2 M175.5 391.2 v-2" stroke="#888" stroke-width="0.5" fill="none"/>
<text x="40.7" y="299.1" font-size="7.8" fill="#161616" text-anchor="end">0</text>
<text x="40.7" y="330.6" font-size="7.8" fill="#161616" text-anchor="end">–0.05</text>
<text x="40.7" y="362.1" font-size="7.8" fill="#161616" text-anchor="end">–0.10</text>
<text x="40.7" y="393.6" font-size="7.8" fill="#161616" text-anchor="end">–0.15</text>
<text x="69.6" y="400.9" font-size="7.9" fill="#161616" text-anchor="middle">–10</text>
<text x="95.8" y="400.9" font-size="7.9" fill="#161616" text-anchor="middle">–5</text>
<text x="122.7" y="400.9" font-size="7.9" fill="#161616" text-anchor="middle">0</text>
<text x="149.1" y="400.9" font-size="7.9" fill="#161616" text-anchor="middle">5</text>
<text x="175.6" y="400.9" font-size="7.9" fill="#161616" text-anchor="middle">10</text>
<text x="122.5" y="412.2" font-size="7.7" fill="#161616" text-anchor="middle">Detuning (GHz)</text>
<text x="17" y="343.2" font-size="7.95" fill="#161616" text-anchor="middle" transform="rotate(-90 17 343.2)">Unit comb slope (dB/line)</text>
<text x="122.3" y="350.8" font-size="8" fill="#111" text-anchor="middle">Comb existence range &gt; 28 GHz</text>
<text x="123" y="360.4" font-size="8" fill="#111" text-anchor="middle">&gt;90% optical FSR</text>
<path d="M56.5 348.2 H61.7 M182.5 348.2 H187.5" stroke="#111" stroke-width="0.6" fill="none"/>
<path d="M54.6 348.2 l2.8 -1.3 v2.6z M189.3 348.2 l-2.8 -1.3 v2.6z" fill="#111"/>
<rect x="133.7" y="369.3" width="53" height="18" fill="#fff" stroke="#9a9a9a" stroke-width="0.5"/>
<circle cx="143.8" cy="374.5" r="1.5" fill="#559cf8"/>
<path d="M135.8 382.4 H151.7" stroke="#3b2fe2" stroke-width="0.8"/>
<text x="153.4" y="377" font-size="6.8" fill="#161616" text-anchor="start">Measured</text>
<text x="153.4" y="384.8" font-size="6.8" fill="#161616" text-anchor="start">Theory</text>
</g>
<g id="heat1">
<rect x="240.5" y="294.1" width="146.2" height="96.4" fill="#0b3049"/>
<rect x="280.3" y="340.9" width="33.1" height="2.6" fill="#c8301a" opacity="0.8"/>
<rect x="280.3" y="341.3" width="33.1" height="1.8" fill="#f9821e"/>
<rect x="280.8" y="341.8" width="32.1" height="0.8" fill="#ffc040"/>
<rect x="353.8" y="340.9" width="32.8" height="2.6" fill="#c8301a" opacity="0.8"/>
<rect x="353.8" y="341.3" width="32.8" height="1.8" fill="#f9821e"/>
<rect x="354.3" y="341.8" width="31.8" height="0.8" fill="#ffc040"/>
<path d="M277.3 306.4 V320.6 M313.6 306.4 V320.6 M349.8 306.4 V320.6 M385.9 306.4 V320.6 M277.3 367.5 V381.6 M313.4 367.5 V381.6 M350 367.5 V381.6" stroke="#c9d3dc" stroke-width="0.8" stroke-dasharray="2.6 1.4" fill="none"/>
<path d="M277.3 390.5 v-1.5 M313.4 390.5 v-1.5 M350 390.5 v-1.5" stroke="#4a6070" stroke-width="0.5" fill="none"/>
<path d="M287.5 319.6 H283.3" stroke="#f2f4f6" stroke-width="0.6" fill="none"/>
<path d="M281.3 319.6 l2.8 -1.3 v2.6z" fill="#f2f4f6"/>
<path d="M302.5 319.6 H307.3" stroke="#f2f4f6" stroke-width="0.6" fill="none"/>
<path d="M309.3 319.6 l-2.8 -1.3 v2.6z" fill="#f2f4f6"/>
<path d="M361.3 319.6 H356.2" stroke="#f2f4f6" stroke-width="0.6" fill="none"/>
<path d="M354.2 319.6 l2.8 -1.3 v2.6z" fill="#f2f4f6"/>
<path d="M375.2 319.6 H380.2" stroke="#f2f4f6" stroke-width="0.6" fill="none"/>
<path d="M382.2 319.6 l-2.8 -1.3 v2.6z" fill="#f2f4f6"/>
<path d="M251.8 369.3 H247" stroke="#f2f4f6" stroke-width="0.6" fill="none"/>
<path d="M245 369.3 l2.8 -1.3 v2.6z" fill="#f2f4f6"/>
<path d="M265.5 369.3 H270.8" stroke="#f2f4f6" stroke-width="0.6" fill="none"/>
<path d="M272.8 369.3 l-2.8 -1.3 v2.6z" fill="#f2f4f6"/>
<path d="M325 369.3 H319.6" stroke="#f2f4f6" stroke-width="0.6" fill="none"/>
<path d="M317.6 369.3 l2.8 -1.3 v2.6z" fill="#f2f4f6"/>
<path d="M338.7 369.3 H344.3" stroke="#f2f4f6" stroke-width="0.6" fill="none"/>
<path d="M346.3 369.3 l-2.8 -1.3 v2.6z" fill="#f2f4f6"/>
<text x="295" y="315.3" font-size="7.6" fill="#f4f6f8" text-anchor="middle">Laser on</text>
<text x="368" y="315.3" font-size="7.6" fill="#f4f6f8" text-anchor="middle">Laser on</text>
<text x="257.5" y="380.2" font-size="7.6" fill="#f4f6f8" text-anchor="middle">Laser off</text>
<text x="332" y="380.2" font-size="7.6" fill="#f4f6f8" text-anchor="middle">Laser off</text>
<text x="237.4" y="305.8" font-size="7.8" fill="#161616" text-anchor="end">0.4</text>
<text x="237.4" y="325.2" font-size="7.8" fill="#161616" text-anchor="end">0.2</text>
<text x="237.4" y="344.3" font-size="7.8" fill="#161616" text-anchor="end">0</text>
<text x="237.4" y="363.4" font-size="7.8" fill="#161616" text-anchor="end">–0.2</text>
<text x="237.4" y="382.6" font-size="7.8" fill="#161616" text-anchor="end">–0.4</text>
<text x="240.8" y="400.9" font-size="7.9" fill="#161616" text-anchor="middle">0</text>
<text x="277" y="400.9" font-size="7.9" fill="#161616" text-anchor="middle">1</text>
<text x="313.3" y="400.9" font-size="7.9" fill="#161616" text-anchor="middle">2</text>
<text x="350" y="400.9" font-size="7.9" fill="#161616" text-anchor="middle">3</text>
<text x="386.2" y="400.9" font-size="7.9" fill="#161616" text-anchor="middle">4</text>
<text x="313.7" y="411.5" font-size="7.5" fill="#161616" text-anchor="middle">Time (s)</text>
<text x="211" y="341.5" font-size="7.95" fill="#161616" text-anchor="middle" transform="rotate(-90 211 341.5)">Frequency -repetition rate</text>
<text x="219.6" y="341.5" font-size="7.95" fill="#161616" text-anchor="middle" transform="rotate(-90 219.6 341.5)">(MHz)</text>
<defs><linearGradient id="gcb1" x1="0" y1="0" x2="0" y2="1"><stop offset="0" stop-color="#fff7d0"/><stop offset="0.1" stop-color="#ffe990"/><stop offset="0.2" stop-color="#ffd152"/><stop offset="0.3" stop-color="#ffb72e"/><stop offset="0.38" stop-color="#ffa11e"/><stop offset="0.47" stop-color="#ff860e"/><stop offset="0.56" stop-color="#ff5c00"/><stop offset="0.64" stop-color="#f62000"/><stop offset="0.72" stop-color="#d01010"/><stop offset="0.8" stop-color="#921020"/><stop offset="0.89" stop-color="#4a1a38"/><stop offset="1" stop-color="#0c2c48"/></linearGradient></defs>
<rect x="390.4" y="294.1" width="8.8" height="96.4" fill="url(#gcb1)" stroke="#9a9a9a" stroke-width="0.5"/>
<text x="407.8" y="337" font-size="7.9" fill="#161616" text-anchor="middle" transform="rotate(-90 407.8 337)">Power (10 dB/div)</text>
</g>
<g id="heat2">
<defs><clipPath id="cpH2"><rect x="438.2" y="293.1" width="128.6" height="96.3"/></clipPath></defs>
<rect x="438.2" y="293.1" width="128.6" height="96.3" fill="#0b3049"/>
<g clip-path="url(#cpH2)" fill="none" stroke-linejoin="round">
<path d="M438.1 264.07 L439.1 265.69 L440.1 266.57 L441.1 267.62 L442.1 268.86 L443.1 269.61 L444.1 270.73 L445.1 271.85 L446.1 273.31 L447.1 274.38 L448.1 275.55 L449.1 276.78 L450.1 277.28 L451.1 278.59 L452.1 279.88 L453.1 280.62 L454.1 281.93 L455.1 283.43 L456.1 284.56 L457.1 285.66 L458.1 286.51 L459.1 287.56 L460.1 288.99 L461.1 289.74 L461.7 290.58 L462.1 290.44 L463.1 289.05 L464.1 288.02 L465.1 287.2 L466.1 286.39 L467.1 285.39 L468.1 284.34 L469.1 283.47 L470.1 281.96 L471.1 281.18 L472.1 280.47 L473.1 279.23 L474.1 278.16 L475.1 277.22 L476.1 276.32 L477.1 275.54 L478.1 274.36 L479.1 273.71 L480.1 273.1 L481.1 271.67 L482.1 271.06 L483.1 269.85 L484.1 268.53 L485.1 267.77 L486.1 266.62 L487.1 266.09 L488.1 264.64 L489.1 264.29 L490.1 263.14 L491.1 261.52 L492.1 261.25 L493.1 260.48 L494.1 258.92 L495.1 258.4 L496.1 256.73 L497.1 256.31 L498.1 254.94 L499.1 254.58 L500.1 253.11 L501.1 252.26 L502.1 252.56 L503.1 252.56 L504.1 252.14 L505.1 252.97 L506.1 253.32 L507.1 254.08 L508.1 255.19 L509.1 256.32 L510.1 256.5 L511.1 258.01 L512.1 259.03 L513.1 259.65 L514.1 261.48 L515.1 262.63 L516.1 262.97 L517.1 264.71 L518.1 265.36 L519.1 266.37 L520.1 267.86 L521.1 268.6 L522.1 269.69 L523.1 271.06 L524.1 272.07 L525.1 273.04 L526.1 273.53 L527.1 274.56 L528.1 276.3 L529.1 276.85 L530.1 278.19 L531.1 278.95 L532.1 280.24 L533.1 281.03 L534.1 282.83 L535.1 283.23 L536.1 284.52 L537.1 285.58 L538.1 286.99 L539.1 287.4 L540.1 288.82 L541.1 289.84 L542.1 291.09 L543.1 292.14 L544.1 292.98 L544.2 293.26 L545.1 292.01 L546.1 291 L547.1 289.63 L548.1 288.27 L549.1 287.21 L550.1 286.09 L551.1 285.34 L552.1 283.43 L553.1 282.41 L554.1 281.48 L555.1 279.37 L556.1 278.23 L557.1 277.15 L558.1 276.2 L559.1 275.61 L560.1 273.88 L561.1 272.86 L562.1 271.28 L563.1 269.5 L564.1 268.32 L565.1 267.93 L566.1 266.5 L566.8 265.28 M438.1 276.58 L439.1 277.03 L440.1 278.8 L441.1 279.99 L442.1 280.55 L443.1 281.57 L444.1 283.17 L445.1 283.8 L446.1 285.4 L447.1 285.99 L448.1 287.6 L449.1 288.54 L450.1 289.51 L451.1 290.51 L452.1 291.9 L453.1 292.48 L454.1 293.99 L455.1 295.07 L456.1 296.45 L457.1 297.08 L458.1 298.93 L459.1 299.54 L460.1 300.44 L461.1 302.18 L461.7 302.92 L462.1 302.07 L463.1 300.92 L464.1 300.18 L465.1 299.03 L466.1 298.16 L467.1 297.66 L468.1 296.4 L469.1 295.37 L470.1 294.45 L471.1 293.38 L472.1 292.64 L473.1 291.68 L474.1 290.4 L475.1 289.55 L476.1 289.16 L477.1 287.69 L478.1 286.57 L479.1 286.16 L480.1 284.68 L481.1 283.44 L482.1 282.91 L483.1 281.55 L484.1 280.68 L485.1 279.92 L486.1 278.84 L487.1 277.71 L488.1 276.79 L489.1 275.82 L490.1 275.29 L491.1 273.85 L492.1 272.92 L493.1 272.6 L494.1 270.98 L495.1 270.53 L496.1 269.51 L497.1 268.21 L498.1 267 L499.1 266.57 L500.1 265.73 L501.1 265.16 L502.1 264.48 L503.1 264.29 L504.1 264.63 L505.1 264.5 L506.1 265.64 L507.1 266.21 L508.1 266.9 L509.1 267.83 L510.1 269.28 L511.1 270.12 L512.1 270.49 L513.1 272.03 L514.1 273.04 L515.1 274.1 L516.1 275.08 L517.1 275.91 L518.1 277.56 L519.1 278.18 L520.1 279.39 L521.1 280.4 L522.1 281.43 L523.1 282.87 L524.1 283.84 L525.1 284.65 L526.1 285.65 L527.1 286.83 L528.1 288.26 L529.1 289.12 L530.1 290.21 L531.1 291.14 L532.1 292.22 L533.1 293.41 L534.1 293.96 L535.1 295.89 L536.1 296.36 L537.1 297.48 L538.1 299.02 L539.1 299.81 L540.1 300.83 L541.1 301.75 L542.1 302.57 L543.1 304.07 L544.1 305.39 L544.2 304.98 L545.1 304.44 L546.1 302.6 L547.1 301.47 L548.1 300.56 L549.1 299.22 L550.1 298.17 L551.1 296.59 L552.1 295.29 L553.1 293.86 L554.1 292.81 L555.1 291.62 L556.1 290.31 L557.1 289.52 L558.1 288.06 L559.1 286.51 L560.1 286.4 L561.1 284.35 L562.1 283.03 L563.1 282.43 L564.1 281.19 L565.1 279.39 L566.1 278.09 L566.8 277.35 M438.1 288.58 L439.1 289.33 L440.1 290.32 L441.1 291.62 L442.1 293.04 L443.1 293.5 L444.1 294.87 L445.1 295.73 L446.1 297.72 L447.1 298.75 L448.1 299.64 L449.1 300.48 L450.1 301.79 L451.1 302.21 L452.1 303.91 L453.1 304.62 L454.1 305.73 L455.1 307 L456.1 308.2 L457.1 309.54 L458.1 310.68 L459.1 311.68 L460.1 312.49 L461.1 314 L461.7 314.47 L462.1 314.41 L463.1 312.91 L464.1 311.48 L465.1 311.09 L466.1 310.78 L467.1 309.39 L468.1 308.25 L469.1 307.55 L470.1 306.49 L471.1 305.51 L472.1 304.3 L473.1 303.48 L474.1 302.54 L475.1 301.36 L476.1 300.27 L477.1 299.62 L478.1 298.86 L479.1 297.81 L480.1 296.8 L481.1 295.84 L482.1 295.39 L483.1 293.84 L484.1 293.07 L485.1 292.33 L486.1 290.88 L487.1 289.97 L488.1 289.19 L489.1 288.39 L490.1 287.07 L491.1 286.12 L492.1 285.08 L493.1 283.79 L494.1 283.4 L495.1 282.09 L496.1 280.75 L497.1 280.22 L498.1 278.92 L499.1 278.21 L500.1 277.56 L501.1 276.69 L502.1 276.73 L503.1 275.63 L504.1 276.35 L505.1 276.91 L506.1 277.65 L507.1 278.39 L508.1 279.1 L509.1 279.93 L510.1 280.79 L511.1 282.16 L512.1 282.78 L513.1 284.14 L514.1 285.05 L515.1 286.21 L516.1 287.15 L517.1 288.81 L518.1 289.18 L519.1 290.48 L520.1 291.55 L521.1 292.7 L522.1 293.73 L523.1 294.79 L524.1 296 L525.1 296.44 L526.1 297.89 L527.1 298.64 L528.1 300.08 L529.1 300.79 L530.1 301.91 L531.1 303.21 L532.1 304.64 L533.1 305.5 L534.1 306.5 L535.1 307.84 L536.1 308.32 L537.1 309.1 L538.1 310.59 L539.1 311.69 L540.1 313.14 L541.1 314.43 L542.1 314.63 L543.1 316.65 L544.1 317.49 L544.2 317.41 L545.1 316.2 L546.1 315.49 L547.1 313.68 L548.1 312.32 L549.1 311.25 L550.1 309.66 L551.1 308.89 L552.1 307.53 L553.1 306.42 L554.1 305.2 L555.1 303.63 L556.1 303 L557.1 301.2 L558.1 300.45 L559.1 298.61 L560.1 297.88 L561.1 296.36 L562.1 295.35 L563.1 293.96 L564.1 292.36 L565.1 291.4 L566.1 290.48 L566.8 289.76 M438.1 299.94 L439.1 300.88 L440.1 302.31 L441.1 303.58 L442.1 304.59 L443.1 305.65 L444.1 307.18 L445.1 308.32 L446.1 309.37 L447.1 310.06 L448.1 311.42 L449.1 312.47 L450.1 313.27 L451.1 314.96 L452.1 315.87 L453.1 316.84 L454.1 318.42 L455.1 319.37 L456.1 320.5 L457.1 321.7 L458.1 322.69 L459.1 323.3 L460.1 324.63 L461.1 326.09 L461.7 326.31 L462.1 326.13 L463.1 325.25 L464.1 324.54 L465.1 323.54 L466.1 322.47 L467.1 321.23 L468.1 320.53 L469.1 319.47 L470.1 318.33 L471.1 317.74 L472.1 316.55 L473.1 315.27 L474.1 314.81 L475.1 313.46 L476.1 312.71 L477.1 311.21 L478.1 310.62 L479.1 309.41 L480.1 308.44 L481.1 307.24 L482.1 307.28 L483.1 305.74 L484.1 304.87 L485.1 304.12 L486.1 302.84 L487.1 302.03 L488.1 300.59 L489.1 300.02 L490.1 298.89 L491.1 298.15 L492.1 297.11 L493.1 295.75 L494.1 294.66 L495.1 293.9 L496.1 293.37 L497.1 292.36 L498.1 291.46 L499.1 289.95 L500.1 288.89 L501.1 288.77 L502.1 288.38 L503.1 287.84 L504.1 288.38 L505.1 288.73 L506.1 288.99 L507.1 289.94 L508.1 291.07 L509.1 291.93 L510.1 292.79 L511.1 294.44 L512.1 294.88 L513.1 296.04 L514.1 296.83 L515.1 298.05 L516.1 299.34 L517.1 300.42 L518.1 301.31 L519.1 302.51 L520.1 303.49 L521.1 304.08 L522.1 304.8 L523.1 307.26 L524.1 307.96 L525.1 308.8 L526.1 309.45 L527.1 310.63 L528.1 312.36 L529.1 312.39 L530.1 314.07 L531.1 315.44 L532.1 316.32 L533.1 317.54 L534.1 318.39 L535.1 320.09 L536.1 320.3 L537.1 321.28 L538.1 322.76 L539.1 324.11 L540.1 324.81 L541.1 326.15 L542.1 326.83 L543.1 327.73 L544.1 329.44 L544.2 329.59 L545.1 328.48 L546.1 326.77 L547.1 325.37 L548.1 324.14 L549.1 323.16 L550.1 322.14 L551.1 320.9 L552.1 319.19 L553.1 318.38 L554.1 317.11 L555.1 315.91 L556.1 314.66 L557.1 313.4 L558.1 312.37 L559.1 311.04 L560.1 309.84 L561.1 308.39 L562.1 307.44 L563.1 306.09 L564.1 304.37 L565.1 303.8 L566.1 302.39 L566.8 301.83 M438.1 312.26 L439.1 313.39 L440.1 314.57 L441.1 315.63 L442.1 316.63 L443.1 317.4 L444.1 319.42 L445.1 319.68 L446.1 321.1 L447.1 322.45 L448.1 323.5 L449.1 324.65 L450.1 325.81 L451.1 327.05 L452.1 327.92 L453.1 329.68 L454.1 329.81 L455.1 331.23 L456.1 332.19 L457.1 333.26 L458.1 334.58 L459.1 335.98 L460.1 336.55 L461.1 337.66 L461.7 338.68 L462.1 338.25 L463.1 337.63 L464.1 336.43 L465.1 335.26 L466.1 334.16 L467.1 333.32 L468.1 332.26 L469.1 330.99 L470.1 330.37 L471.1 329.35 L472.1 328.37 L473.1 327.35 L474.1 326.91 L475.1 325.7 L476.1 324.79 L477.1 323.43 L478.1 322.36 L479.1 321.58 L480.1 320.74 L481.1 319.63 L482.1 318.7 L483.1 318.01 L484.1 316.88 L485.1 315.59 L486.1 314.76 L487.1 313.74 L488.1 312.98 L489.1 311.67 L490.1 310.95 L491.1 310.2 L492.1 309.07 L493.1 307.86 L494.1 306.97 L495.1 306.18 L496.1 305.31 L497.1 304.46 L498.1 303.32 L499.1 302.13 L500.1 301.92 L501.1 301 L502.1 300.56 L503.1 300.07 L504.1 300.03 L505.1 300.69 L506.1 301.35 L507.1 302.42 L508.1 303.05 L509.1 303.13 L510.1 304.75 L511.1 305.96 L512.1 307.26 L513.1 308.19 L514.1 309.7 L515.1 310.5 L516.1 311.55 L517.1 312.51 L518.1 313 L519.1 314.62 L520.1 315.63 L521.1 316.41 L522.1 317.76 L523.1 318.79 L524.1 319.63 L525.1 320.78 L526.1 321.82 L527.1 323.01 L528.1 323.91 L529.1 325.22 L530.1 325.67 L531.1 327.15 L532.1 327.87 L533.1 329.23 L534.1 330.55 L535.1 331.49 L536.1 332.53 L537.1 333.64 L538.1 335.08 L539.1 335.48 L540.1 337.05 L541.1 337.51 L542.1 338.84 L543.1 340.07 L544.1 340.88 L544.2 341.25 L545.1 340.28 L546.1 338.58 L547.1 337.64 L548.1 336.34 L549.1 334.73 L550.1 333.95 L551.1 332.57 L552.1 331.89 L553.1 330.11 L554.1 329.53 L555.1 327.76 L556.1 327.15 L557.1 325.58 L558.1 324.34 L559.1 323.2 L560.1 322.01 L561.1 320.91 L562.1 319.77 L563.1 318.03 L564.1 316.58 L565.1 315.01 L566.1 314.36 L566.8 313.79 M438.1 324.39 L439.1 325.44 L440.1 326.43 L441.1 327.47 L442.1 328.67 L443.1 329.95 L444.1 330.52 L445.1 332.25 L446.1 332.82 L447.1 334.25 L448.1 335.24 L449.1 336.42 L450.1 337.36 L451.1 338.44 L452.1 339.78 L453.1 340.68 L454.1 342.68 L455.1 343.07 L456.1 344.12 L457.1 345.25 L458.1 346.23 L459.1 347 L460.1 348.66 L461.1 349.91 L461.7 350.12 L462.1 350.11 L463.1 348.84 L464.1 348.16 L465.1 347.3 L466.1 346.36 L467.1 345.38 L468.1 344.12 L469.1 343.55 L470.1 342.25 L471.1 341.48 L472.1 340.6 L473.1 339.38 L474.1 338.17 L475.1 337.67 L476.1 336.27 L477.1 335.36 L478.1 334.34 L479.1 333.86 L480.1 332.64 L481.1 331.15 L482.1 330.92 L483.1 330.29 L484.1 329.25 L485.1 327.69 L486.1 326.89 L487.1 326.03 L488.1 325.15 L489.1 323.97 L490.1 322.72 L491.1 322.21 L492.1 321.21 L493.1 319.75 L494.1 319.03 L495.1 318.22 L496.1 317.18 L497.1 316.38 L498.1 315.55 L499.1 314.59 L500.1 313.53 L501.1 312.58 L502.1 312.61 L503.1 312.34 L504.1 312.78 L505.1 312.76 L506.1 313.28 L507.1 314.52 L508.1 315.39 L509.1 315.99 L510.1 316.98 L511.1 317.68 L512.1 319.08 L513.1 319.8 L514.1 321.04 L515.1 322.11 L516.1 323.09 L517.1 323.75 L518.1 325.13 L519.1 326.49 L520.1 327.46 L521.1 328.44 L522.1 329.72 L523.1 330.85 L524.1 331.96 L525.1 332.61 L526.1 333.88 L527.1 334.86 L528.1 335.79 L529.1 336.71 L530.1 338.12 L531.1 339 L532.1 340.82 L533.1 341.32 L534.1 342.36 L535.1 343.38 L536.1 345.02 L537.1 345.38 L538.1 346.65 L539.1 347.56 L540.1 348.79 L541.1 349.88 L542.1 351.23 L543.1 351.67 L544.1 353.08 L544.2 353.6 L545.1 351.97 L546.1 350.83 L547.1 349.43 L548.1 347.78 L549.1 347.19 L550.1 346.28 L551.1 344.65 L552.1 343.09 L553.1 342.39 L554.1 341.13 L555.1 340.13 L556.1 338.89 L557.1 337.37 L558.1 336.32 L559.1 334.55 L560.1 334.06 L561.1 332.6 L562.1 331.61 L563.1 330.38 L564.1 328.82 L565.1 327.63 L566.1 326.23 L566.8 325.08 M438.1 336.26 L439.1 337.44 L440.1 338.24 L441.1 339.8 L442.1 340.76 L443.1 341.96 L444.1 342.76 L445.1 343.63 L446.1 345.37 L447.1 346.44 L448.1 347.37 L449.1 348.4 L450.1 349.55 L451.1 350.69 L452.1 351.71 L453.1 352.45 L454.1 354.25 L455.1 354.79 L456.1 356.2 L457.1 357.31 L458.1 358.56 L459.1 359.21 L460.1 361.02 L461.1 361.99 L461.7 362.69 L462.1 362.43 L463.1 360.94 L464.1 359.39 L465.1 359.29 L466.1 358.56 L467.1 357.56 L468.1 356.17 L469.1 355.31 L470.1 354.43 L471.1 352.94 L472.1 352.26 L473.1 351.3 L474.1 350.89 L475.1 349.36 L476.1 348.95 L477.1 347.59 L478.1 346.2 L479.1 346.2 L480.1 344.44 L481.1 343.87 L482.1 343.17 L483.1 341.64 L484.1 340.5 L485.1 340.1 L486.1 338.89 L487.1 337.59 L488.1 336.66 L489.1 335.87 L490.1 335.24 L491.1 333.95 L492.1 333.22 L493.1 332.5 L494.1 331.44 L495.1 330.51 L496.1 329.49 L497.1 327.85 L498.1 327.66 L499.1 326.54 L500.1 325.53 L501.1 324.65 L502.1 324.06 L503.1 323.72 L504.1 324.28 L505.1 324.47 L506.1 325.08 L507.1 326.01 L508.1 327.2 L509.1 327.84 L510.1 328.77 L511.1 330.21 L512.1 330.86 L513.1 332.16 L514.1 332.81 L515.1 334.23 L516.1 335.24 L517.1 336.32 L518.1 337.23 L519.1 338.15 L520.1 339.4 L521.1 340.43 L522.1 341.87 L523.1 342.91 L524.1 343.45 L525.1 344.97 L526.1 345.76 L527.1 347.06 L528.1 347.9 L529.1 348.72 L530.1 350.41 L531.1 351.33 L532.1 351.98 L533.1 352.88 L534.1 354.29 L535.1 355.19 L536.1 356.46 L537.1 357.78 L538.1 359.06 L539.1 359.67 L540.1 361.17 L541.1 362.18 L542.1 362.85 L543.1 363.61 L544.1 365.31 L544.2 365.35 L545.1 364.69 L546.1 363.24 L547.1 361.85 L548.1 360.86 L549.1 358.95 L550.1 358.04 L551.1 356.71 L552.1 355.99 L553.1 354.47 L554.1 352.35 L555.1 352.23 L556.1 350.44 L557.1 349.64 L558.1 348.11 L559.1 347.07 L560.1 345.94 L561.1 344.61 L562.1 343.1 L563.1 342.47 L564.1 341 L565.1 339.68 L566.1 338.64 L566.8 337.47 M438.1 348.78 L439.1 349.47 L440.1 350.62 L441.1 351.72 L442.1 352.52 L443.1 353.56 L444.1 355.02 L445.1 356.16 L446.1 357.52 L447.1 358.41 L448.1 359.13 L449.1 360.65 L450.1 361.83 L451.1 362.99 L452.1 363.93 L453.1 364.65 L454.1 366.36 L455.1 366.99 L456.1 368.43 L457.1 369 L458.1 370.7 L459.1 371.42 L460.1 373 L461.1 374.28 L461.7 374.8 L462.1 373.83 L463.1 372.91 L464.1 371.96 L465.1 371.38 L466.1 370.33 L467.1 369.31 L468.1 368.38 L469.1 367.48 L470.1 366.53 L471.1 365.82 L472.1 364.42 L473.1 363.51 L474.1 362.03 L475.1 361.2 L476.1 360.38 L477.1 359.29 L478.1 358.68 L479.1 357.91 L480.1 356.57 L481.1 355.59 L482.1 354.62 L483.1 353.81 L484.1 352.67 L485.1 351.95 L486.1 350.95 L487.1 349.99 L488.1 349.12 L489.1 347.97 L490.1 347.03 L491.1 346.47 L492.1 345.05 L493.1 344.29 L494.1 343.14 L495.1 342.04 L496.1 341.07 L497.1 340.05 L498.1 339.36 L499.1 338.31 L500.1 337.45 L501.1 337.23 L502.1 336.42 L503.1 336.28 L504.1 336.35 L505.1 336.98 L506.1 337.13 L507.1 338.2 L508.1 339.7 L509.1 340.12 L510.1 341.06 L511.1 341.93 L512.1 343.15 L513.1 343.72 L514.1 344.86 L515.1 346.25 L516.1 347.41 L517.1 348.17 L518.1 349.3 L519.1 350.32 L520.1 351.43 L521.1 352.24 L522.1 353.25 L523.1 354.66 L524.1 355.31 L525.1 356.57 L526.1 357.71 L527.1 358.68 L528.1 360.07 L529.1 360.97 L530.1 362.13 L531.1 362.96 L532.1 364.1 L533.1 365.48 L534.1 366.51 L535.1 367.37 L536.1 368.64 L537.1 369.66 L538.1 370.72 L539.1 372.15 L540.1 372.72 L541.1 373.99 L542.1 375.06 L543.1 375.96 L544.1 376.79 L544.2 377.37 L545.1 376.16 L546.1 374.88 L547.1 373.66 L548.1 372.43 L549.1 370.98 L550.1 370.06 L551.1 368.31 L552.1 367.54 L553.1 365.95 L554.1 365.01 L555.1 364.06 L556.1 362.59 L557.1 361.31 L558.1 360.34 L559.1 358.92 L560.1 357.67 L561.1 356.45 L562.1 355.71 L563.1 354.27 L564.1 353 L565.1 351.37 L566.1 350.6 L566.8 349.26 M438.1 360.41 L439.1 361.12 L440.1 362.99 L441.1 363.2 L442.1 365.03 L443.1 366.04 L444.1 366.5 L445.1 368 L446.1 369.53 L447.1 370.56 L448.1 370.97 L449.1 372.37 L450.1 373.31 L451.1 374.46 L452.1 375.67 L453.1 377.4 L454.1 378.08 L455.1 379.1 L456.1 380.18 L457.1 381.54 L458.1 382.66 L459.1 383.37 L460.1 385.07 L461.1 385.55 L461.7 386.41 L462.1 386.21 L463.1 385.56 L464.1 384.07 L465.1 383.26 L466.1 382.55 L467.1 381.41 L468.1 380.57 L469.1 379.58 L470.1 378.41 L471.1 377.54 L472.1 376.64 L473.1 375.44 L474.1 374.87 L475.1 373.01 L476.1 372.31 L477.1 371.93 L478.1 370.71 L479.1 369.47 L480.1 368.76 L481.1 367.97 L482.1 366.59 L483.1 365.95 L484.1 364.76 L485.1 363.79 L486.1 362.84 L487.1 362.16 L488.1 360.64 L489.1 359.86 L490.1 359.14 L491.1 357.71 L492.1 356.65 L493.1 356.22 L494.1 355.11 L495.1 354.1 L496.1 353.2 L497.1 351.99 L498.1 352.07 L499.1 350.19 L500.1 349.43 L501.1 348.55 L502.1 348.34 L503.1 348.36 L504.1 348.27 L505.1 348.9 L506.1 349.15 L507.1 350.6 L508.1 351.06 L509.1 351.58 L510.1 352.98 L511.1 353.77 L512.1 355.08 L513.1 356.03 L514.1 357.13 L515.1 358.16 L516.1 358.97 L517.1 359.89 L518.1 361.57 L519.1 362.36 L520.1 363.53 L521.1 364.41 L522.1 365.09 L523.1 366.35 L524.1 368.08 L525.1 368.6 L526.1 369.77 L527.1 370.57 L528.1 371.87 L529.1 372.98 L530.1 374.08 L531.1 375.18 L532.1 376.11 L533.1 377.19 L534.1 378.4 L535.1 379.55 L536.1 380.5 L537.1 382.04 L538.1 382.72 L539.1 383.78 L540.1 384.64 L541.1 386.13 L542.1 386.69 L543.1 387.6 L544.1 388.83 L544.2 389.34 L545.1 387.8 L546.1 387.19 L547.1 385.64 L548.1 384.04 L549.1 383.14 L550.1 382.42 L551.1 380.54 L552.1 379.21 L553.1 378.44 L554.1 377.42 L555.1 376.12 L556.1 374.57 L557.1 373.48 L558.1 372.29 L559.1 371.28 L560.1 370.3 L561.1 368.52 L562.1 367.65 L563.1 366.01 L564.1 365.03 L565.1 363.42 L566.1 362.25 L566.8 361.69 M438.1 372.06 L439.1 373.61 L440.1 374.36 L441.1 375.63 L442.1 376.7 L443.1 377.75 L444.1 378.98 L445.1 380.32 L446.1 381.94 L447.1 381.98 L448.1 383.46 L449.1 384.45 L450.1 385.38 L451.1 386.79 L452.1 387.6 L453.1 388.92 L454.1 390.35 L455.1 390.65 L456.1 392.33 L457.1 393.49 L458.1 394.25 L459.1 395.73 L460.1 396.79 L461.1 397.73 L461.7 398.79 L462.1 397.77 L463.1 397.29 L464.1 396.1 L465.1 394.93 L466.1 394.18 L467.1 393.16 L468.1 392.49 L469.1 390.94 L470.1 390.3 L471.1 389.26 L472.1 388.8 L473.1 387.16 L474.1 386.74 L475.1 385.07 L476.1 384.62 L477.1 383.53 L478.1 382.69 L479.1 381.45 L480.1 380.17 L481.1 379.31 L482.1 379.05 L483.1 377.81 L484.1 376.57 L485.1 376.04 L486.1 374.66 L487.1 373.7 L488.1 372.61 L489.1 372.24 L490.1 371.46 L491.1 369.76 L492.1 369.11 L493.1 368.31 L494.1 367.63 L495.1 365.53 L496.1 365.2 L497.1 364.39 L498.1 362.96 L499.1 362.54 L500.1 361.59 L501.1 361.08 L502.1 360.29 L503.1 360.07 L504.1 360.11 L505.1 360.89 L506.1 361.3 L507.1 362.04 L508.1 362.66 L509.1 364.3 L510.1 365.06 L511.1 366.07 L512.1 366.75 L513.1 367.9 L514.1 369.47 L515.1 370.31 L516.1 370.97 L517.1 372.27 L518.1 373.36 L519.1 374.34 L520.1 375.22 L521.1 376.84 L522.1 377.74 L523.1 378.61 L524.1 379.33 L525.1 380.65 L526.1 381.86 L527.1 383.14 L528.1 383.9 L529.1 385.34 L530.1 386.17 L531.1 387.01 L532.1 387.57 L533.1 389.04 L534.1 390.03 L535.1 391.43 L536.1 392.62 L537.1 393.95 L538.1 394.67 L539.1 395.45 L540.1 397.39 L541.1 397.95 L542.1 398.87 L543.1 399.94 L544.1 400.74 L544.2 401.34 L545.1 400.18 L546.1 399.26 L547.1 397.92 L548.1 396.64 L549.1 395.51 L550.1 393.91 L551.1 392.65 L552.1 391.52 L553.1 390 L554.1 389.06 L555.1 387.79 L556.1 386.82 L557.1 385.43 L558.1 383.73 L559.1 383 L560.1 382.12 L561.1 380.09 L562.1 379.14 L563.1 378.11 L564.1 376.55 L565.1 375.52 L566.1 374.46 L566.8 373.26 M438.1 384.36 L439.1 385.5 L440.1 386.19 L441.1 387.62 L442.1 389 L443.1 389.79 L444.1 391.06 L445.1 392.22 L446.1 393.11 L447.1 394.53 L448.1 395.49 L449.1 396.25 L450.1 397.74 L451.1 398.94 L452.1 400.03 L453.1 400.78 L454.1 402.17 L455.1 403.51 L456.1 404.33 L457.1 405.68 L458.1 406.82 L459.1 407.6 L460.1 408.88 L461.1 409.75 L461.7 410.76 L462.1 410.08 L463.1 409 L464.1 408.16 L465.1 407.18 L466.1 406.33 L467.1 405.38 L468.1 404 L469.1 403.16 L470.1 402.45 L471.1 401.51 L472.1 400.44 L473.1 400.11 L474.1 398.77 L475.1 397.5 L476.1 396.73 L477.1 395.92 L478.1 394.7 L479.1 393.21 L480.1 392.7 L481.1 391.72 L482.1 391.27 L483.1 389.31 L484.1 389.19 L485.1 387.8 L486.1 387.1 L487.1 385.83 L488.1 384.98 L489.1 384.25 L490.1 383.02 L491.1 382.29 L492.1 381.04 L493.1 379.99 L494.1 379.07 L495.1 378.03 L496.1 377.16 L497.1 376.59 L498.1 375.06 L499.1 374.04 L500.1 373.56 L501.1 373.35 L502.1 372.72 L503.1 372.33 L504.1 372.6 L505.1 372.59 L506.1 373.32 L507.1 373.5 L508.1 374.89 L509.1 376.07 L510.1 376.42 L511.1 377.36 L512.1 378.62 L513.1 380.07 L514.1 381.37 L515.1 382.8 L516.1 383.57 L517.1 383.91 L518.1 384.77 L519.1 386.46 L520.1 387.75 L521.1 388.15 L522.1 389.49 L523.1 390.58 L524.1 391.77 L525.1 392.78 L526.1 394.02 L527.1 395.23 L528.1 396.05 L529.1 397.29 L530.1 398.66 L531.1 398.98 L532.1 400.04 L533.1 401.5 L534.1 402.9 L535.1 403.55 L536.1 404.84 L537.1 405.56 L538.1 406.94 L539.1 407.62 L540.1 409.01 L541.1 410.01 L542.1 411.08 L543.1 412.39 L544.1 413.38 L544.2 413.07 L545.1 412.34 L546.1 410.48 L547.1 409.93 L548.1 409.15 L549.1 407.37 L550.1 406.15 L551.1 404.81 L552.1 403.79 L553.1 402.24 L554.1 401.3 L555.1 399.85 L556.1 398.59 L557.1 397.51 L558.1 396.24 L559.1 394.6 L560.1 394.33 L561.1 392.63 L562.1 390.95 L563.1 390.42 L564.1 388.92 L565.1 387.76 L566.1 386.66 L566.8 385.41 M438.1 395.6 L439.1 397.42 L440.1 398.61 L441.1 399.91 L442.1 400.58 L443.1 401.82 L444.1 403.09 L445.1 404.02 L446.1 405.15 L447.1 406.39 L448.1 407.18 L449.1 408.94 L450.1 409.42 L451.1 410.77 L452.1 411.79 L453.1 412.81 L454.1 414.23 L455.1 415.46 L456.1 416.68 L457.1 417.57 L458.1 418.42 L459.1 419.86 L460.1 420.39 L461.1 421.88 L461.7 422.66 L462.1 422.28 L463.1 420.89 L464.1 419.83 L465.1 419.65 L466.1 418.14 L467.1 416.89 L468.1 416.02 L469.1 415.36 L470.1 414.69 L471.1 413.42 L472.1 412.75 L473.1 411.54 L474.1 410.63 L475.1 409.79 L476.1 408.48 L477.1 407.68 L478.1 406.54 L479.1 405.51 L480.1 404.87 L481.1 403.53 L482.1 402.79 L483.1 401.6 L484.1 400.81 L485.1 399.73 L486.1 399.16 L487.1 397.94 L488.1 396.97 L489.1 396.39 L490.1 394.29 L491.1 393.76 L492.1 392.39 L493.1 392.1 L494.1 391.25 L495.1 390.33 L496.1 389.26 L497.1 388.05 L498.1 387.8 L499.1 386.54 L500.1 385.51 L501.1 384.65 L502.1 384.57 L503.1 383.88 L504.1 384.18 L505.1 384.83 L506.1 385.35 L507.1 385.97 L508.1 387.36 L509.1 387.67 L510.1 388.54 L511.1 389.96 L512.1 390.98 L513.1 392.03 L514.1 392.98 L515.1 394.16 L516.1 395.08 L517.1 395.87 L518.1 397.53 L519.1 398.16 L520.1 399.43 L521.1 400.73 L522.1 401.62 L523.1 403.37 L524.1 403.4 L525.1 404.63 L526.1 405.91 L527.1 407.29 L528.1 407.96 L529.1 408.73 L530.1 410.44 L531.1 410.99 L532.1 412.24 L533.1 413.58 L534.1 414.26 L535.1 415.38 L536.1 416.68 L537.1 417.57 L538.1 418.76 L539.1 419.52 L540.1 420.8 L541.1 421.62 L542.1 422.57 L543.1 424.47 L544.1 425.21 L544.2 425.43 L545.1 423.86 L546.1 422.87 L547.1 421.61 L548.1 420.08 L549.1 419.35 L550.1 417.82 L551.1 416.72 L552.1 415.17 L553.1 414.58 L554.1 413.3 L555.1 411.99 L556.1 410.44 L557.1 409.31 L558.1 408.53 L559.1 406.94 L560.1 405.85 L561.1 404.6 L562.1 403.06 L563.1 402.5 L564.1 400.4 L565.1 399.73 L566.1 398.43 L566.8 397.2" stroke="#a02a1c" stroke-width="1.7" opacity="0.5"/>
<path d="M438.1 264.07 L439.1 265.69 L440.1 266.57 L441.1 267.62 L442.1 268.86 L443.1 269.61 L444.1 270.73 L445.1 271.85 L446.1 273.31 L447.1 274.38 L448.1 275.55 L449.1 276.78 L450.1 277.28 L451.1 278.59 L452.1 279.88 L453.1 280.62 L454.1 281.93 L455.1 283.43 L456.1 284.56 L457.1 285.66 L458.1 286.51 L459.1 287.56 L460.1 288.99 L461.1 289.74 L461.7 290.58 L462.1 290.44 L463.1 289.05 L464.1 288.02 L465.1 287.2 L466.1 286.39 L467.1 285.39 L468.1 284.34 L469.1 283.47 L470.1 281.96 L471.1 281.18 L472.1 280.47 L473.1 279.23 L474.1 278.16 L475.1 277.22 L476.1 276.32 L477.1 275.54 L478.1 274.36 L479.1 273.71 L480.1 273.1 L481.1 271.67 L482.1 271.06 L483.1 269.85 L484.1 268.53 L485.1 267.77 L486.1 266.62 L487.1 266.09 L488.1 264.64 L489.1 264.29 L490.1 263.14 L491.1 261.52 L492.1 261.25 L493.1 260.48 L494.1 258.92 L495.1 258.4 L496.1 256.73 L497.1 256.31 L498.1 254.94 L499.1 254.58 L500.1 253.11 L501.1 252.26 L502.1 252.56 L503.1 252.56 L504.1 252.14 L505.1 252.97 L506.1 253.32 L507.1 254.08 L508.1 255.19 L509.1 256.32 L510.1 256.5 L511.1 258.01 L512.1 259.03 L513.1 259.65 L514.1 261.48 L515.1 262.63 L516.1 262.97 L517.1 264.71 L518.1 265.36 L519.1 266.37 L520.1 267.86 L521.1 268.6 L522.1 269.69 L523.1 271.06 L524.1 272.07 L525.1 273.04 L526.1 273.53 L527.1 274.56 L528.1 276.3 L529.1 276.85 L530.1 278.19 L531.1 278.95 L532.1 280.24 L533.1 281.03 L534.1 282.83 L535.1 283.23 L536.1 284.52 L537.1 285.58 L538.1 286.99 L539.1 287.4 L540.1 288.82 L541.1 289.84 L542.1 291.09 L543.1 292.14 L544.1 292.98 L544.2 293.26 L545.1 292.01 L546.1 291 L547.1 289.63 L548.1 288.27 L549.1 287.21 L550.1 286.09 L551.1 285.34 L552.1 283.43 L553.1 282.41 L554.1 281.48 L555.1 279.37 L556.1 278.23 L557.1 277.15 L558.1 276.2 L559.1 275.61 L560.1 273.88 L561.1 272.86 L562.1 271.28 L563.1 269.5 L564.1 268.32 L565.1 267.93 L566.1 266.5 L566.8 265.28 M438.1 276.58 L439.1 277.03 L440.1 278.8 L441.1 279.99 L442.1 280.55 L443.1 281.57 L444.1 283.17 L445.1 283.8 L446.1 285.4 L447.1 285.99 L448.1 287.6 L449.1 288.54 L450.1 289.51 L451.1 290.51 L452.1 291.9 L453.1 292.48 L454.1 293.99 L455.1 295.07 L456.1 296.45 L457.1 297.08 L458.1 298.93 L459.1 299.54 L460.1 300.44 L461.1 302.18 L461.7 302.92 L462.1 302.07 L463.1 300.92 L464.1 300.18 L465.1 299.03 L466.1 298.16 L467.1 297.66 L468.1 296.4 L469.1 295.37 L470.1 294.45 L471.1 293.38 L472.1 292.64 L473.1 291.68 L474.1 290.4 L475.1 289.55 L476.1 289.16 L477.1 287.69 L478.1 286.57 L479.1 286.16 L480.1 284.68 L481.1 283.44 L482.1 282.91 L483.1 281.55 L484.1 280.68 L485.1 279.92 L486.1 278.84 L487.1 277.71 L488.1 276.79 L489.1 275.82 L490.1 275.29 L491.1 273.85 L492.1 272.92 L493.1 272.6 L494.1 270.98 L495.1 270.53 L496.1 269.51 L497.1 268.21 L498.1 267 L499.1 266.57 L500.1 265.73 L501.1 265.16 L502.1 264.48 L503.1 264.29 L504.1 264.63 L505.1 264.5 L506.1 265.64 L507.1 266.21 L508.1 266.9 L509.1 267.83 L510.1 269.28 L511.1 270.12 L512.1 270.49 L513.1 272.03 L514.1 273.04 L515.1 274.1 L516.1 275.08 L517.1 275.91 L518.1 277.56 L519.1 278.18 L520.1 279.39 L521.1 280.4 L522.1 281.43 L523.1 282.87 L524.1 283.84 L525.1 284.65 L526.1 285.65 L527.1 286.83 L528.1 288.26 L529.1 289.12 L530.1 290.21 L531.1 291.14 L532.1 292.22 L533.1 293.41 L534.1 293.96 L535.1 295.89 L536.1 296.36 L537.1 297.48 L538.1 299.02 L539.1 299.81 L540.1 300.83 L541.1 301.75 L542.1 302.57 L543.1 304.07 L544.1 305.39 L544.2 304.98 L545.1 304.44 L546.1 302.6 L547.1 301.47 L548.1 300.56 L549.1 299.22 L550.1 298.17 L551.1 296.59 L552.1 295.29 L553.1 293.86 L554.1 292.81 L555.1 291.62 L556.1 290.31 L557.1 289.52 L558.1 288.06 L559.1 286.51 L560.1 286.4 L561.1 284.35 L562.1 283.03 L563.1 282.43 L564.1 281.19 L565.1 279.39 L566.1 278.09 L566.8 277.35 M438.1 288.58 L439.1 289.33 L440.1 290.32 L441.1 291.62 L442.1 293.04 L443.1 293.5 L444.1 294.87 L445.1 295.73 L446.1 297.72 L447.1 298.75 L448.1 299.64 L449.1 300.48 L450.1 301.79 L451.1 302.21 L452.1 303.91 L453.1 304.62 L454.1 305.73 L455.1 307 L456.1 308.2 L457.1 309.54 L458.1 310.68 L459.1 311.68 L460.1 312.49 L461.1 314 L461.7 314.47 L462.1 314.41 L463.1 312.91 L464.1 311.48 L465.1 311.09 L466.1 310.78 L467.1 309.39 L468.1 308.25 L469.1 307.55 L470.1 306.49 L471.1 305.51 L472.1 304.3 L473.1 303.48 L474.1 302.54 L475.1 301.36 L476.1 300.27 L477.1 299.62 L478.1 298.86 L479.1 297.81 L480.1 296.8 L481.1 295.84 L482.1 295.39 L483.1 293.84 L484.1 293.07 L485.1 292.33 L486.1 290.88 L487.1 289.97 L488.1 289.19 L489.1 288.39 L490.1 287.07 L491.1 286.12 L492.1 285.08 L493.1 283.79 L494.1 283.4 L495.1 282.09 L496.1 280.75 L497.1 280.22 L498.1 278.92 L499.1 278.21 L500.1 277.56 L501.1 276.69 L502.1 276.73 L503.1 275.63 L504.1 276.35 L505.1 276.91 L506.1 277.65 L507.1 278.39 L508.1 279.1 L509.1 279.93 L510.1 280.79 L511.1 282.16 L512.1 282.78 L513.1 284.14 L514.1 285.05 L515.1 286.21 L516.1 287.15 L517.1 288.81 L518.1 289.18 L519.1 290.48 L520.1 291.55 L521.1 292.7 L522.1 293.73 L523.1 294.79 L524.1 296 L525.1 296.44 L526.1 297.89 L527.1 298.64 L528.1 300.08 L529.1 300.79 L530.1 301.91 L531.1 303.21 L532.1 304.64 L533.1 305.5 L534.1 306.5 L535.1 307.84 L536.1 308.32 L537.1 309.1 L538.1 310.59 L539.1 311.69 L540.1 313.14 L541.1 314.43 L542.1 314.63 L543.1 316.65 L544.1 317.49 L544.2 317.41 L545.1 316.2 L546.1 315.49 L547.1 313.68 L548.1 312.32 L549.1 311.25 L550.1 309.66 L551.1 308.89 L552.1 307.53 L553.1 306.42 L554.1 305.2 L555.1 303.63 L556.1 303 L557.1 301.2 L558.1 300.45 L559.1 298.61 L560.1 297.88 L561.1 296.36 L562.1 295.35 L563.1 293.96 L564.1 292.36 L565.1 291.4 L566.1 290.48 L566.8 289.76 M438.1 299.94 L439.1 300.88 L440.1 302.31 L441.1 303.58 L442.1 304.59 L443.1 305.65 L444.1 307.18 L445.1 308.32 L446.1 309.37 L447.1 310.06 L448.1 311.42 L449.1 312.47 L450.1 313.27 L451.1 314.96 L452.1 315.87 L453.1 316.84 L454.1 318.42 L455.1 319.37 L456.1 320.5 L457.1 321.7 L458.1 322.69 L459.1 323.3 L460.1 324.63 L461.1 326.09 L461.7 326.31 L462.1 326.13 L463.1 325.25 L464.1 324.54 L465.1 323.54 L466.1 322.47 L467.1 321.23 L468.1 320.53 L469.1 319.47 L470.1 318.33 L471.1 317.74 L472.1 316.55 L473.1 315.27 L474.1 314.81 L475.1 313.46 L476.1 312.71 L477.1 311.21 L478.1 310.62 L479.1 309.41 L480.1 308.44 L481.1 307.24 L482.1 307.28 L483.1 305.74 L484.1 304.87 L485.1 304.12 L486.1 302.84 L487.1 302.03 L488.1 300.59 L489.1 300.02 L490.1 298.89 L491.1 298.15 L492.1 297.11 L493.1 295.75 L494.1 294.66 L495.1 293.9 L496.1 293.37 L497.1 292.36 L498.1 291.46 L499.1 289.95 L500.1 288.89 L501.1 288.77 L502.1 288.38 L503.1 287.84 L504.1 288.38 L505.1 288.73 L506.1 288.99 L507.1 289.94 L508.1 291.07 L509.1 291.93 L510.1 292.79 L511.1 294.44 L512.1 294.88 L513.1 296.04 L514.1 296.83 L515.1 298.05 L516.1 299.34 L517.1 300.42 L518.1 301.31 L519.1 302.51 L520.1 303.49 L521.1 304.08 L522.1 304.8 L523.1 307.26 L524.1 307.96 L525.1 308.8 L526.1 309.45 L527.1 310.63 L528.1 312.36 L529.1 312.39 L530.1 314.07 L531.1 315.44 L532.1 316.32 L533.1 317.54 L534.1 318.39 L535.1 320.09 L536.1 320.3 L537.1 321.28 L538.1 322.76 L539.1 324.11 L540.1 324.81 L541.1 326.15 L542.1 326.83 L543.1 327.73 L544.1 329.44 L544.2 329.59 L545.1 328.48 L546.1 326.77 L547.1 325.37 L548.1 324.14 L549.1 323.16 L550.1 322.14 L551.1 320.9 L552.1 319.19 L553.1 318.38 L554.1 317.11 L555.1 315.91 L556.1 314.66 L557.1 313.4 L558.1 312.37 L559.1 311.04 L560.1 309.84 L561.1 308.39 L562.1 307.44 L563.1 306.09 L564.1 304.37 L565.1 303.8 L566.1 302.39 L566.8 301.83 M438.1 312.26 L439.1 313.39 L440.1 314.57 L441.1 315.63 L442.1 316.63 L443.1 317.4 L444.1 319.42 L445.1 319.68 L446.1 321.1 L447.1 322.45 L448.1 323.5 L449.1 324.65 L450.1 325.81 L451.1 327.05 L452.1 327.92 L453.1 329.68 L454.1 329.81 L455.1 331.23 L456.1 332.19 L457.1 333.26 L458.1 334.58 L459.1 335.98 L460.1 336.55 L461.1 337.66 L461.7 338.68 L462.1 338.25 L463.1 337.63 L464.1 336.43 L465.1 335.26 L466.1 334.16 L467.1 333.32 L468.1 332.26 L469.1 330.99 L470.1 330.37 L471.1 329.35 L472.1 328.37 L473.1 327.35 L474.1 326.91 L475.1 325.7 L476.1 324.79 L477.1 323.43 L478.1 322.36 L479.1 321.58 L480.1 320.74 L481.1 319.63 L482.1 318.7 L483.1 318.01 L484.1 316.88 L485.1 315.59 L486.1 314.76 L487.1 313.74 L488.1 312.98 L489.1 311.67 L490.1 310.95 L491.1 310.2 L492.1 309.07 L493.1 307.86 L494.1 306.97 L495.1 306.18 L496.1 305.31 L497.1 304.46 L498.1 303.32 L499.1 302.13 L500.1 301.92 L501.1 301 L502.1 300.56 L503.1 300.07 L504.1 300.03 L505.1 300.69 L506.1 301.35 L507.1 302.42 L508.1 303.05 L509.1 303.13 L510.1 304.75 L511.1 305.96 L512.1 307.26 L513.1 308.19 L514.1 309.7 L515.1 310.5 L516.1 311.55 L517.1 312.51 L518.1 313 L519.1 314.62 L520.1 315.63 L521.1 316.41 L522.1 317.76 L523.1 318.79 L524.1 319.63 L525.1 320.78 L526.1 321.82 L527.1 323.01 L528.1 323.91 L529.1 325.22 L530.1 325.67 L531.1 327.15 L532.1 327.87 L533.1 329.23 L534.1 330.55 L535.1 331.49 L536.1 332.53 L537.1 333.64 L538.1 335.08 L539.1 335.48 L540.1 337.05 L541.1 337.51 L542.1 338.84 L543.1 340.07 L544.1 340.88 L544.2 341.25 L545.1 340.28 L546.1 338.58 L547.1 337.64 L548.1 336.34 L549.1 334.73 L550.1 333.95 L551.1 332.57 L552.1 331.89 L553.1 330.11 L554.1 329.53 L555.1 327.76 L556.1 327.15 L557.1 325.58 L558.1 324.34 L559.1 323.2 L560.1 322.01 L561.1 320.91 L562.1 319.77 L563.1 318.03 L564.1 316.58 L565.1 315.01 L566.1 314.36 L566.8 313.79 M438.1 324.39 L439.1 325.44 L440.1 326.43 L441.1 327.47 L442.1 328.67 L443.1 329.95 L444.1 330.52 L445.1 332.25 L446.1 332.82 L447.1 334.25 L448.1 335.24 L449.1 336.42 L450.1 337.36 L451.1 338.44 L452.1 339.78 L453.1 340.68 L454.1 342.68 L455.1 343.07 L456.1 344.12 L457.1 345.25 L458.1 346.23 L459.1 347 L460.1 348.66 L461.1 349.91 L461.7 350.12 L462.1 350.11 L463.1 348.84 L464.1 348.16 L465.1 347.3 L466.1 346.36 L467.1 345.38 L468.1 344.12 L469.1 343.55 L470.1 342.25 L471.1 341.48 L472.1 340.6 L473.1 339.38 L474.1 338.17 L475.1 337.67 L476.1 336.27 L477.1 335.36 L478.1 334.34 L479.1 333.86 L480.1 332.64 L481.1 331.15 L482.1 330.92 L483.1 330.29 L484.1 329.25 L485.1 327.69 L486.1 326.89 L487.1 326.03 L488.1 325.15 L489.1 323.97 L490.1 322.72 L491.1 322.21 L492.1 321.21 L493.1 319.75 L494.1 319.03 L495.1 318.22 L496.1 317.18 L497.1 316.38 L498.1 315.55 L499.1 314.59 L500.1 313.53 L501.1 312.58 L502.1 312.61 L503.1 312.34 L504.1 312.78 L505.1 312.76 L506.1 313.28 L507.1 314.52 L508.1 315.39 L509.1 315.99 L510.1 316.98 L511.1 317.68 L512.1 319.08 L513.1 319.8 L514.1 321.04 L515.1 322.11 L516.1 323.09 L517.1 323.75 L518.1 325.13 L519.1 326.49 L520.1 327.46 L521.1 328.44 L522.1 329.72 L523.1 330.85 L524.1 331.96 L525.1 332.61 L526.1 333.88 L527.1 334.86 L528.1 335.79 L529.1 336.71 L530.1 338.12 L531.1 339 L532.1 340.82 L533.1 341.32 L534.1 342.36 L535.1 343.38 L536.1 345.02 L537.1 345.38 L538.1 346.65 L539.1 347.56 L540.1 348.79 L541.1 349.88 L542.1 351.23 L543.1 351.67 L544.1 353.08 L544.2 353.6 L545.1 351.97 L546.1 350.83 L547.1 349.43 L548.1 347.78 L549.1 347.19 L550.1 346.28 L551.1 344.65 L552.1 343.09 L553.1 342.39 L554.1 341.13 L555.1 340.13 L556.1 338.89 L557.1 337.37 L558.1 336.32 L559.1 334.55 L560.1 334.06 L561.1 332.6 L562.1 331.61 L563.1 330.38 L564.1 328.82 L565.1 327.63 L566.1 326.23 L566.8 325.08 M438.1 336.26 L439.1 337.44 L440.1 338.24 L441.1 339.8 L442.1 340.76 L443.1 341.96 L444.1 342.76 L445.1 343.63 L446.1 345.37 L447.1 346.44 L448.1 347.37 L449.1 348.4 L450.1 349.55 L451.1 350.69 L452.1 351.71 L453.1 352.45 L454.1 354.25 L455.1 354.79 L456.1 356.2 L457.1 357.31 L458.1 358.56 L459.1 359.21 L460.1 361.02 L461.1 361.99 L461.7 362.69 L462.1 362.43 L463.1 360.94 L464.1 359.39 L465.1 359.29 L466.1 358.56 L467.1 357.56 L468.1 356.17 L469.1 355.31 L470.1 354.43 L471.1 352.94 L472.1 352.26 L473.1 351.3 L474.1 350.89 L475.1 349.36 L476.1 348.95 L477.1 347.59 L478.1 346.2 L479.1 346.2 L480.1 344.44 L481.1 343.87 L482.1 343.17 L483.1 341.64 L484.1 340.5 L485.1 340.1 L486.1 338.89 L487.1 337.59 L488.1 336.66 L489.1 335.87 L490.1 335.24 L491.1 333.95 L492.1 333.22 L493.1 332.5 L494.1 331.44 L495.1 330.51 L496.1 329.49 L497.1 327.85 L498.1 327.66 L499.1 326.54 L500.1 325.53 L501.1 324.65 L502.1 324.06 L503.1 323.72 L504.1 324.28 L505.1 324.47 L506.1 325.08 L507.1 326.01 L508.1 327.2 L509.1 327.84 L510.1 328.77 L511.1 330.21 L512.1 330.86 L513.1 332.16 L514.1 332.81 L515.1 334.23 L516.1 335.24 L517.1 336.32 L518.1 337.23 L519.1 338.15 L520.1 339.4 L521.1 340.43 L522.1 341.87 L523.1 342.91 L524.1 343.45 L525.1 344.97 L526.1 345.76 L527.1 347.06 L528.1 347.9 L529.1 348.72 L530.1 350.41 L531.1 351.33 L532.1 351.98 L533.1 352.88 L534.1 354.29 L535.1 355.19 L536.1 356.46 L537.1 357.78 L538.1 359.06 L539.1 359.67 L540.1 361.17 L541.1 362.18 L542.1 362.85 L543.1 363.61 L544.1 365.31 L544.2 365.35 L545.1 364.69 L546.1 363.24 L547.1 361.85 L548.1 360.86 L549.1 358.95 L550.1 358.04 L551.1 356.71 L552.1 355.99 L553.1 354.47 L554.1 352.35 L555.1 352.23 L556.1 350.44 L557.1 349.64 L558.1 348.11 L559.1 347.07 L560.1 345.94 L561.1 344.61 L562.1 343.1 L563.1 342.47 L564.1 341 L565.1 339.68 L566.1 338.64 L566.8 337.47 M438.1 348.78 L439.1 349.47 L440.1 350.62 L441.1 351.72 L442.1 352.52 L443.1 353.56 L444.1 355.02 L445.1 356.16 L446.1 357.52 L447.1 358.41 L448.1 359.13 L449.1 360.65 L450.1 361.83 L451.1 362.99 L452.1 363.93 L453.1 364.65 L454.1 366.36 L455.1 366.99 L456.1 368.43 L457.1 369 L458.1 370.7 L459.1 371.42 L460.1 373 L461.1 374.28 L461.7 374.8 L462.1 373.83 L463.1 372.91 L464.1 371.96 L465.1 371.38 L466.1 370.33 L467.1 369.31 L468.1 368.38 L469.1 367.48 L470.1 366.53 L471.1 365.82 L472.1 364.42 L473.1 363.51 L474.1 362.03 L475.1 361.2 L476.1 360.38 L477.1 359.29 L478.1 358.68 L479.1 357.91 L480.1 356.57 L481.1 355.59 L482.1 354.62 L483.1 353.81 L484.1 352.67 L485.1 351.95 L486.1 350.95 L487.1 349.99 L488.1 349.12 L489.1 347.97 L490.1 347.03 L491.1 346.47 L492.1 345.05 L493.1 344.29 L494.1 343.14 L495.1 342.04 L496.1 341.07 L497.1 340.05 L498.1 339.36 L499.1 338.31 L500.1 337.45 L501.1 337.23 L502.1 336.42 L503.1 336.28 L504.1 336.35 L505.1 336.98 L506.1 337.13 L507.1 338.2 L508.1 339.7 L509.1 340.12 L510.1 341.06 L511.1 341.93 L512.1 343.15 L513.1 343.72 L514.1 344.86 L515.1 346.25 L516.1 347.41 L517.1 348.17 L518.1 349.3 L519.1 350.32 L520.1 351.43 L521.1 352.24 L522.1 353.25 L523.1 354.66 L524.1 355.31 L525.1 356.57 L526.1 357.71 L527.1 358.68 L528.1 360.07 L529.1 360.97 L530.1 362.13 L531.1 362.96 L532.1 364.1 L533.1 365.48 L534.1 366.51 L535.1 367.37 L536.1 368.64 L537.1 369.66 L538.1 370.72 L539.1 372.15 L540.1 372.72 L541.1 373.99 L542.1 375.06 L543.1 375.96 L544.1 376.79 L544.2 377.37 L545.1 376.16 L546.1 374.88 L547.1 373.66 L548.1 372.43 L549.1 370.98 L550.1 370.06 L551.1 368.31 L552.1 367.54 L553.1 365.95 L554.1 365.01 L555.1 364.06 L556.1 362.59 L557.1 361.31 L558.1 360.34 L559.1 358.92 L560.1 357.67 L561.1 356.45 L562.1 355.71 L563.1 354.27 L564.1 353 L565.1 351.37 L566.1 350.6 L566.8 349.26 M438.1 360.41 L439.1 361.12 L440.1 362.99 L441.1 363.2 L442.1 365.03 L443.1 366.04 L444.1 366.5 L445.1 368 L446.1 369.53 L447.1 370.56 L448.1 370.97 L449.1 372.37 L450.1 373.31 L451.1 374.46 L452.1 375.67 L453.1 377.4 L454.1 378.08 L455.1 379.1 L456.1 380.18 L457.1 381.54 L458.1 382.66 L459.1 383.37 L460.1 385.07 L461.1 385.55 L461.7 386.41 L462.1 386.21 L463.1 385.56 L464.1 384.07 L465.1 383.26 L466.1 382.55 L467.1 381.41 L468.1 380.57 L469.1 379.58 L470.1 378.41 L471.1 377.54 L472.1 376.64 L473.1 375.44 L474.1 374.87 L475.1 373.01 L476.1 372.31 L477.1 371.93 L478.1 370.71 L479.1 369.47 L480.1 368.76 L481.1 367.97 L482.1 366.59 L483.1 365.95 L484.1 364.76 L485.1 363.79 L486.1 362.84 L487.1 362.16 L488.1 360.64 L489.1 359.86 L490.1 359.14 L491.1 357.71 L492.1 356.65 L493.1 356.22 L494.1 355.11 L495.1 354.1 L496.1 353.2 L497.1 351.99 L498.1 352.07 L499.1 350.19 L500.1 349.43 L501.1 348.55 L502.1 348.34 L503.1 348.36 L504.1 348.27 L505.1 348.9 L506.1 349.15 L507.1 350.6 L508.1 351.06 L509.1 351.58 L510.1 352.98 L511.1 353.77 L512.1 355.08 L513.1 356.03 L514.1 357.13 L515.1 358.16 L516.1 358.97 L517.1 359.89 L518.1 361.57 L519.1 362.36 L520.1 363.53 L521.1 364.41 L522.1 365.09 L523.1 366.35 L524.1 368.08 L525.1 368.6 L526.1 369.77 L527.1 370.57 L528.1 371.87 L529.1 372.98 L530.1 374.08 L531.1 375.18 L532.1 376.11 L533.1 377.19 L534.1 378.4 L535.1 379.55 L536.1 380.5 L537.1 382.04 L538.1 382.72 L539.1 383.78 L540.1 384.64 L541.1 386.13 L542.1 386.69 L543.1 387.6 L544.1 388.83 L544.2 389.34 L545.1 387.8 L546.1 387.19 L547.1 385.64 L548.1 384.04 L549.1 383.14 L550.1 382.42 L551.1 380.54 L552.1 379.21 L553.1 378.44 L554.1 377.42 L555.1 376.12 L556.1 374.57 L557.1 373.48 L558.1 372.29 L559.1 371.28 L560.1 370.3 L561.1 368.52 L562.1 367.65 L563.1 366.01 L564.1 365.03 L565.1 363.42 L566.1 362.25 L566.8 361.69 M438.1 372.06 L439.1 373.61 L440.1 374.36 L441.1 375.63 L442.1 376.7 L443.1 377.75 L444.1 378.98 L445.1 380.32 L446.1 381.94 L447.1 381.98 L448.1 383.46 L449.1 384.45 L450.1 385.38 L451.1 386.79 L452.1 387.6 L453.1 388.92 L454.1 390.35 L455.1 390.65 L456.1 392.33 L457.1 393.49 L458.1 394.25 L459.1 395.73 L460.1 396.79 L461.1 397.73 L461.7 398.79 L462.1 397.77 L463.1 397.29 L464.1 396.1 L465.1 394.93 L466.1 394.18 L467.1 393.16 L468.1 392.49 L469.1 390.94 L470.1 390.3 L471.1 389.26 L472.1 388.8 L473.1 387.16 L474.1 386.74 L475.1 385.07 L476.1 384.62 L477.1 383.53 L478.1 382.69 L479.1 381.45 L480.1 380.17 L481.1 379.31 L482.1 379.05 L483.1 377.81 L484.1 376.57 L485.1 376.04 L486.1 374.66 L487.1 373.7 L488.1 372.61 L489.1 372.24 L490.1 371.46 L491.1 369.76 L492.1 369.11 L493.1 368.31 L494.1 367.63 L495.1 365.53 L496.1 365.2 L497.1 364.39 L498.1 362.96 L499.1 362.54 L500.1 361.59 L501.1 361.08 L502.1 360.29 L503.1 360.07 L504.1 360.11 L505.1 360.89 L506.1 361.3 L507.1 362.04 L508.1 362.66 L509.1 364.3 L510.1 365.06 L511.1 366.07 L512.1 366.75 L513.1 367.9 L514.1 369.47 L515.1 370.31 L516.1 370.97 L517.1 372.27 L518.1 373.36 L519.1 374.34 L520.1 375.22 L521.1 376.84 L522.1 377.74 L523.1 378.61 L524.1 379.33 L525.1 380.65 L526.1 381.86 L527.1 383.14 L528.1 383.9 L529.1 385.34 L530.1 386.17 L531.1 387.01 L532.1 387.57 L533.1 389.04 L534.1 390.03 L535.1 391.43 L536.1 392.62 L537.1 393.95 L538.1 394.67 L539.1 395.45 L540.1 397.39 L541.1 397.95 L542.1 398.87 L543.1 399.94 L544.1 400.74 L544.2 401.34 L545.1 400.18 L546.1 399.26 L547.1 397.92 L548.1 396.64 L549.1 395.51 L550.1 393.91 L551.1 392.65 L552.1 391.52 L553.1 390 L554.1 389.06 L555.1 387.79 L556.1 386.82 L557.1 385.43 L558.1 383.73 L559.1 383 L560.1 382.12 L561.1 380.09 L562.1 379.14 L563.1 378.11 L564.1 376.55 L565.1 375.52 L566.1 374.46 L566.8 373.26 M438.1 384.36 L439.1 385.5 L440.1 386.19 L441.1 387.62 L442.1 389 L443.1 389.79 L444.1 391.06 L445.1 392.22 L446.1 393.11 L447.1 394.53 L448.1 395.49 L449.1 396.25 L450.1 397.74 L451.1 398.94 L452.1 400.03 L453.1 400.78 L454.1 402.17 L455.1 403.51 L456.1 404.33 L457.1 405.68 L458.1 406.82 L459.1 407.6 L460.1 408.88 L461.1 409.75 L461.7 410.76 L462.1 410.08 L463.1 409 L464.1 408.16 L465.1 407.18 L466.1 406.33 L467.1 405.38 L468.1 404 L469.1 403.16 L470.1 402.45 L471.1 401.51 L472.1 400.44 L473.1 400.11 L474.1 398.77 L475.1 397.5 L476.1 396.73 L477.1 395.92 L478.1 394.7 L479.1 393.21 L480.1 392.7 L481.1 391.72 L482.1 391.27 L483.1 389.31 L484.1 389.19 L485.1 387.8 L486.1 387.1 L487.1 385.83 L488.1 384.98 L489.1 384.25 L490.1 383.02 L491.1 382.29 L492.1 381.04 L493.1 379.99 L494.1 379.07 L495.1 378.03 L496.1 377.16 L497.1 376.59 L498.1 375.06 L499.1 374.04 L500.1 373.56 L501.1 373.35 L502.1 372.72 L503.1 372.33 L504.1 372.6 L505.1 372.59 L506.1 373.32 L507.1 373.5 L508.1 374.89 L509.1 376.07 L510.1 376.42 L511.1 377.36 L512.1 378.62 L513.1 380.07 L514.1 381.37 L515.1 382.8 L516.1 383.57 L517.1 383.91 L518.1 384.77 L519.1 386.46 L520.1 387.75 L521.1 388.15 L522.1 389.49 L523.1 390.58 L524.1 391.77 L525.1 392.78 L526.1 394.02 L527.1 395.23 L528.1 396.05 L529.1 397.29 L530.1 398.66 L531.1 398.98 L532.1 400.04 L533.1 401.5 L534.1 402.9 L535.1 403.55 L536.1 404.84 L537.1 405.56 L538.1 406.94 L539.1 407.62 L540.1 409.01 L541.1 410.01 L542.1 411.08 L543.1 412.39 L544.1 413.38 L544.2 413.07 L545.1 412.34 L546.1 410.48 L547.1 409.93 L548.1 409.15 L549.1 407.37 L550.1 406.15 L551.1 404.81 L552.1 403.79 L553.1 402.24 L554.1 401.3 L555.1 399.85 L556.1 398.59 L557.1 397.51 L558.1 396.24 L559.1 394.6 L560.1 394.33 L561.1 392.63 L562.1 390.95 L563.1 390.42 L564.1 388.92 L565.1 387.76 L566.1 386.66 L566.8 385.41 M438.1 395.6 L439.1 397.42 L440.1 398.61 L441.1 399.91 L442.1 400.58 L443.1 401.82 L444.1 403.09 L445.1 404.02 L446.1 405.15 L447.1 406.39 L448.1 407.18 L449.1 408.94 L450.1 409.42 L451.1 410.77 L452.1 411.79 L453.1 412.81 L454.1 414.23 L455.1 415.46 L456.1 416.68 L457.1 417.57 L458.1 418.42 L459.1 419.86 L460.1 420.39 L461.1 421.88 L461.7 422.66 L462.1 422.28 L463.1 420.89 L464.1 419.83 L465.1 419.65 L466.1 418.14 L467.1 416.89 L468.1 416.02 L469.1 415.36 L470.1 414.69 L471.1 413.42 L472.1 412.75 L473.1 411.54 L474.1 410.63 L475.1 409.79 L476.1 408.48 L477.1 407.68 L478.1 406.54 L479.1 405.51 L480.1 404.87 L481.1 403.53 L482.1 402.79 L483.1 401.6 L484.1 400.81 L485.1 399.73 L486.1 399.16 L487.1 397.94 L488.1 396.97 L489.1 396.39 L490.1 394.29 L491.1 393.76 L492.1 392.39 L493.1 392.1 L494.1 391.25 L495.1 390.33 L496.1 389.26 L497.1 388.05 L498.1 387.8 L499.1 386.54 L500.1 385.51 L501.1 384.65 L502.1 384.57 L503.1 383.88 L504.1 384.18 L505.1 384.83 L506.1 385.35 L507.1 385.97 L508.1 387.36 L509.1 387.67 L510.1 388.54 L511.1 389.96 L512.1 390.98 L513.1 392.03 L514.1 392.98 L515.1 394.16 L516.1 395.08 L517.1 395.87 L518.1 397.53 L519.1 398.16 L520.1 399.43 L521.1 400.73 L522.1 401.62 L523.1 403.37 L524.1 403.4 L525.1 404.63 L526.1 405.91 L527.1 407.29 L528.1 407.96 L529.1 408.73 L530.1 410.44 L531.1 410.99 L532.1 412.24 L533.1 413.58 L534.1 414.26 L535.1 415.38 L536.1 416.68 L537.1 417.57 L538.1 418.76 L539.1 419.52 L540.1 420.8 L541.1 421.62 L542.1 422.57 L543.1 424.47 L544.1 425.21 L544.2 425.43 L545.1 423.86 L546.1 422.87 L547.1 421.61 L548.1 420.08 L549.1 419.35 L550.1 417.82 L551.1 416.72 L552.1 415.17 L553.1 414.58 L554.1 413.3 L555.1 411.99 L556.1 410.44 L557.1 409.31 L558.1 408.53 L559.1 406.94 L560.1 405.85 L561.1 404.6 L562.1 403.06 L563.1 402.5 L564.1 400.4 L565.1 399.73 L566.1 398.43 L566.8 397.2" stroke="#dc4c1a" stroke-width="1.0"/>
<path d="M438.1 264.07 L439.1 265.69 L440.1 266.57 L441.1 267.62 L442.1 268.86 L443.1 269.61 L444.1 270.73 L445.1 271.85 L446.1 273.31 L447.1 274.38 L448.1 275.55 L449.1 276.78 L450.1 277.28 L451.1 278.59 L452.1 279.88 L453.1 280.62 L454.1 281.93 L455.1 283.43 L456.1 284.56 L457.1 285.66 L458.1 286.51 L459.1 287.56 L460.1 288.99 L461.1 289.74 L461.7 290.58 L462.1 290.44 L463.1 289.05 L464.1 288.02 L465.1 287.2 L466.1 286.39 L467.1 285.39 L468.1 284.34 L469.1 283.47 L470.1 281.96 L471.1 281.18 L472.1 280.47 L473.1 279.23 L474.1 278.16 L475.1 277.22 L476.1 276.32 L477.1 275.54 L478.1 274.36 L479.1 273.71 L480.1 273.1 L481.1 271.67 L482.1 271.06 L483.1 269.85 L484.1 268.53 L485.1 267.77 L486.1 266.62 L487.1 266.09 L488.1 264.64 L489.1 264.29 L490.1 263.14 L491.1 261.52 L492.1 261.25 L493.1 260.48 L494.1 258.92 L495.1 258.4 L496.1 256.73 L497.1 256.31 L498.1 254.94 L499.1 254.58 L500.1 253.11 L501.1 252.26 L502.1 252.56 L503.1 252.56 L504.1 252.14 L505.1 252.97 L506.1 253.32 L507.1 254.08 L508.1 255.19 L509.1 256.32 L510.1 256.5 L511.1 258.01 L512.1 259.03 L513.1 259.65 L514.1 261.48 L515.1 262.63 L516.1 262.97 L517.1 264.71 L518.1 265.36 L519.1 266.37 L520.1 267.86 L521.1 268.6 L522.1 269.69 L523.1 271.06 L524.1 272.07 L525.1 273.04 L526.1 273.53 L527.1 274.56 L528.1 276.3 L529.1 276.85 L530.1 278.19 L531.1 278.95 L532.1 280.24 L533.1 281.03 L534.1 282.83 L535.1 283.23 L536.1 284.52 L537.1 285.58 L538.1 286.99 L539.1 287.4 L540.1 288.82 L541.1 289.84 L542.1 291.09 L543.1 292.14 L544.1 292.98 L544.2 293.26 L545.1 292.01 L546.1 291 L547.1 289.63 L548.1 288.27 L549.1 287.21 L550.1 286.09 L551.1 285.34 L552.1 283.43 L553.1 282.41 L554.1 281.48 L555.1 279.37 L556.1 278.23 L557.1 277.15 L558.1 276.2 L559.1 275.61 L560.1 273.88 L561.1 272.86 L562.1 271.28 L563.1 269.5 L564.1 268.32 L565.1 267.93 L566.1 266.5 L566.8 265.28 M438.1 276.58 L439.1 277.03 L440.1 278.8 L441.1 279.99 L442.1 280.55 L443.1 281.57 L444.1 283.17 L445.1 283.8 L446.1 285.4 L447.1 285.99 L448.1 287.6 L449.1 288.54 L450.1 289.51 L451.1 290.51 L452.1 291.9 L453.1 292.48 L454.1 293.99 L455.1 295.07 L456.1 296.45 L457.1 297.08 L458.1 298.93 L459.1 299.54 L460.1 300.44 L461.1 302.18 L461.7 302.92 L462.1 302.07 L463.1 300.92 L464.1 300.18 L465.1 299.03 L466.1 298.16 L467.1 297.66 L468.1 296.4 L469.1 295.37 L470.1 294.45 L471.1 293.38 L472.1 292.64 L473.1 291.68 L474.1 290.4 L475.1 289.55 L476.1 289.16 L477.1 287.69 L478.1 286.57 L479.1 286.16 L480.1 284.68 L481.1 283.44 L482.1 282.91 L483.1 281.55 L484.1 280.68 L485.1 279.92 L486.1 278.84 L487.1 277.71 L488.1 276.79 L489.1 275.82 L490.1 275.29 L491.1 273.85 L492.1 272.92 L493.1 272.6 L494.1 270.98 L495.1 270.53 L496.1 269.51 L497.1 268.21 L498.1 267 L499.1 266.57 L500.1 265.73 L501.1 265.16 L502.1 264.48 L503.1 264.29 L504.1 264.63 L505.1 264.5 L506.1 265.64 L507.1 266.21 L508.1 266.9 L509.1 267.83 L510.1 269.28 L511.1 270.12 L512.1 270.49 L513.1 272.03 L514.1 273.04 L515.1 274.1 L516.1 275.08 L517.1 275.91 L518.1 277.56 L519.1 278.18 L520.1 279.39 L521.1 280.4 L522.1 281.43 L523.1 282.87 L524.1 283.84 L525.1 284.65 L526.1 285.65 L527.1 286.83 L528.1 288.26 L529.1 289.12 L530.1 290.21 L531.1 291.14 L532.1 292.22 L533.1 293.41 L534.1 293.96 L535.1 295.89 L536.1 296.36 L537.1 297.48 L538.1 299.02 L539.1 299.81 L540.1 300.83 L541.1 301.75 L542.1 302.57 L543.1 304.07 L544.1 305.39 L544.2 304.98 L545.1 304.44 L546.1 302.6 L547.1 301.47 L548.1 300.56 L549.1 299.22 L550.1 298.17 L551.1 296.59 L552.1 295.29 L553.1 293.86 L554.1 292.81 L555.1 291.62 L556.1 290.31 L557.1 289.52 L558.1 288.06 L559.1 286.51 L560.1 286.4 L561.1 284.35 L562.1 283.03 L563.1 282.43 L564.1 281.19 L565.1 279.39 L566.1 278.09 L566.8 277.35 M438.1 288.58 L439.1 289.33 L440.1 290.32 L441.1 291.62 L442.1 293.04 L443.1 293.5 L444.1 294.87 L445.1 295.73 L446.1 297.72 L447.1 298.75 L448.1 299.64 L449.1 300.48 L450.1 301.79 L451.1 302.21 L452.1 303.91 L453.1 304.62 L454.1 305.73 L455.1 307 L456.1 308.2 L457.1 309.54 L458.1 310.68 L459.1 311.68 L460.1 312.49 L461.1 314 L461.7 314.47 L462.1 314.41 L463.1 312.91 L464.1 311.48 L465.1 311.09 L466.1 310.78 L467.1 309.39 L468.1 308.25 L469.1 307.55 L470.1 306.49 L471.1 305.51 L472.1 304.3 L473.1 303.48 L474.1 302.54 L475.1 301.36 L476.1 300.27 L477.1 299.62 L478.1 298.86 L479.1 297.81 L480.1 296.8 L481.1 295.84 L482.1 295.39 L483.1 293.84 L484.1 293.07 L485.1 292.33 L486.1 290.88 L487.1 289.97 L488.1 289.19 L489.1 288.39 L490.1 287.07 L491.1 286.12 L492.1 285.08 L493.1 283.79 L494.1 283.4 L495.1 282.09 L496.1 280.75 L497.1 280.22 L498.1 278.92 L499.1 278.21 L500.1 277.56 L501.1 276.69 L502.1 276.73 L503.1 275.63 L504.1 276.35 L505.1 276.91 L506.1 277.65 L507.1 278.39 L508.1 279.1 L509.1 279.93 L510.1 280.79 L511.1 282.16 L512.1 282.78 L513.1 284.14 L514.1 285.05 L515.1 286.21 L516.1 287.15 L517.1 288.81 L518.1 289.18 L519.1 290.48 L520.1 291.55 L521.1 292.7 L522.1 293.73 L523.1 294.79 L524.1 296 L525.1 296.44 L526.1 297.89 L527.1 298.64 L528.1 300.08 L529.1 300.79 L530.1 301.91 L531.1 303.21 L532.1 304.64 L533.1 305.5 L534.1 306.5 L535.1 307.84 L536.1 308.32 L537.1 309.1 L538.1 310.59 L539.1 311.69 L540.1 313.14 L541.1 314.43 L542.1 314.63 L543.1 316.65 L544.1 317.49 L544.2 317.41 L545.1 316.2 L546.1 315.49 L547.1 313.68 L548.1 312.32 L549.1 311.25 L550.1 309.66 L551.1 308.89 L552.1 307.53 L553.1 306.42 L554.1 305.2 L555.1 303.63 L556.1 303 L557.1 301.2 L558.1 300.45 L559.1 298.61 L560.1 297.88 L561.1 296.36 L562.1 295.35 L563.1 293.96 L564.1 292.36 L565.1 291.4 L566.1 290.48 L566.8 289.76 M438.1 299.94 L439.1 300.88 L440.1 302.31 L441.1 303.58 L442.1 304.59 L443.1 305.65 L444.1 307.18 L445.1 308.32 L446.1 309.37 L447.1 310.06 L448.1 311.42 L449.1 312.47 L450.1 313.27 L451.1 314.96 L452.1 315.87 L453.1 316.84 L454.1 318.42 L455.1 319.37 L456.1 320.5 L457.1 321.7 L458.1 322.69 L459.1 323.3 L460.1 324.63 L461.1 326.09 L461.7 326.31 L462.1 326.13 L463.1 325.25 L464.1 324.54 L465.1 323.54 L466.1 322.47 L467.1 321.23 L468.1 320.53 L469.1 319.47 L470.1 318.33 L471.1 317.74 L472.1 316.55 L473.1 315.27 L474.1 314.81 L475.1 313.46 L476.1 312.71 L477.1 311.21 L478.1 310.62 L479.1 309.41 L480.1 308.44 L481.1 307.24 L482.1 307.28 L483.1 305.74 L484.1 304.87 L485.1 304.12 L486.1 302.84 L487.1 302.03 L488.1 300.59 L489.1 300.02 L490.1 298.89 L491.1 298.15 L492.1 297.11 L493.1 295.75 L494.1 294.66 L495.1 293.9 L496.1 293.37 L497.1 292.36 L498.1 291.46 L499.1 289.95 L500.1 288.89 L501.1 288.77 L502.1 288.38 L503.1 287.84 L504.1 288.38 L505.1 288.73 L506.1 288.99 L507.1 289.94 L508.1 291.07 L509.1 291.93 L510.1 292.79 L511.1 294.44 L512.1 294.88 L513.1 296.04 L514.1 296.83 L515.1 298.05 L516.1 299.34 L517.1 300.42 L518.1 301.31 L519.1 302.51 L520.1 303.49 L521.1 304.08 L522.1 304.8 L523.1 307.26 L524.1 307.96 L525.1 308.8 L526.1 309.45 L527.1 310.63 L528.1 312.36 L529.1 312.39 L530.1 314.07 L531.1 315.44 L532.1 316.32 L533.1 317.54 L534.1 318.39 L535.1 320.09 L536.1 320.3 L537.1 321.28 L538.1 322.76 L539.1 324.11 L540.1 324.81 L541.1 326.15 L542.1 326.83 L543.1 327.73 L544.1 329.44 L544.2 329.59 L545.1 328.48 L546.1 326.77 L547.1 325.37 L548.1 324.14 L549.1 323.16 L550.1 322.14 L551.1 320.9 L552.1 319.19 L553.1 318.38 L554.1 317.11 L555.1 315.91 L556.1 314.66 L557.1 313.4 L558.1 312.37 L559.1 311.04 L560.1 309.84 L561.1 308.39 L562.1 307.44 L563.1 306.09 L564.1 304.37 L565.1 303.8 L566.1 302.39 L566.8 301.83 M438.1 312.26 L439.1 313.39 L440.1 314.57 L441.1 315.63 L442.1 316.63 L443.1 317.4 L444.1 319.42 L445.1 319.68 L446.1 321.1 L447.1 322.45 L448.1 323.5 L449.1 324.65 L450.1 325.81 L451.1 327.05 L452.1 327.92 L453.1 329.68 L454.1 329.81 L455.1 331.23 L456.1 332.19 L457.1 333.26 L458.1 334.58 L459.1 335.98 L460.1 336.55 L461.1 337.66 L461.7 338.68 L462.1 338.25 L463.1 337.63 L464.1 336.43 L465.1 335.26 L466.1 334.16 L467.1 333.32 L468.1 332.26 L469.1 330.99 L470.1 330.37 L471.1 329.35 L472.1 328.37 L473.1 327.35 L474.1 326.91 L475.1 325.7 L476.1 324.79 L477.1 323.43 L478.1 322.36 L479.1 321.58 L480.1 320.74 L481.1 319.63 L482.1 318.7 L483.1 318.01 L484.1 316.88 L485.1 315.59 L486.1 314.76 L487.1 313.74 L488.1 312.98 L489.1 311.67 L490.1 310.95 L491.1 310.2 L492.1 309.07 L493.1 307.86 L494.1 306.97 L495.1 306.18 L496.1 305.31 L497.1 304.46 L498.1 303.32 L499.1 302.13 L500.1 301.92 L501.1 301 L502.1 300.56 L503.1 300.07 L504.1 300.03 L505.1 300.69 L506.1 301.35 L507.1 302.42 L508.1 303.05 L509.1 303.13 L510.1 304.75 L511.1 305.96 L512.1 307.26 L513.1 308.19 L514.1 309.7 L515.1 310.5 L516.1 311.55 L517.1 312.51 L518.1 313 L519.1 314.62 L520.1 315.63 L521.1 316.41 L522.1 317.76 L523.1 318.79 L524.1 319.63 L525.1 320.78 L526.1 321.82 L527.1 323.01 L528.1 323.91 L529.1 325.22 L530.1 325.67 L531.1 327.15 L532.1 327.87 L533.1 329.23 L534.1 330.55 L535.1 331.49 L536.1 332.53 L537.1 333.64 L538.1 335.08 L539.1 335.48 L540.1 337.05 L541.1 337.51 L542.1 338.84 L543.1 340.07 L544.1 340.88 L544.2 341.25 L545.1 340.28 L546.1 338.58 L547.1 337.64 L548.1 336.34 L549.1 334.73 L550.1 333.95 L551.1 332.57 L552.1 331.89 L553.1 330.11 L554.1 329.53 L555.1 327.76 L556.1 327.15 L557.1 325.58 L558.1 324.34 L559.1 323.2 L560.1 322.01 L561.1 320.91 L562.1 319.77 L563.1 318.03 L564.1 316.58 L565.1 315.01 L566.1 314.36 L566.8 313.79 M438.1 324.39 L439.1 325.44 L440.1 326.43 L441.1 327.47 L442.1 328.67 L443.1 329.95 L444.1 330.52 L445.1 332.25 L446.1 332.82 L447.1 334.25 L448.1 335.24 L449.1 336.42 L450.1 337.36 L451.1 338.44 L452.1 339.78 L453.1 340.68 L454.1 342.68 L455.1 343.07 L456.1 344.12 L457.1 345.25 L458.1 346.23 L459.1 347 L460.1 348.66 L461.1 349.91 L461.7 350.12 L462.1 350.11 L463.1 348.84 L464.1 348.16 L465.1 347.3 L466.1 346.36 L467.1 345.38 L468.1 344.12 L469.1 343.55 L470.1 342.25 L471.1 341.48 L472.1 340.6 L473.1 339.38 L474.1 338.17 L475.1 337.67 L476.1 336.27 L477.1 335.36 L478.1 334.34 L479.1 333.86 L480.1 332.64 L481.1 331.15 L482.1 330.92 L483.1 330.29 L484.1 329.25 L485.1 327.69 L486.1 326.89 L487.1 326.03 L488.1 325.15 L489.1 323.97 L490.1 322.72 L491.1 322.21 L492.1 321.21 L493.1 319.75 L494.1 319.03 L495.1 318.22 L496.1 317.18 L497.1 316.38 L498.1 315.55 L499.1 314.59 L500.1 313.53 L501.1 312.58 L502.1 312.61 L503.1 312.34 L504.1 312.78 L505.1 312.76 L506.1 313.28 L507.1 314.52 L508.1 315.39 L509.1 315.99 L510.1 316.98 L511.1 317.68 L512.1 319.08 L513.1 319.8 L514.1 321.04 L515.1 322.11 L516.1 323.09 L517.1 323.75 L518.1 325.13 L519.1 326.49 L520.1 327.46 L521.1 328.44 L522.1 329.72 L523.1 330.85 L524.1 331.96 L525.1 332.61 L526.1 333.88 L527.1 334.86 L528.1 335.79 L529.1 336.71 L530.1 338.12 L531.1 339 L532.1 340.82 L533.1 341.32 L534.1 342.36 L535.1 343.38 L536.1 345.02 L537.1 345.38 L538.1 346.65 L539.1 347.56 L540.1 348.79 L541.1 349.88 L542.1 351.23 L543.1 351.67 L544.1 353.08 L544.2 353.6 L545.1 351.97 L546.1 350.83 L547.1 349.43 L548.1 347.78 L549.1 347.19 L550.1 346.28 L551.1 344.65 L552.1 343.09 L553.1 342.39 L554.1 341.13 L555.1 340.13 L556.1 338.89 L557.1 337.37 L558.1 336.32 L559.1 334.55 L560.1 334.06 L561.1 332.6 L562.1 331.61 L563.1 330.38 L564.1 328.82 L565.1 327.63 L566.1 326.23 L566.8 325.08 M438.1 336.26 L439.1 337.44 L440.1 338.24 L441.1 339.8 L442.1 340.76 L443.1 341.96 L444.1 342.76 L445.1 343.63 L446.1 345.37 L447.1 346.44 L448.1 347.37 L449.1 348.4 L450.1 349.55 L451.1 350.69 L452.1 351.71 L453.1 352.45 L454.1 354.25 L455.1 354.79 L456.1 356.2 L457.1 357.31 L458.1 358.56 L459.1 359.21 L460.1 361.02 L461.1 361.99 L461.7 362.69 L462.1 362.43 L463.1 360.94 L464.1 359.39 L465.1 359.29 L466.1 358.56 L467.1 357.56 L468.1 356.17 L469.1 355.31 L470.1 354.43 L471.1 352.94 L472.1 352.26 L473.1 351.3 L474.1 350.89 L475.1 349.36 L476.1 348.95 L477.1 347.59 L478.1 346.2 L479.1 346.2 L480.1 344.44 L481.1 343.87 L482.1 343.17 L483.1 341.64 L484.1 340.5 L485.1 340.1 L486.1 338.89 L487.1 337.59 L488.1 336.66 L489.1 335.87 L490.1 335.24 L491.1 333.95 L492.1 333.22 L493.1 332.5 L494.1 331.44 L495.1 330.51 L496.1 329.49 L497.1 327.85 L498.1 327.66 L499.1 326.54 L500.1 325.53 L501.1 324.65 L502.1 324.06 L503.1 323.72 L504.1 324.28 L505.1 324.47 L506.1 325.08 L507.1 326.01 L508.1 327.2 L509.1 327.84 L510.1 328.77 L511.1 330.21 L512.1 330.86 L513.1 332.16 L514.1 332.81 L515.1 334.23 L516.1 335.24 L517.1 336.32 L518.1 337.23 L519.1 338.15 L520.1 339.4 L521.1 340.43 L522.1 341.87 L523.1 342.91 L524.1 343.45 L525.1 344.97 L526.1 345.76 L527.1 347.06 L528.1 347.9 L529.1 348.72 L530.1 350.41 L531.1 351.33 L532.1 351.98 L533.1 352.88 L534.1 354.29 L535.1 355.19 L536.1 356.46 L537.1 357.78 L538.1 359.06 L539.1 359.67 L540.1 361.17 L541.1 362.18 L542.1 362.85 L543.1 363.61 L544.1 365.31 L544.2 365.35 L545.1 364.69 L546.1 363.24 L547.1 361.85 L548.1 360.86 L549.1 358.95 L550.1 358.04 L551.1 356.71 L552.1 355.99 L553.1 354.47 L554.1 352.35 L555.1 352.23 L556.1 350.44 L557.1 349.64 L558.1 348.11 L559.1 347.07 L560.1 345.94 L561.1 344.61 L562.1 343.1 L563.1 342.47 L564.1 341 L565.1 339.68 L566.1 338.64 L566.8 337.47 M438.1 348.78 L439.1 349.47 L440.1 350.62 L441.1 351.72 L442.1 352.52 L443.1 353.56 L444.1 355.02 L445.1 356.16 L446.1 357.52 L447.1 358.41 L448.1 359.13 L449.1 360.65 L450.1 361.83 L451.1 362.99 L452.1 363.93 L453.1 364.65 L454.1 366.36 L455.1 366.99 L456.1 368.43 L457.1 369 L458.1 370.7 L459.1 371.42 L460.1 373 L461.1 374.28 L461.7 374.8 L462.1 373.83 L463.1 372.91 L464.1 371.96 L465.1 371.38 L466.1 370.33 L467.1 369.31 L468.1 368.38 L469.1 367.48 L470.1 366.53 L471.1 365.82 L472.1 364.42 L473.1 363.51 L474.1 362.03 L475.1 361.2 L476.1 360.38 L477.1 359.29 L478.1 358.68 L479.1 357.91 L480.1 356.57 L481.1 355.59 L482.1 354.62 L483.1 353.81 L484.1 352.67 L485.1 351.95 L486.1 350.95 L487.1 349.99 L488.1 349.12 L489.1 347.97 L490.1 347.03 L491.1 346.47 L492.1 345.05 L493.1 344.29 L494.1 343.14 L495.1 342.04 L496.1 341.07 L497.1 340.05 L498.1 339.36 L499.1 338.31 L500.1 337.45 L501.1 337.23 L502.1 336.42 L503.1 336.28 L504.1 336.35 L505.1 336.98 L506.1 337.13 L507.1 338.2 L508.1 339.7 L509.1 340.12 L510.1 341.06 L511.1 341.93 L512.1 343.15 L513.1 343.72 L514.1 344.86 L515.1 346.25 L516.1 347.41 L517.1 348.17 L518.1 349.3 L519.1 350.32 L520.1 351.43 L521.1 352.24 L522.1 353.25 L523.1 354.66 L524.1 355.31 L525.1 356.57 L526.1 357.71 L527.1 358.68 L528.1 360.07 L529.1 360.97 L530.1 362.13 L531.1 362.96 L532.1 364.1 L533.1 365.48 L534.1 366.51 L535.1 367.37 L536.1 368.64 L537.1 369.66 L538.1 370.72 L539.1 372.15 L540.1 372.72 L541.1 373.99 L542.1 375.06 L543.1 375.96 L544.1 376.79 L544.2 377.37 L545.1 376.16 L546.1 374.88 L547.1 373.66 L548.1 372.43 L549.1 370.98 L550.1 370.06 L551.1 368.31 L552.1 367.54 L553.1 365.95 L554.1 365.01 L555.1 364.06 L556.1 362.59 L557.1 361.31 L558.1 360.34 L559.1 358.92 L560.1 357.67 L561.1 356.45 L562.1 355.71 L563.1 354.27 L564.1 353 L565.1 351.37 L566.1 350.6 L566.8 349.26 M438.1 360.41 L439.1 361.12 L440.1 362.99 L441.1 363.2 L442.1 365.03 L443.1 366.04 L444.1 366.5 L445.1 368 L446.1 369.53 L447.1 370.56 L448.1 370.97 L449.1 372.37 L450.1 373.31 L451.1 374.46 L452.1 375.67 L453.1 377.4 L454.1 378.08 L455.1 379.1 L456.1 380.18 L457.1 381.54 L458.1 382.66 L459.1 383.37 L460.1 385.07 L461.1 385.55 L461.7 386.41 L462.1 386.21 L463.1 385.56 L464.1 384.07 L465.1 383.26 L466.1 382.55 L467.1 381.41 L468.1 380.57 L469.1 379.58 L470.1 378.41 L471.1 377.54 L472.1 376.64 L473.1 375.44 L474.1 374.87 L475.1 373.01 L476.1 372.31 L477.1 371.93 L478.1 370.71 L479.1 369.47 L480.1 368.76 L481.1 367.97 L482.1 366.59 L483.1 365.95 L484.1 364.76 L485.1 363.79 L486.1 362.84 L487.1 362.16 L488.1 360.64 L489.1 359.86 L490.1 359.14 L491.1 357.71 L492.1 356.65 L493.1 356.22 L494.1 355.11 L495.1 354.1 L496.1 353.2 L497.1 351.99 L498.1 352.07 L499.1 350.19 L500.1 349.43 L501.1 348.55 L502.1 348.34 L503.1 348.36 L504.1 348.27 L505.1 348.9 L506.1 349.15 L507.1 350.6 L508.1 351.06 L509.1 351.58 L510.1 352.98 L511.1 353.77 L512.1 355.08 L513.1 356.03 L514.1 357.13 L515.1 358.16 L516.1 358.97 L517.1 359.89 L518.1 361.57 L519.1 362.36 L520.1 363.53 L521.1 364.41 L522.1 365.09 L523.1 366.35 L524.1 368.08 L525.1 368.6 L526.1 369.77 L527.1 370.57 L528.1 371.87 L529.1 372.98 L530.1 374.08 L531.1 375.18 L532.1 376.11 L533.1 377.19 L534.1 378.4 L535.1 379.55 L536.1 380.5 L537.1 382.04 L538.1 382.72 L539.1 383.78 L540.1 384.64 L541.1 386.13 L542.1 386.69 L543.1 387.6 L544.1 388.83 L544.2 389.34 L545.1 387.8 L546.1 387.19 L547.1 385.64 L548.1 384.04 L549.1 383.14 L550.1 382.42 L551.1 380.54 L552.1 379.21 L553.1 378.44 L554.1 377.42 L555.1 376.12 L556.1 374.57 L557.1 373.48 L558.1 372.29 L559.1 371.28 L560.1 370.3 L561.1 368.52 L562.1 367.65 L563.1 366.01 L564.1 365.03 L565.1 363.42 L566.1 362.25 L566.8 361.69 M438.1 372.06 L439.1 373.61 L440.1 374.36 L441.1 375.63 L442.1 376.7 L443.1 377.75 L444.1 378.98 L445.1 380.32 L446.1 381.94 L447.1 381.98 L448.1 383.46 L449.1 384.45 L450.1 385.38 L451.1 386.79 L452.1 387.6 L453.1 388.92 L454.1 390.35 L455.1 390.65 L456.1 392.33 L457.1 393.49 L458.1 394.25 L459.1 395.73 L460.1 396.79 L461.1 397.73 L461.7 398.79 L462.1 397.77 L463.1 397.29 L464.1 396.1 L465.1 394.93 L466.1 394.18 L467.1 393.16 L468.1 392.49 L469.1 390.94 L470.1 390.3 L471.1 389.26 L472.1 388.8 L473.1 387.16 L474.1 386.74 L475.1 385.07 L476.1 384.62 L477.1 383.53 L478.1 382.69 L479.1 381.45 L480.1 380.17 L481.1 379.31 L482.1 379.05 L483.1 377.81 L484.1 376.57 L485.1 376.04 L486.1 374.66 L487.1 373.7 L488.1 372.61 L489.1 372.24 L490.1 371.46 L491.1 369.76 L492.1 369.11 L493.1 368.31 L494.1 367.63 L495.1 365.53 L496.1 365.2 L497.1 364.39 L498.1 362.96 L499.1 362.54 L500.1 361.59 L501.1 361.08 L502.1 360.29 L503.1 360.07 L504.1 360.11 L505.1 360.89 L506.1 361.3 L507.1 362.04 L508.1 362.66 L509.1 364.3 L510.1 365.06 L511.1 366.07 L512.1 366.75 L513.1 367.9 L514.1 369.47 L515.1 370.31 L516.1 370.97 L517.1 372.27 L518.1 373.36 L519.1 374.34 L520.1 375.22 L521.1 376.84 L522.1 377.74 L523.1 378.61 L524.1 379.33 L525.1 380.65 L526.1 381.86 L527.1 383.14 L528.1 383.9 L529.1 385.34 L530.1 386.17 L531.1 387.01 L532.1 387.57 L533.1 389.04 L534.1 390.03 L535.1 391.43 L536.1 392.62 L537.1 393.95 L538.1 394.67 L539.1 395.45 L540.1 397.39 L541.1 397.95 L542.1 398.87 L543.1 399.94 L544.1 400.74 L544.2 401.34 L545.1 400.18 L546.1 399.26 L547.1 397.92 L548.1 396.64 L549.1 395.51 L550.1 393.91 L551.1 392.65 L552.1 391.52 L553.1 390 L554.1 389.06 L555.1 387.79 L556.1 386.82 L557.1 385.43 L558.1 383.73 L559.1 383 L560.1 382.12 L561.1 380.09 L562.1 379.14 L563.1 378.11 L564.1 376.55 L565.1 375.52 L566.1 374.46 L566.8 373.26 M438.1 384.36 L439.1 385.5 L440.1 386.19 L441.1 387.62 L442.1 389 L443.1 389.79 L444.1 391.06 L445.1 392.22 L446.1 393.11 L447.1 394.53 L448.1 395.49 L449.1 396.25 L450.1 397.74 L451.1 398.94 L452.1 400.03 L453.1 400.78 L454.1 402.17 L455.1 403.51 L456.1 404.33 L457.1 405.68 L458.1 406.82 L459.1 407.6 L460.1 408.88 L461.1 409.75 L461.7 410.76 L462.1 410.08 L463.1 409 L464.1 408.16 L465.1 407.18 L466.1 406.33 L467.1 405.38 L468.1 404 L469.1 403.16 L470.1 402.45 L471.1 401.51 L472.1 400.44 L473.1 400.11 L474.1 398.77 L475.1 397.5 L476.1 396.73 L477.1 395.92 L478.1 394.7 L479.1 393.21 L480.1 392.7 L481.1 391.72 L482.1 391.27 L483.1 389.31 L484.1 389.19 L485.1 387.8 L486.1 387.1 L487.1 385.83 L488.1 384.98 L489.1 384.25 L490.1 383.02 L491.1 382.29 L492.1 381.04 L493.1 379.99 L494.1 379.07 L495.1 378.03 L496.1 377.16 L497.1 376.59 L498.1 375.06 L499.1 374.04 L500.1 373.56 L501.1 373.35 L502.1 372.72 L503.1 372.33 L504.1 372.6 L505.1 372.59 L506.1 373.32 L507.1 373.5 L508.1 374.89 L509.1 376.07 L510.1 376.42 L511.1 377.36 L512.1 378.62 L513.1 380.07 L514.1 381.37 L515.1 382.8 L516.1 383.57 L517.1 383.91 L518.1 384.77 L519.1 386.46 L520.1 387.75 L521.1 388.15 L522.1 389.49 L523.1 390.58 L524.1 391.77 L525.1 392.78 L526.1 394.02 L527.1 395.23 L528.1 396.05 L529.1 397.29 L530.1 398.66 L531.1 398.98 L532.1 400.04 L533.1 401.5 L534.1 402.9 L535.1 403.55 L536.1 404.84 L537.1 405.56 L538.1 406.94 L539.1 407.62 L540.1 409.01 L541.1 410.01 L542.1 411.08 L543.1 412.39 L544.1 413.38 L544.2 413.07 L545.1 412.34 L546.1 410.48 L547.1 409.93 L548.1 409.15 L549.1 407.37 L550.1 406.15 L551.1 404.81 L552.1 403.79 L553.1 402.24 L554.1 401.3 L555.1 399.85 L556.1 398.59 L557.1 397.51 L558.1 396.24 L559.1 394.6 L560.1 394.33 L561.1 392.63 L562.1 390.95 L563.1 390.42 L564.1 388.92 L565.1 387.76 L566.1 386.66 L566.8 385.41 M438.1 395.6 L439.1 397.42 L440.1 398.61 L441.1 399.91 L442.1 400.58 L443.1 401.82 L444.1 403.09 L445.1 404.02 L446.1 405.15 L447.1 406.39 L448.1 407.18 L449.1 408.94 L450.1 409.42 L451.1 410.77 L452.1 411.79 L453.1 412.81 L454.1 414.23 L455.1 415.46 L456.1 416.68 L457.1 417.57 L458.1 418.42 L459.1 419.86 L460.1 420.39 L461.1 421.88 L461.7 422.66 L462.1 422.28 L463.1 420.89 L464.1 419.83 L465.1 419.65 L466.1 418.14 L467.1 416.89 L468.1 416.02 L469.1 415.36 L470.1 414.69 L471.1 413.42 L472.1 412.75 L473.1 411.54 L474.1 410.63 L475.1 409.79 L476.1 408.48 L477.1 407.68 L478.1 406.54 L479.1 405.51 L480.1 404.87 L481.1 403.53 L482.1 402.79 L483.1 401.6 L484.1 400.81 L485.1 399.73 L486.1 399.16 L487.1 397.94 L488.1 396.97 L489.1 396.39 L490.1 394.29 L491.1 393.76 L492.1 392.39 L493.1 392.1 L494.1 391.25 L495.1 390.33 L496.1 389.26 L497.1 388.05 L498.1 387.8 L499.1 386.54 L500.1 385.51 L501.1 384.65 L502.1 384.57 L503.1 383.88 L504.1 384.18 L505.1 384.83 L506.1 385.35 L507.1 385.97 L508.1 387.36 L509.1 387.67 L510.1 388.54 L511.1 389.96 L512.1 390.98 L513.1 392.03 L514.1 392.98 L515.1 394.16 L516.1 395.08 L517.1 395.87 L518.1 397.53 L519.1 398.16 L520.1 399.43 L521.1 400.73 L522.1 401.62 L523.1 403.37 L524.1 403.4 L525.1 404.63 L526.1 405.91 L527.1 407.29 L528.1 407.96 L529.1 408.73 L530.1 410.44 L531.1 410.99 L532.1 412.24 L533.1 413.58 L534.1 414.26 L535.1 415.38 L536.1 416.68 L537.1 417.57 L538.1 418.76 L539.1 419.52 L540.1 420.8 L541.1 421.62 L542.1 422.57 L543.1 424.47 L544.1 425.21 L544.2 425.43 L545.1 423.86 L546.1 422.87 L547.1 421.61 L548.1 420.08 L549.1 419.35 L550.1 417.82 L551.1 416.72 L552.1 415.17 L553.1 414.58 L554.1 413.3 L555.1 411.99 L556.1 410.44 L557.1 409.31 L558.1 408.53 L559.1 406.94 L560.1 405.85 L561.1 404.6 L562.1 403.06 L563.1 402.5 L564.1 400.4 L565.1 399.73 L566.1 398.43 L566.8 397.2" stroke="#ff9428" stroke-width="0.7" stroke-dasharray="1.1 2.2"/>
</g>
<path d="M499 298.4 H516.8 M463.3 339.2 H516.8" stroke="#dfe5ea" stroke-width="0.6" stroke-dasharray="1.5 1.2" fill="none"/>
<path d="M507.5 302.5 V336" stroke="#c9d3dc" stroke-width="0.7" fill="none"/>
<path d="M507.5 300.6 l-1.4 3 h2.8z M507.5 337.8 l-1.4 -3 h2.8z" fill="#f2f4f6"/>
<text x="442" y="301.2" font-size="7.3" fill="#eef1f4" text-anchor="start">Sweeping range</text>
<text x="442" y="309.8" font-size="7.3" fill="#eef1f4" text-anchor="start">&gt;3 FSR</text>
<text x="434.5" y="296.9" font-size="7.8" fill="#161616" text-anchor="end">1,599</text>
<text x="434.5" y="391.7" font-size="7.8" fill="#161616" text-anchor="end">1,601</text>
<text x="438.5" y="400.9" font-size="8" fill="#161616" text-anchor="middle">0</text>
<text x="471" y="400.9" font-size="8" fill="#161616" text-anchor="middle">50</text>
<text x="503.2" y="400.9" font-size="8" fill="#161616" text-anchor="middle">100</text>
<text x="535.2" y="400.9" font-size="8" fill="#161616" text-anchor="middle">150</text>
<text x="566.8" y="400.9" font-size="8" fill="#161616" text-anchor="middle">200</text>
<text x="502.4" y="411.5" font-size="7.5" fill="#161616" text-anchor="middle">Time (s)</text>
<text x="425.5" y="342" font-size="7.8" fill="#161616" text-anchor="middle" transform="rotate(-90 425.5 342)">Wavelength (nm)</text>
<defs><linearGradient id="gcb2" x1="0" y1="0" x2="0" y2="1"><stop offset="0" stop-color="#fff7d0"/><stop offset="0.1" stop-color="#ffe990"/><stop offset="0.2" stop-color="#ffd152"/><stop offset="0.3" stop-color="#ffb72e"/><stop offset="0.38" stop-color="#ffa11e"/><stop offset="0.47" stop-color="#ff860e"/><stop offset="0.56" stop-color="#ff5c00"/><stop offset="0.64" stop-color="#f62000"/><stop offset="0.72" stop-color="#d01010"/><stop offset="0.8" stop-color="#921020"/><stop offset="0.89" stop-color="#4a1a38"/><stop offset="1" stop-color="#0c2c48"/></linearGradient></defs>
<rect x="576.4" y="293.0" width="8.9" height="96.4" fill="url(#gcb2)" stroke="#9a9a9a" stroke-width="0.5"/>
<text x="595.1" y="339.4" font-size="7.85" fill="#161616" text-anchor="middle" transform="rotate(-90 595.1 339.4)">Power (10 dB/div)</text>
</g>
</svg>
</body>
</html>
